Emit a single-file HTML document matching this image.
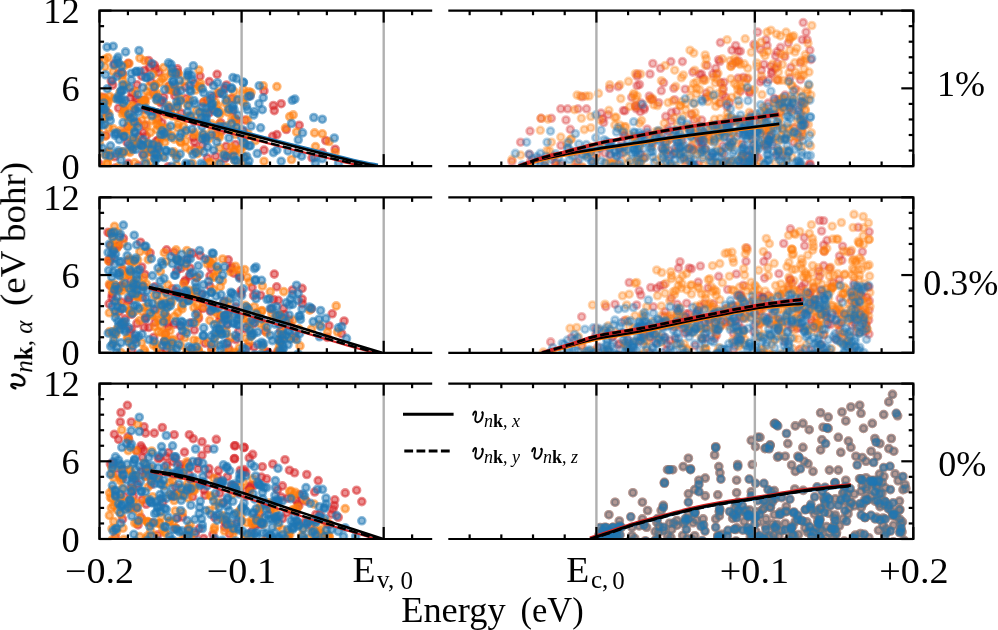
<!DOCTYPE html>
<html><head><meta charset="utf-8"><style>html,body{margin:0;padding:0;background:#fff;overflow:hidden}svg{display:block}</style></head>
<body><svg width="998" height="630" viewBox="0 0 998 630"><rect x="0" y="0" width="998" height="630" fill="#ffffff"/><defs><clipPath id="cl0"><rect x="99.5" y="10.6" width="331.6" height="155.5"/></clipPath><clipPath id="cr0"><rect x="449.4" y="10.6" width="463.9" height="155.5"/></clipPath><clipPath id="cl1"><rect x="99.5" y="197.3" width="331.6" height="155.5"/></clipPath><clipPath id="cr1"><rect x="449.4" y="197.3" width="463.9" height="155.5"/></clipPath><clipPath id="cl2"><rect x="99.5" y="383.6" width="331.6" height="155.39999999999998"/></clipPath><clipPath id="cr2"><rect x="449.4" y="383.6" width="463.9" height="155.39999999999998"/></clipPath></defs><g clip-path="url(#cl0)"><g fill="#d62728" fill-opacity="0.52" stroke="#d62728" stroke-opacity="0.52" stroke-width="2.6"><circle cx="114.2" cy="63.8" r="3.5"/><circle cx="149.4" cy="67.6" r="3.5"/><circle cx="156.1" cy="68.6" r="3.5"/><circle cx="176.1" cy="73.3" r="3.5"/><circle cx="141.8" cy="76.2" r="3.5"/><circle cx="159.0" cy="72.4" r="3.5"/><circle cx="111.3" cy="81.0" r="3.5"/><circle cx="137.0" cy="84.8" r="3.5"/><circle cx="130.4" cy="98.1" r="3.5"/><circle cx="163.7" cy="97.1" r="3.5"/><circle cx="151.3" cy="81.9" r="3.5"/><circle cx="177.6" cy="72.9" r="3.5"/><circle cx="200.0" cy="76.2" r="3.5"/><circle cx="217.1" cy="74.3" r="3.5"/><circle cx="224.3" cy="89.0" r="3.5"/><circle cx="212.9" cy="96.7" r="3.5"/><circle cx="207.1" cy="100.5" r="3.5"/><circle cx="174.8" cy="95.7" r="3.5"/><circle cx="264.0" cy="90.9" r="3.5"/><circle cx="273.4" cy="105.5" r="3.5"/><circle cx="281.2" cy="103.7" r="3.5"/><circle cx="274.3" cy="110.6" r="3.5"/><circle cx="286.3" cy="129.5" r="3.5"/><circle cx="299.2" cy="125.2" r="3.5"/><circle cx="276.9" cy="134.6" r="3.5"/><circle cx="325.8" cy="140.6" r="3.5"/><circle cx="272.6" cy="136.3" r="3.5"/><circle cx="322.3" cy="152.6" r="3.5"/><circle cx="335.2" cy="149.2" r="3.5"/><circle cx="264.0" cy="150.1" r="3.5"/><circle cx="312.0" cy="157.8" r="3.5"/><circle cx="128.3" cy="163.3" r="3.5"/><circle cx="137.5" cy="101.5" r="3.5"/><circle cx="232.3" cy="110.8" r="3.5"/><circle cx="243.7" cy="131.3" r="3.5"/><circle cx="134.4" cy="109.2" r="3.5"/><circle cx="160.9" cy="102.8" r="3.5"/><circle cx="106.6" cy="112.1" r="3.5"/><circle cx="98.8" cy="163.3" r="3.5"/><circle cx="235.5" cy="144.5" r="3.5"/><circle cx="224.9" cy="158.7" r="3.5"/><circle cx="194.8" cy="148.8" r="3.5"/><circle cx="207.4" cy="158.0" r="3.5"/><circle cx="106.1" cy="135.4" r="3.5"/><circle cx="144.9" cy="109.4" r="3.5"/><circle cx="235.0" cy="118.7" r="3.5"/><circle cx="124.4" cy="110.3" r="3.5"/><circle cx="121.4" cy="133.4" r="3.5"/><circle cx="158.3" cy="140.0" r="3.5"/><circle cx="215.8" cy="156.1" r="3.5"/><circle cx="194.4" cy="141.8" r="3.5"/><circle cx="234.2" cy="151.1" r="3.5"/><circle cx="215.8" cy="134.8" r="3.5"/><circle cx="209.1" cy="112.9" r="3.5"/><circle cx="212.0" cy="109.2" r="3.5"/><circle cx="220.7" cy="122.7" r="3.5"/><circle cx="146.1" cy="136.1" r="3.5"/><circle cx="161.9" cy="122.7" r="3.5"/><circle cx="205.2" cy="137.7" r="3.5"/><circle cx="144.9" cy="125.0" r="3.5"/><circle cx="227.4" cy="155.4" r="3.5"/><circle cx="127.5" cy="126.9" r="3.5"/><circle cx="221.8" cy="131.0" r="3.5"/><circle cx="236.8" cy="120.7" r="3.5"/><circle cx="170.3" cy="111.6" r="3.5"/><circle cx="168.2" cy="166.7" r="3.5"/><circle cx="142.8" cy="154.2" r="3.5"/><circle cx="115.1" cy="168.0" r="3.5"/><circle cx="114.9" cy="156.8" r="3.5"/><circle cx="156.9" cy="112.7" r="3.5"/><circle cx="186.2" cy="98.4" r="3.5"/><circle cx="143.4" cy="132.4" r="3.5"/><circle cx="168.8" cy="110.5" r="3.5"/><circle cx="168.8" cy="107.9" r="3.5"/><circle cx="127.1" cy="142.4" r="3.5"/><circle cx="138.6" cy="143.0" r="3.5"/><circle cx="139.0" cy="136.1" r="3.5"/><circle cx="226.2" cy="146.3" r="3.5"/><circle cx="161.4" cy="100.7" r="3.5"/><circle cx="181.0" cy="113.1" r="3.5"/><circle cx="137.4" cy="122.1" r="3.5"/><circle cx="151.4" cy="152.4" r="3.5"/><circle cx="193.1" cy="137.4" r="3.5"/><circle cx="202.1" cy="145.0" r="3.5"/><circle cx="245.2" cy="120.0" r="3.5"/><circle cx="156.3" cy="141.3" r="3.5"/><circle cx="118.6" cy="108.1" r="3.5"/><circle cx="136.0" cy="98.8" r="3.5"/><circle cx="138.7" cy="165.4" r="3.5"/><circle cx="157.9" cy="147.9" r="3.5"/><circle cx="194.3" cy="121.6" r="3.5"/><circle cx="158.1" cy="119.1" r="3.5"/><circle cx="118.4" cy="73.6" r="3.5"/><circle cx="128.2" cy="63.3" r="3.5"/><circle cx="169.5" cy="85.8" r="3.5"/><circle cx="209.3" cy="81.6" r="3.5"/><circle cx="148.6" cy="60.5" r="3.5"/><circle cx="103.1" cy="97.2" r="3.5"/><circle cx="175.6" cy="91.5" r="3.5"/><circle cx="97.9" cy="59.9" r="3.5"/><circle cx="154.3" cy="65.1" r="3.5"/><circle cx="122.4" cy="73.5" r="3.5"/><circle cx="194.1" cy="83.3" r="3.5"/><circle cx="177.4" cy="68.9" r="3.5"/><circle cx="112.7" cy="85.1" r="3.5"/><circle cx="219.1" cy="93.5" r="3.5"/><circle cx="249.8" cy="95.7" r="3.5"/><circle cx="175.2" cy="88.8" r="3.5"/><circle cx="131.9" cy="92.5" r="3.5"/><circle cx="203.2" cy="102.6" r="3.5"/><circle cx="144.6" cy="70.5" r="3.5"/><circle cx="185.3" cy="87.1" r="3.5"/><circle cx="169.4" cy="89.8" r="3.5"/><circle cx="226.6" cy="85.0" r="3.5"/><circle cx="144.4" cy="100.0" r="3.5"/><circle cx="231.9" cy="98.5" r="3.5"/><circle cx="153.5" cy="93.3" r="3.5"/></g><g fill="#ff7f0e" fill-opacity="0.52" stroke="#ff7f0e" stroke-opacity="0.52" stroke-width="2.6"><circle cx="139.9" cy="58.1" r="3.5"/><circle cx="108.0" cy="57.6" r="3.5"/><circle cx="124.7" cy="65.7" r="3.5"/><circle cx="105.1" cy="66.7" r="3.5"/><circle cx="163.7" cy="67.6" r="3.5"/><circle cx="113.2" cy="71.4" r="3.5"/><circle cx="122.8" cy="75.2" r="3.5"/><circle cx="153.2" cy="74.3" r="3.5"/><circle cx="164.7" cy="77.1" r="3.5"/><circle cx="170.4" cy="89.5" r="3.5"/><circle cx="119.9" cy="92.4" r="3.5"/><circle cx="109.4" cy="96.2" r="3.5"/><circle cx="149.4" cy="95.2" r="3.5"/><circle cx="157.0" cy="93.3" r="3.5"/><circle cx="199.0" cy="70.0" r="3.5"/><circle cx="195.7" cy="90.0" r="3.5"/><circle cx="218.1" cy="91.9" r="3.5"/><circle cx="215.2" cy="101.9" r="3.5"/><circle cx="235.7" cy="99.5" r="3.5"/><circle cx="242.4" cy="101.4" r="3.5"/><circle cx="179.5" cy="97.6" r="3.5"/><circle cx="187.1" cy="104.3" r="3.5"/><circle cx="249.0" cy="91.9" r="3.5"/><circle cx="263.2" cy="85.7" r="3.5"/><circle cx="276.9" cy="86.6" r="3.5"/><circle cx="251.1" cy="92.6" r="3.5"/><circle cx="247.7" cy="120.0" r="3.5"/><circle cx="293.2" cy="114.9" r="3.5"/><circle cx="289.7" cy="116.6" r="3.5"/><circle cx="285.5" cy="127.8" r="3.5"/><circle cx="296.6" cy="132.0" r="3.5"/><circle cx="314.6" cy="132.9" r="3.5"/><circle cx="322.3" cy="133.8" r="3.5"/><circle cx="329.2" cy="141.5" r="3.5"/><circle cx="315.5" cy="146.6" r="3.5"/><circle cx="335.2" cy="152.6" r="3.5"/><circle cx="291.5" cy="159.5" r="3.5"/><circle cx="264.0" cy="161.2" r="3.5"/><circle cx="241.7" cy="162.9" r="3.5"/><circle cx="255.4" cy="140.6" r="3.5"/><circle cx="165.7" cy="137.0" r="3.5"/><circle cx="174.2" cy="139.1" r="3.5"/><circle cx="247.3" cy="167.4" r="3.5"/><circle cx="167.4" cy="128.0" r="3.5"/><circle cx="194.6" cy="132.5" r="3.5"/><circle cx="138.8" cy="169.8" r="3.5"/><circle cx="106.8" cy="152.5" r="3.5"/><circle cx="157.2" cy="100.5" r="3.5"/><circle cx="105.2" cy="154.8" r="3.5"/><circle cx="141.6" cy="100.5" r="3.5"/><circle cx="133.4" cy="140.1" r="3.5"/><circle cx="124.2" cy="106.6" r="3.5"/><circle cx="126.3" cy="166.3" r="3.5"/><circle cx="132.7" cy="147.8" r="3.5"/><circle cx="187.9" cy="117.0" r="3.5"/><circle cx="151.8" cy="161.8" r="3.5"/><circle cx="99.3" cy="142.7" r="3.5"/><circle cx="145.1" cy="170.0" r="3.5"/><circle cx="209.5" cy="162.5" r="3.5"/><circle cx="218.2" cy="163.6" r="3.5"/><circle cx="234.7" cy="160.3" r="3.5"/><circle cx="185.7" cy="140.7" r="3.5"/><circle cx="209.2" cy="138.6" r="3.5"/><circle cx="108.9" cy="151.3" r="3.5"/><circle cx="170.1" cy="112.3" r="3.5"/><circle cx="146.4" cy="144.9" r="3.5"/><circle cx="185.8" cy="118.7" r="3.5"/><circle cx="129.0" cy="126.0" r="3.5"/><circle cx="144.6" cy="157.9" r="3.5"/><circle cx="132.6" cy="105.6" r="3.5"/><circle cx="164.8" cy="142.2" r="3.5"/><circle cx="243.6" cy="146.3" r="3.5"/><circle cx="203.4" cy="134.0" r="3.5"/><circle cx="239.6" cy="149.2" r="3.5"/><circle cx="192.3" cy="163.2" r="3.5"/><circle cx="231.4" cy="154.8" r="3.5"/><circle cx="196.3" cy="110.4" r="3.5"/><circle cx="247.0" cy="168.3" r="3.5"/><circle cx="108.7" cy="128.1" r="3.5"/><circle cx="217.3" cy="105.5" r="3.5"/><circle cx="177.1" cy="116.8" r="3.5"/><circle cx="227.0" cy="167.6" r="3.5"/><circle cx="126.9" cy="135.2" r="3.5"/><circle cx="100.3" cy="167.7" r="3.5"/><circle cx="219.4" cy="137.2" r="3.5"/><circle cx="162.8" cy="156.2" r="3.5"/><circle cx="177.7" cy="127.8" r="3.5"/><circle cx="177.5" cy="107.0" r="3.5"/><circle cx="194.3" cy="134.7" r="3.5"/><circle cx="227.9" cy="112.4" r="3.5"/><circle cx="173.9" cy="151.9" r="3.5"/><circle cx="167.9" cy="133.6" r="3.5"/><circle cx="219.5" cy="147.9" r="3.5"/><circle cx="219.9" cy="114.4" r="3.5"/><circle cx="231.5" cy="147.1" r="3.5"/><circle cx="198.6" cy="120.3" r="3.5"/><circle cx="178.1" cy="124.2" r="3.5"/><circle cx="190.8" cy="150.4" r="3.5"/><circle cx="134.6" cy="162.9" r="3.5"/><circle cx="244.9" cy="137.6" r="3.5"/><circle cx="120.6" cy="130.4" r="3.5"/><circle cx="176.6" cy="165.3" r="3.5"/><circle cx="177.3" cy="104.3" r="3.5"/><circle cx="166.2" cy="114.7" r="3.5"/><circle cx="201.5" cy="137.4" r="3.5"/><circle cx="179.4" cy="100.4" r="3.5"/><circle cx="180.8" cy="142.3" r="3.5"/><circle cx="128.4" cy="120.8" r="3.5"/><circle cx="107.4" cy="104.0" r="3.5"/><circle cx="108.1" cy="101.2" r="3.5"/><circle cx="156.9" cy="124.1" r="3.5"/><circle cx="218.8" cy="135.5" r="3.5"/><circle cx="99.4" cy="133.7" r="3.5"/><circle cx="209.5" cy="162.4" r="3.5"/><circle cx="129.9" cy="152.4" r="3.5"/><circle cx="156.7" cy="120.3" r="3.5"/><circle cx="172.0" cy="135.3" r="3.5"/><circle cx="236.9" cy="125.8" r="3.5"/><circle cx="243.5" cy="143.0" r="3.5"/><circle cx="105.1" cy="118.1" r="3.5"/><circle cx="215.5" cy="108.5" r="3.5"/><circle cx="124.4" cy="111.3" r="3.5"/><circle cx="122.6" cy="151.8" r="3.5"/><circle cx="219.4" cy="123.9" r="3.5"/><circle cx="97.7" cy="130.4" r="3.5"/><circle cx="145.6" cy="114.5" r="3.5"/><circle cx="194.1" cy="169.5" r="3.5"/><circle cx="119.2" cy="152.8" r="3.5"/><circle cx="110.0" cy="157.0" r="3.5"/><circle cx="143.9" cy="100.7" r="3.5"/><circle cx="156.7" cy="129.6" r="3.5"/><circle cx="205.3" cy="112.8" r="3.5"/><circle cx="190.9" cy="116.8" r="3.5"/><circle cx="141.9" cy="120.3" r="3.5"/><circle cx="130.9" cy="106.8" r="3.5"/><circle cx="107.2" cy="164.0" r="3.5"/><circle cx="147.0" cy="125.9" r="3.5"/><circle cx="203.8" cy="168.6" r="3.5"/><circle cx="174.4" cy="154.1" r="3.5"/><circle cx="120.4" cy="152.5" r="3.5"/><circle cx="150.3" cy="132.5" r="3.5"/><circle cx="248.0" cy="133.7" r="3.5"/><circle cx="108.8" cy="113.3" r="3.5"/><circle cx="146.7" cy="164.7" r="3.5"/><circle cx="236.0" cy="169.4" r="3.5"/><circle cx="199.4" cy="150.3" r="3.5"/><circle cx="168.1" cy="105.7" r="3.5"/><circle cx="122.7" cy="134.0" r="3.5"/><circle cx="147.1" cy="143.1" r="3.5"/><circle cx="118.3" cy="166.9" r="3.5"/><circle cx="159.4" cy="141.8" r="3.5"/><circle cx="211.8" cy="131.4" r="3.5"/><circle cx="227.7" cy="125.7" r="3.5"/><circle cx="235.4" cy="134.4" r="3.5"/><circle cx="235.3" cy="119.1" r="3.5"/><circle cx="234.6" cy="149.9" r="3.5"/><circle cx="244.8" cy="144.9" r="3.5"/><circle cx="220.0" cy="111.6" r="3.5"/><circle cx="123.9" cy="112.7" r="3.5"/><circle cx="153.4" cy="144.7" r="3.5"/><circle cx="131.3" cy="117.6" r="3.5"/><circle cx="188.4" cy="116.3" r="3.5"/><circle cx="211.6" cy="123.9" r="3.5"/><circle cx="197.4" cy="153.7" r="3.5"/><circle cx="122.8" cy="153.5" r="3.5"/><circle cx="132.2" cy="128.0" r="3.5"/><circle cx="185.3" cy="132.4" r="3.5"/><circle cx="162.9" cy="128.1" r="3.5"/><circle cx="107.2" cy="163.0" r="3.5"/><circle cx="102.5" cy="118.6" r="3.5"/><circle cx="136.8" cy="139.2" r="3.5"/><circle cx="122.4" cy="114.1" r="3.5"/><circle cx="224.0" cy="154.0" r="3.5"/><circle cx="152.1" cy="120.3" r="3.5"/><circle cx="148.9" cy="147.1" r="3.5"/><circle cx="232.5" cy="129.7" r="3.5"/><circle cx="129.0" cy="130.1" r="3.5"/><circle cx="136.4" cy="124.5" r="3.5"/><circle cx="231.9" cy="119.4" r="3.5"/><circle cx="161.3" cy="135.8" r="3.5"/><circle cx="127.5" cy="116.0" r="3.5"/><circle cx="132.1" cy="142.4" r="3.5"/><circle cx="172.6" cy="116.0" r="3.5"/><circle cx="185.7" cy="147.6" r="3.5"/><circle cx="99.6" cy="121.0" r="3.5"/><circle cx="136.3" cy="145.1" r="3.5"/><circle cx="190.7" cy="166.6" r="3.5"/><circle cx="241.1" cy="152.9" r="3.5"/><circle cx="159.3" cy="126.2" r="3.5"/><circle cx="200.7" cy="112.6" r="3.5"/><circle cx="156.7" cy="113.0" r="3.5"/><circle cx="180.4" cy="141.8" r="3.5"/><circle cx="144.3" cy="148.7" r="3.5"/><circle cx="244.4" cy="156.8" r="3.5"/><circle cx="105.7" cy="100.2" r="3.5"/><circle cx="113.4" cy="128.9" r="3.5"/><circle cx="147.4" cy="151.9" r="3.5"/><circle cx="183.4" cy="126.5" r="3.5"/><circle cx="239.7" cy="169.2" r="3.5"/><circle cx="114.2" cy="98.2" r="3.5"/><circle cx="156.0" cy="147.1" r="3.5"/><circle cx="99.0" cy="137.4" r="3.5"/><circle cx="143.6" cy="100.9" r="3.5"/><circle cx="104.9" cy="136.3" r="3.5"/><circle cx="151.3" cy="151.5" r="3.5"/><circle cx="177.2" cy="155.8" r="3.5"/><circle cx="157.5" cy="155.2" r="3.5"/><circle cx="145.5" cy="102.1" r="3.5"/><circle cx="128.5" cy="150.7" r="3.5"/><circle cx="105.1" cy="98.2" r="3.5"/><circle cx="162.2" cy="78.7" r="3.5"/><circle cx="155.8" cy="95.2" r="3.5"/><circle cx="149.0" cy="86.4" r="3.5"/><circle cx="129.0" cy="63.5" r="3.5"/><circle cx="179.4" cy="85.4" r="3.5"/><circle cx="171.1" cy="73.8" r="3.5"/><circle cx="173.2" cy="90.4" r="3.5"/><circle cx="189.4" cy="99.8" r="3.5"/><circle cx="227.6" cy="99.1" r="3.5"/><circle cx="178.6" cy="74.1" r="3.5"/><circle cx="168.0" cy="86.2" r="3.5"/><circle cx="243.3" cy="89.4" r="3.5"/><circle cx="144.7" cy="60.7" r="3.5"/><circle cx="155.3" cy="84.8" r="3.5"/><circle cx="242.7" cy="93.4" r="3.5"/><circle cx="122.6" cy="80.6" r="3.5"/><circle cx="225.7" cy="103.3" r="3.5"/><circle cx="99.8" cy="96.7" r="3.5"/><circle cx="228.5" cy="108.6" r="3.5"/><circle cx="171.5" cy="72.0" r="3.5"/><circle cx="200.4" cy="83.4" r="3.5"/><circle cx="117.7" cy="64.4" r="3.5"/><circle cx="185.1" cy="80.6" r="3.5"/><circle cx="146.8" cy="91.8" r="3.5"/><circle cx="124.1" cy="85.3" r="3.5"/><circle cx="135.5" cy="91.5" r="3.5"/><circle cx="204.6" cy="101.3" r="3.5"/><circle cx="155.2" cy="85.5" r="3.5"/><circle cx="199.1" cy="86.5" r="3.5"/><circle cx="104.7" cy="59.4" r="3.5"/><circle cx="96.1" cy="60.6" r="3.5"/><circle cx="244.0" cy="102.9" r="3.5"/><circle cx="200.1" cy="87.0" r="3.5"/><circle cx="234.0" cy="91.5" r="3.5"/><circle cx="126.4" cy="85.4" r="3.5"/><circle cx="159.8" cy="82.4" r="3.5"/></g><g fill="#1f77b4" fill-opacity="0.52" stroke="#1f77b4" stroke-opacity="0.52" stroke-width="2.6"><circle cx="107.0" cy="47.1" r="3.5"/><circle cx="113.2" cy="46.2" r="3.5"/><circle cx="125.6" cy="51.9" r="3.5"/><circle cx="139.0" cy="50.5" r="3.5"/><circle cx="118.0" cy="57.1" r="3.5"/><circle cx="168.5" cy="62.9" r="3.5"/><circle cx="105.6" cy="74.8" r="3.5"/><circle cx="117.0" cy="76.2" r="3.5"/><circle cx="131.3" cy="73.3" r="3.5"/><circle cx="139.9" cy="71.4" r="3.5"/><circle cx="173.2" cy="81.0" r="3.5"/><circle cx="112.3" cy="80.0" r="3.5"/><circle cx="122.8" cy="84.8" r="3.5"/><circle cx="129.4" cy="87.6" r="3.5"/><circle cx="131.3" cy="80.0" r="3.5"/><circle cx="142.8" cy="87.6" r="3.5"/><circle cx="154.2" cy="86.7" r="3.5"/><circle cx="164.7" cy="89.5" r="3.5"/><circle cx="121.8" cy="99.0" r="3.5"/><circle cx="138.0" cy="94.3" r="3.5"/><circle cx="174.2" cy="84.8" r="3.5"/><circle cx="171.0" cy="64.3" r="3.5"/><circle cx="193.3" cy="65.7" r="3.5"/><circle cx="188.1" cy="74.3" r="3.5"/><circle cx="191.4" cy="75.2" r="3.5"/><circle cx="232.9" cy="77.6" r="3.5"/><circle cx="236.7" cy="78.6" r="3.5"/><circle cx="243.3" cy="82.4" r="3.5"/><circle cx="179.5" cy="80.5" r="3.5"/><circle cx="172.9" cy="81.4" r="3.5"/><circle cx="190.0" cy="85.2" r="3.5"/><circle cx="181.0" cy="90.5" r="3.5"/><circle cx="203.8" cy="92.9" r="3.5"/><circle cx="226.2" cy="100.5" r="3.5"/><circle cx="193.8" cy="100.5" r="3.5"/><circle cx="176.7" cy="101.9" r="3.5"/><circle cx="202.4" cy="107.1" r="3.5"/><circle cx="232.4" cy="107.6" r="3.5"/><circle cx="248.1" cy="96.7" r="3.5"/><circle cx="243.4" cy="82.3" r="3.5"/><circle cx="259.2" cy="85.7" r="3.5"/><circle cx="250.3" cy="96.0" r="3.5"/><circle cx="263.2" cy="97.7" r="3.5"/><circle cx="292.3" cy="100.3" r="3.5"/><circle cx="294.9" cy="99.1" r="3.5"/><circle cx="258.9" cy="103.7" r="3.5"/><circle cx="262.3" cy="109.7" r="3.5"/><circle cx="254.6" cy="111.5" r="3.5"/><circle cx="253.7" cy="114.9" r="3.5"/><circle cx="291.5" cy="123.5" r="3.5"/><circle cx="313.8" cy="117.5" r="3.5"/><circle cx="322.3" cy="119.2" r="3.5"/><circle cx="260.6" cy="127.8" r="3.5"/><circle cx="251.1" cy="126.0" r="3.5"/><circle cx="302.6" cy="132.9" r="3.5"/><circle cx="334.3" cy="138.0" r="3.5"/><circle cx="298.3" cy="139.8" r="3.5"/><circle cx="250.3" cy="145.8" r="3.5"/><circle cx="257.2" cy="153.5" r="3.5"/><circle cx="273.4" cy="152.6" r="3.5"/><circle cx="276.9" cy="150.1" r="3.5"/><circle cx="288.0" cy="150.9" r="3.5"/><circle cx="296.6" cy="153.5" r="3.5"/><circle cx="301.7" cy="156.1" r="3.5"/><circle cx="281.2" cy="161.2" r="3.5"/><circle cx="314.6" cy="157.8" r="3.5"/><circle cx="322.3" cy="158.6" r="3.5"/><circle cx="338.6" cy="162.9" r="3.5"/><circle cx="244.3" cy="157.8" r="3.5"/><circle cx="315.5" cy="162.9" r="3.5"/><circle cx="243.4" cy="142.3" r="3.5"/><circle cx="193.0" cy="154.5" r="3.5"/><circle cx="110.0" cy="155.7" r="3.5"/><circle cx="105.2" cy="109.3" r="3.5"/><circle cx="205.0" cy="118.6" r="3.5"/><circle cx="155.5" cy="166.9" r="3.5"/><circle cx="212.7" cy="103.8" r="3.5"/><circle cx="164.9" cy="109.3" r="3.5"/><circle cx="195.1" cy="103.7" r="3.5"/><circle cx="137.5" cy="167.8" r="3.5"/><circle cx="128.8" cy="114.4" r="3.5"/><circle cx="190.6" cy="116.0" r="3.5"/><circle cx="98.6" cy="115.2" r="3.5"/><circle cx="123.1" cy="122.7" r="3.5"/><circle cx="202.4" cy="138.8" r="3.5"/><circle cx="229.0" cy="138.0" r="3.5"/><circle cx="249.0" cy="161.0" r="3.5"/><circle cx="190.6" cy="164.0" r="3.5"/><circle cx="142.4" cy="145.9" r="3.5"/><circle cx="220.1" cy="163.6" r="3.5"/><circle cx="138.6" cy="107.7" r="3.5"/><circle cx="102.4" cy="148.1" r="3.5"/><circle cx="206.0" cy="108.4" r="3.5"/><circle cx="156.6" cy="154.4" r="3.5"/><circle cx="145.3" cy="163.2" r="3.5"/><circle cx="105.9" cy="155.0" r="3.5"/><circle cx="171.9" cy="166.2" r="3.5"/><circle cx="176.5" cy="158.3" r="3.5"/><circle cx="154.7" cy="158.4" r="3.5"/><circle cx="238.2" cy="115.2" r="3.5"/><circle cx="115.9" cy="153.4" r="3.5"/><circle cx="131.0" cy="146.5" r="3.5"/><circle cx="114.9" cy="133.3" r="3.5"/><circle cx="129.6" cy="169.9" r="3.5"/><circle cx="132.9" cy="149.5" r="3.5"/><circle cx="224.2" cy="126.6" r="3.5"/><circle cx="158.0" cy="146.4" r="3.5"/><circle cx="201.1" cy="163.4" r="3.5"/><circle cx="125.1" cy="100.3" r="3.5"/><circle cx="181.0" cy="133.6" r="3.5"/><circle cx="242.5" cy="129.7" r="3.5"/><circle cx="98.0" cy="147.6" r="3.5"/><circle cx="165.9" cy="150.5" r="3.5"/><circle cx="158.5" cy="149.2" r="3.5"/><circle cx="204.0" cy="152.1" r="3.5"/><circle cx="103.8" cy="109.7" r="3.5"/><circle cx="160.8" cy="134.5" r="3.5"/><circle cx="140.0" cy="144.1" r="3.5"/><circle cx="206.4" cy="117.2" r="3.5"/><circle cx="102.6" cy="106.7" r="3.5"/><circle cx="162.1" cy="130.8" r="3.5"/><circle cx="246.7" cy="156.3" r="3.5"/><circle cx="192.1" cy="129.2" r="3.5"/><circle cx="216.8" cy="141.9" r="3.5"/><circle cx="237.0" cy="160.9" r="3.5"/><circle cx="137.7" cy="126.9" r="3.5"/><circle cx="214.4" cy="111.0" r="3.5"/><circle cx="201.5" cy="117.4" r="3.5"/><circle cx="128.8" cy="144.7" r="3.5"/><circle cx="207.6" cy="147.0" r="3.5"/><circle cx="151.1" cy="149.4" r="3.5"/><circle cx="236.7" cy="127.8" r="3.5"/><circle cx="134.2" cy="122.1" r="3.5"/><circle cx="123.2" cy="151.9" r="3.5"/><circle cx="244.8" cy="143.8" r="3.5"/><circle cx="180.2" cy="154.1" r="3.5"/><circle cx="118.2" cy="150.9" r="3.5"/><circle cx="219.5" cy="126.6" r="3.5"/><circle cx="210.1" cy="169.3" r="3.5"/><circle cx="185.9" cy="163.2" r="3.5"/><circle cx="187.6" cy="111.8" r="3.5"/><circle cx="138.3" cy="169.3" r="3.5"/><circle cx="205.8" cy="140.5" r="3.5"/><circle cx="226.3" cy="156.7" r="3.5"/><circle cx="177.0" cy="106.8" r="3.5"/><circle cx="206.1" cy="122.0" r="3.5"/><circle cx="97.6" cy="169.4" r="3.5"/><circle cx="135.5" cy="110.0" r="3.5"/><circle cx="241.5" cy="137.2" r="3.5"/><circle cx="110.5" cy="145.8" r="3.5"/><circle cx="158.0" cy="157.8" r="3.5"/><circle cx="195.7" cy="152.5" r="3.5"/><circle cx="148.7" cy="143.8" r="3.5"/><circle cx="126.4" cy="165.9" r="3.5"/><circle cx="179.7" cy="137.1" r="3.5"/><circle cx="133.1" cy="138.0" r="3.5"/><circle cx="180.4" cy="100.7" r="3.5"/><circle cx="248.0" cy="165.5" r="3.5"/><circle cx="142.9" cy="139.5" r="3.5"/><circle cx="164.8" cy="132.7" r="3.5"/><circle cx="203.0" cy="134.5" r="3.5"/><circle cx="115.1" cy="135.3" r="3.5"/><circle cx="133.6" cy="117.4" r="3.5"/><circle cx="233.8" cy="156.2" r="3.5"/><circle cx="234.1" cy="109.7" r="3.5"/><circle cx="103.7" cy="103.0" r="3.5"/><circle cx="234.6" cy="160.2" r="3.5"/><circle cx="203.2" cy="165.3" r="3.5"/><circle cx="130.4" cy="118.0" r="3.5"/><circle cx="163.8" cy="134.6" r="3.5"/><circle cx="109.4" cy="116.4" r="3.5"/><circle cx="123.7" cy="136.7" r="3.5"/><circle cx="217.8" cy="112.7" r="3.5"/><circle cx="206.1" cy="137.9" r="3.5"/><circle cx="217.9" cy="112.8" r="3.5"/><circle cx="152.1" cy="111.2" r="3.5"/><circle cx="171.4" cy="152.1" r="3.5"/><circle cx="166.1" cy="150.9" r="3.5"/><circle cx="233.1" cy="105.6" r="3.5"/><circle cx="213.5" cy="150.1" r="3.5"/><circle cx="102.1" cy="125.2" r="3.5"/><circle cx="154.7" cy="153.6" r="3.5"/><circle cx="124.3" cy="136.2" r="3.5"/><circle cx="249.0" cy="145.9" r="3.5"/><circle cx="151.9" cy="115.6" r="3.5"/><circle cx="99.1" cy="119.2" r="3.5"/><circle cx="104.5" cy="124.5" r="3.5"/><circle cx="119.2" cy="139.7" r="3.5"/><circle cx="136.1" cy="149.4" r="3.5"/><circle cx="155.5" cy="159.9" r="3.5"/><circle cx="149.1" cy="111.2" r="3.5"/><circle cx="141.9" cy="145.3" r="3.5"/><circle cx="156.4" cy="99.5" r="3.5"/><circle cx="169.2" cy="107.5" r="3.5"/><circle cx="110.3" cy="120.6" r="3.5"/><circle cx="99.5" cy="124.4" r="3.5"/><circle cx="186.2" cy="130.2" r="3.5"/><circle cx="231.5" cy="123.6" r="3.5"/><circle cx="116.9" cy="133.0" r="3.5"/><circle cx="246.5" cy="106.2" r="3.5"/><circle cx="171.6" cy="137.3" r="3.5"/><circle cx="211.3" cy="135.0" r="3.5"/><circle cx="146.0" cy="108.3" r="3.5"/><circle cx="121.0" cy="160.0" r="3.5"/><circle cx="135.1" cy="133.1" r="3.5"/><circle cx="206.3" cy="113.9" r="3.5"/><circle cx="224.0" cy="155.1" r="3.5"/><circle cx="199.1" cy="112.3" r="3.5"/><circle cx="186.2" cy="165.6" r="3.5"/><circle cx="201.9" cy="126.4" r="3.5"/><circle cx="100.1" cy="135.7" r="3.5"/><circle cx="143.6" cy="155.0" r="3.5"/><circle cx="134.7" cy="131.6" r="3.5"/><circle cx="138.2" cy="112.1" r="3.5"/><circle cx="170.6" cy="126.1" r="3.5"/><circle cx="164.3" cy="157.5" r="3.5"/><circle cx="100.1" cy="107.7" r="3.5"/><circle cx="97.6" cy="110.8" r="3.5"/><circle cx="99.6" cy="138.3" r="3.5"/><circle cx="152.9" cy="144.3" r="3.5"/><circle cx="123.3" cy="102.9" r="3.5"/><circle cx="121.2" cy="90.3" r="3.5"/><circle cx="187.8" cy="76.0" r="3.5"/><circle cx="202.3" cy="88.8" r="3.5"/><circle cx="123.4" cy="90.2" r="3.5"/><circle cx="211.3" cy="104.3" r="3.5"/><circle cx="247.5" cy="109.9" r="3.5"/><circle cx="217.5" cy="82.7" r="3.5"/><circle cx="97.2" cy="68.4" r="3.5"/><circle cx="145.6" cy="77.5" r="3.5"/><circle cx="116.9" cy="59.7" r="3.5"/><circle cx="136.5" cy="71.4" r="3.5"/><circle cx="157.5" cy="97.5" r="3.5"/><circle cx="99.8" cy="65.0" r="3.5"/><circle cx="121.1" cy="91.5" r="3.5"/><circle cx="211.0" cy="106.7" r="3.5"/><circle cx="223.2" cy="94.2" r="3.5"/><circle cx="228.8" cy="109.3" r="3.5"/><circle cx="192.2" cy="79.8" r="3.5"/><circle cx="146.9" cy="77.7" r="3.5"/><circle cx="107.3" cy="88.7" r="3.5"/><circle cx="190.9" cy="91.4" r="3.5"/><circle cx="119.3" cy="99.4" r="3.5"/><circle cx="135.9" cy="71.9" r="3.5"/><circle cx="114.0" cy="65.0" r="3.5"/><circle cx="188.6" cy="105.6" r="3.5"/><circle cx="225.2" cy="86.9" r="3.5"/><circle cx="172.1" cy="68.3" r="3.5"/><circle cx="151.9" cy="63.6" r="3.5"/><circle cx="231.7" cy="87.9" r="3.5"/><circle cx="175.6" cy="73.2" r="3.5"/><circle cx="121.7" cy="66.1" r="3.5"/><circle cx="189.8" cy="90.1" r="3.5"/><circle cx="118.5" cy="62.9" r="3.5"/><circle cx="231.3" cy="88.5" r="3.5"/><circle cx="163.0" cy="101.1" r="3.5"/><circle cx="237.9" cy="99.6" r="3.5"/><circle cx="210.7" cy="98.7" r="3.5"/><circle cx="96.9" cy="75.0" r="3.5"/><circle cx="221.3" cy="93.0" r="3.5"/><circle cx="118.1" cy="96.5" r="3.5"/><circle cx="150.2" cy="76.1" r="3.5"/><circle cx="172.6" cy="72.8" r="3.5"/><circle cx="121.5" cy="72.4" r="3.5"/><circle cx="177.0" cy="92.3" r="3.5"/><circle cx="188.0" cy="71.7" r="3.5"/><circle cx="213.6" cy="85.7" r="3.5"/><circle cx="116.9" cy="99.1" r="3.5"/><circle cx="210.9" cy="95.0" r="3.5"/></g></g><g clip-path="url(#cr0)"><g fill="#d62728" fill-opacity="0.32" stroke="#d62728" stroke-opacity="0.32" stroke-width="2.6"><circle cx="582.2" cy="96.8" r="3.5"/><circle cx="609.7" cy="88.3" r="3.5"/><circle cx="618.2" cy="86.6" r="3.5"/><circle cx="637.1" cy="76.3" r="3.5"/><circle cx="637.1" cy="85.7" r="3.5"/><circle cx="635.4" cy="105.4" r="3.5"/><circle cx="623.4" cy="110.5" r="3.5"/><circle cx="560.8" cy="108.8" r="3.5"/><circle cx="567.7" cy="108.8" r="3.5"/><circle cx="578.0" cy="108.8" r="3.5"/><circle cx="586.5" cy="108.8" r="3.5"/><circle cx="601.1" cy="113.1" r="3.5"/><circle cx="603.7" cy="122.5" r="3.5"/><circle cx="541.1" cy="118.3" r="3.5"/><circle cx="551.4" cy="118.3" r="3.5"/><circle cx="566.0" cy="120.0" r="3.5"/><circle cx="530.0" cy="131.1" r="3.5"/><circle cx="570.3" cy="129.4" r="3.5"/><circle cx="520.6" cy="142.2" r="3.5"/><circle cx="803.2" cy="22.6" r="3.5"/><circle cx="806.1" cy="32.1" r="3.5"/><circle cx="802.3" cy="39.7" r="3.5"/><circle cx="807.1" cy="39.7" r="3.5"/><circle cx="809.9" cy="50.2" r="3.5"/><circle cx="757.6" cy="32.1" r="3.5"/><circle cx="766.1" cy="39.7" r="3.5"/><circle cx="767.1" cy="45.5" r="3.5"/><circle cx="780.4" cy="47.4" r="3.5"/><circle cx="775.6" cy="55.9" r="3.5"/><circle cx="777.5" cy="63.5" r="3.5"/><circle cx="790.9" cy="67.4" r="3.5"/><circle cx="810.9" cy="59.7" r="3.5"/><circle cx="800.4" cy="62.6" r="3.5"/><circle cx="720.4" cy="42.6" r="3.5"/><circle cx="735.7" cy="45.5" r="3.5"/><circle cx="731.9" cy="50.2" r="3.5"/><circle cx="740.4" cy="51.2" r="3.5"/><circle cx="718.5" cy="59.7" r="3.5"/><circle cx="738.5" cy="60.7" r="3.5"/><circle cx="652.8" cy="63.5" r="3.5"/><circle cx="637.6" cy="74.0" r="3.5"/><circle cx="650.0" cy="74.0" r="3.5"/><circle cx="660.5" cy="68.3" r="3.5"/><circle cx="670.9" cy="61.6" r="3.5"/><circle cx="682.4" cy="61.6" r="3.5"/><circle cx="692.8" cy="72.1" r="3.5"/><circle cx="701.4" cy="74.0" r="3.5"/><circle cx="707.1" cy="65.5" r="3.5"/><circle cx="715.7" cy="68.3" r="3.5"/><circle cx="716.6" cy="74.0" r="3.5"/><circle cx="720.4" cy="82.6" r="3.5"/><circle cx="639.5" cy="84.5" r="3.5"/><circle cx="650.9" cy="98.8" r="3.5"/><circle cx="673.8" cy="88.3" r="3.5"/><circle cx="685.2" cy="89.2" r="3.5"/><circle cx="706.2" cy="93.1" r="3.5"/><circle cx="740.4" cy="91.2" r="3.5"/><circle cx="749.9" cy="93.1" r="3.5"/><circle cx="747.1" cy="78.8" r="3.5"/><circle cx="761.4" cy="70.2" r="3.5"/><circle cx="762.3" cy="79.7" r="3.5"/><circle cx="769.0" cy="79.7" r="3.5"/><circle cx="777.5" cy="79.7" r="3.5"/><circle cx="789.9" cy="77.8" r="3.5"/><circle cx="800.4" cy="79.7" r="3.5"/><circle cx="795.6" cy="89.2" r="3.5"/><circle cx="635.7" cy="106.4" r="3.5"/><circle cx="674.7" cy="99.7" r="3.5"/><circle cx="577.1" cy="152.4" r="3.5"/><circle cx="808.7" cy="166.9" r="3.5"/><circle cx="702.0" cy="144.5" r="3.5"/><circle cx="743.7" cy="162.2" r="3.5"/><circle cx="802.8" cy="121.2" r="3.5"/><circle cx="675.3" cy="152.0" r="3.5"/><circle cx="751.4" cy="148.9" r="3.5"/><circle cx="709.0" cy="136.5" r="3.5"/><circle cx="697.9" cy="137.9" r="3.5"/><circle cx="717.3" cy="128.4" r="3.5"/><circle cx="742.0" cy="144.1" r="3.5"/><circle cx="693.0" cy="149.5" r="3.5"/><circle cx="773.5" cy="169.7" r="3.5"/><circle cx="700.1" cy="140.4" r="3.5"/><circle cx="669.0" cy="150.2" r="3.5"/><circle cx="809.7" cy="164.5" r="3.5"/><circle cx="728.3" cy="122.2" r="3.5"/><circle cx="801.7" cy="131.1" r="3.5"/><circle cx="688.5" cy="148.8" r="3.5"/><circle cx="667.8" cy="128.4" r="3.5"/><circle cx="702.6" cy="142.6" r="3.5"/><circle cx="805.5" cy="124.1" r="3.5"/><circle cx="776.6" cy="154.6" r="3.5"/><circle cx="674.1" cy="169.6" r="3.5"/><circle cx="638.3" cy="168.4" r="3.5"/><circle cx="694.5" cy="133.1" r="3.5"/><circle cx="749.1" cy="169.1" r="3.5"/><circle cx="695.2" cy="165.6" r="3.5"/><circle cx="782.4" cy="155.3" r="3.5"/><circle cx="619.1" cy="148.2" r="3.5"/><circle cx="753.0" cy="122.4" r="3.5"/><circle cx="800.0" cy="137.2" r="3.5"/><circle cx="610.4" cy="155.1" r="3.5"/><circle cx="597.0" cy="153.5" r="3.5"/><circle cx="511.9" cy="161.5" r="3.5"/><circle cx="800.4" cy="113.4" r="3.5"/><circle cx="728.0" cy="127.4" r="3.5"/><circle cx="677.3" cy="145.9" r="3.5"/><circle cx="766.3" cy="136.2" r="3.5"/><circle cx="750.4" cy="133.0" r="3.5"/><circle cx="623.8" cy="135.1" r="3.5"/><circle cx="698.4" cy="164.4" r="3.5"/><circle cx="741.7" cy="160.5" r="3.5"/><circle cx="529.5" cy="154.4" r="3.5"/><circle cx="640.7" cy="153.9" r="3.5"/><circle cx="670.5" cy="138.9" r="3.5"/><circle cx="727.0" cy="161.7" r="3.5"/><circle cx="722.9" cy="153.4" r="3.5"/><circle cx="722.8" cy="145.8" r="3.5"/><circle cx="711.5" cy="156.6" r="3.5"/><circle cx="664.0" cy="141.6" r="3.5"/><circle cx="699.7" cy="137.9" r="3.5"/><circle cx="770.0" cy="135.9" r="3.5"/><circle cx="810.0" cy="163.7" r="3.5"/><circle cx="648.5" cy="134.8" r="3.5"/><circle cx="691.5" cy="146.8" r="3.5"/><circle cx="753.2" cy="162.4" r="3.5"/><circle cx="769.8" cy="130.8" r="3.5"/><circle cx="682.1" cy="140.6" r="3.5"/><circle cx="751.7" cy="125.9" r="3.5"/><circle cx="780.3" cy="112.3" r="3.5"/><circle cx="560.9" cy="145.4" r="3.5"/><circle cx="685.7" cy="160.6" r="3.5"/><circle cx="792.9" cy="109.5" r="3.5"/><circle cx="555.4" cy="164.6" r="3.5"/><circle cx="768.8" cy="140.3" r="3.5"/><circle cx="643.6" cy="157.7" r="3.5"/><circle cx="544.9" cy="165.8" r="3.5"/><circle cx="577.2" cy="161.6" r="3.5"/><circle cx="746.2" cy="156.0" r="3.5"/><circle cx="789.5" cy="107.7" r="3.5"/><circle cx="794.0" cy="142.3" r="3.5"/><circle cx="574.5" cy="167.7" r="3.5"/><circle cx="560.6" cy="165.0" r="3.5"/><circle cx="697.8" cy="136.8" r="3.5"/><circle cx="622.6" cy="147.2" r="3.5"/><circle cx="652.4" cy="143.6" r="3.5"/><circle cx="582.6" cy="167.8" r="3.5"/><circle cx="772.7" cy="145.0" r="3.5"/><circle cx="662.3" cy="148.6" r="3.5"/><circle cx="553.2" cy="156.5" r="3.5"/><circle cx="765.0" cy="144.5" r="3.5"/><circle cx="617.7" cy="163.8" r="3.5"/><circle cx="758.1" cy="157.5" r="3.5"/><circle cx="699.5" cy="148.0" r="3.5"/><circle cx="747.1" cy="155.8" r="3.5"/><circle cx="739.4" cy="133.6" r="3.5"/><circle cx="742.8" cy="155.1" r="3.5"/><circle cx="620.0" cy="154.5" r="3.5"/><circle cx="670.6" cy="155.2" r="3.5"/><circle cx="802.0" cy="101.8" r="3.5"/><circle cx="605.1" cy="153.3" r="3.5"/><circle cx="705.2" cy="148.9" r="3.5"/><circle cx="555.5" cy="161.9" r="3.5"/><circle cx="753.2" cy="139.9" r="3.5"/><circle cx="621.7" cy="141.5" r="3.5"/><circle cx="779.5" cy="102.0" r="3.5"/><circle cx="592.6" cy="160.7" r="3.5"/><circle cx="701.7" cy="120.1" r="3.5"/><circle cx="754.6" cy="155.5" r="3.5"/><circle cx="538.6" cy="158.9" r="3.5"/><circle cx="705.0" cy="132.7" r="3.5"/><circle cx="530.7" cy="161.2" r="3.5"/><circle cx="765.5" cy="146.6" r="3.5"/><circle cx="732.2" cy="122.0" r="3.5"/><circle cx="762.9" cy="130.2" r="3.5"/><circle cx="729.7" cy="138.8" r="3.5"/><circle cx="647.1" cy="129.0" r="3.5"/><circle cx="774.2" cy="98.3" r="3.5"/><circle cx="625.1" cy="135.7" r="3.5"/><circle cx="800.6" cy="105.1" r="3.5"/><circle cx="785.1" cy="95.1" r="3.5"/><circle cx="777.9" cy="99.8" r="3.5"/><circle cx="720.2" cy="102.9" r="3.5"/><circle cx="671.2" cy="120.9" r="3.5"/><circle cx="751.7" cy="114.4" r="3.5"/><circle cx="665.7" cy="116.4" r="3.5"/><circle cx="749.0" cy="91.5" r="3.5"/><circle cx="729.7" cy="102.5" r="3.5"/><circle cx="771.6" cy="73.4" r="3.5"/><circle cx="694.0" cy="120.1" r="3.5"/><circle cx="661.8" cy="138.5" r="3.5"/><circle cx="794.5" cy="127.9" r="3.5"/><circle cx="676.5" cy="111.2" r="3.5"/><circle cx="755.7" cy="120.6" r="3.5"/><circle cx="625.0" cy="110.8" r="3.5"/><circle cx="671.6" cy="112.4" r="3.5"/><circle cx="701.7" cy="137.6" r="3.5"/><circle cx="691.2" cy="114.0" r="3.5"/><circle cx="727.0" cy="106.8" r="3.5"/><circle cx="768.1" cy="103.1" r="3.5"/><circle cx="668.2" cy="131.5" r="3.5"/><circle cx="725.4" cy="96.8" r="3.5"/><circle cx="738.1" cy="78.1" r="3.5"/><circle cx="777.0" cy="51.9" r="3.5"/><circle cx="770.8" cy="66.2" r="3.5"/><circle cx="760.3" cy="49.3" r="3.5"/><circle cx="649.3" cy="96.0" r="3.5"/><circle cx="658.7" cy="102.7" r="3.5"/><circle cx="661.3" cy="90.8" r="3.5"/><circle cx="788.2" cy="43.1" r="3.5"/><circle cx="723.3" cy="88.8" r="3.5"/><circle cx="641.2" cy="103.1" r="3.5"/><circle cx="705.6" cy="98.1" r="3.5"/><circle cx="772.0" cy="71.6" r="3.5"/><circle cx="636.3" cy="108.8" r="3.5"/><circle cx="644.2" cy="109.6" r="3.5"/><circle cx="732.5" cy="64.1" r="3.5"/><circle cx="722.5" cy="94.8" r="3.5"/><circle cx="743.5" cy="77.2" r="3.5"/><circle cx="703.6" cy="78.6" r="3.5"/><circle cx="699.7" cy="74.4" r="3.5"/><circle cx="644.3" cy="107.8" r="3.5"/><circle cx="753.9" cy="44.4" r="3.5"/><circle cx="760.2" cy="81.9" r="3.5"/><circle cx="712.8" cy="73.9" r="3.5"/><circle cx="608.2" cy="114.8" r="3.5"/><circle cx="775.4" cy="68.3" r="3.5"/><circle cx="719.8" cy="61.5" r="3.5"/><circle cx="764.0" cy="64.2" r="3.5"/><circle cx="631.7" cy="97.2" r="3.5"/><circle cx="735.9" cy="61.9" r="3.5"/><circle cx="652.7" cy="99.8" r="3.5"/><circle cx="640.3" cy="111.7" r="3.5"/><circle cx="602.7" cy="119.1" r="3.5"/><circle cx="784.8" cy="56.7" r="3.5"/><circle cx="738.1" cy="51.1" r="3.5"/><circle cx="724.1" cy="82.2" r="3.5"/><circle cx="663.6" cy="82.8" r="3.5"/></g><g fill="#ff7f0e" fill-opacity="0.32" stroke="#ff7f0e" stroke-opacity="0.32" stroke-width="2.6"><circle cx="577.1" cy="95.1" r="3.5"/><circle cx="580.5" cy="96.0" r="3.5"/><circle cx="585.7" cy="96.0" r="3.5"/><circle cx="589.1" cy="96.0" r="3.5"/><circle cx="598.5" cy="93.4" r="3.5"/><circle cx="609.7" cy="84.8" r="3.5"/><circle cx="619.9" cy="84.8" r="3.5"/><circle cx="628.5" cy="81.4" r="3.5"/><circle cx="635.4" cy="73.7" r="3.5"/><circle cx="633.7" cy="93.4" r="3.5"/><circle cx="637.1" cy="96.0" r="3.5"/><circle cx="620.8" cy="98.6" r="3.5"/><circle cx="574.5" cy="109.7" r="3.5"/><circle cx="581.4" cy="118.3" r="3.5"/><circle cx="590.8" cy="116.5" r="3.5"/><circle cx="614.8" cy="117.4" r="3.5"/><circle cx="541.1" cy="118.3" r="3.5"/><circle cx="548.0" cy="119.1" r="3.5"/><circle cx="540.3" cy="130.3" r="3.5"/><circle cx="590.8" cy="127.7" r="3.5"/><circle cx="560.8" cy="137.1" r="3.5"/><circle cx="570.3" cy="139.7" r="3.5"/><circle cx="551.4" cy="142.2" r="3.5"/><circle cx="566.8" cy="144.0" r="3.5"/><circle cx="520.6" cy="155.1" r="3.5"/><circle cx="549.7" cy="150.8" r="3.5"/><circle cx="512.0" cy="159.4" r="3.5"/><circle cx="614.8" cy="125.1" r="3.5"/><circle cx="619.9" cy="125.1" r="3.5"/><circle cx="596.0" cy="157.7" r="3.5"/><circle cx="609.7" cy="162.8" r="3.5"/><circle cx="606.2" cy="162.8" r="3.5"/><circle cx="811.8" cy="25.5" r="3.5"/><circle cx="767.1" cy="32.1" r="3.5"/><circle cx="770.9" cy="30.2" r="3.5"/><circle cx="776.6" cy="34.0" r="3.5"/><circle cx="780.4" cy="35.9" r="3.5"/><circle cx="786.1" cy="32.1" r="3.5"/><circle cx="789.9" cy="37.8" r="3.5"/><circle cx="793.7" cy="35.9" r="3.5"/><circle cx="768.0" cy="51.2" r="3.5"/><circle cx="784.2" cy="55.0" r="3.5"/><circle cx="789.9" cy="50.2" r="3.5"/><circle cx="782.3" cy="64.5" r="3.5"/><circle cx="801.3" cy="60.7" r="3.5"/><circle cx="806.1" cy="58.8" r="3.5"/><circle cx="727.1" cy="39.7" r="3.5"/><circle cx="745.2" cy="38.8" r="3.5"/><circle cx="690.0" cy="50.2" r="3.5"/><circle cx="693.8" cy="53.1" r="3.5"/><circle cx="705.2" cy="55.0" r="3.5"/><circle cx="706.2" cy="58.8" r="3.5"/><circle cx="722.3" cy="58.8" r="3.5"/><circle cx="730.0" cy="60.7" r="3.5"/><circle cx="730.9" cy="66.4" r="3.5"/><circle cx="740.4" cy="64.5" r="3.5"/><circle cx="640.5" cy="74.0" r="3.5"/><circle cx="665.2" cy="65.5" r="3.5"/><circle cx="674.7" cy="70.2" r="3.5"/><circle cx="683.3" cy="75.0" r="3.5"/><circle cx="681.4" cy="77.8" r="3.5"/><circle cx="694.7" cy="70.2" r="3.5"/><circle cx="730.9" cy="78.8" r="3.5"/><circle cx="703.3" cy="80.7" r="3.5"/><circle cx="693.8" cy="83.5" r="3.5"/><circle cx="661.4" cy="80.7" r="3.5"/><circle cx="633.8" cy="95.0" r="3.5"/><circle cx="635.7" cy="98.8" r="3.5"/><circle cx="675.7" cy="86.4" r="3.5"/><circle cx="696.6" cy="88.3" r="3.5"/><circle cx="696.6" cy="94.0" r="3.5"/><circle cx="741.4" cy="88.3" r="3.5"/><circle cx="748.0" cy="77.8" r="3.5"/><circle cx="761.4" cy="75.9" r="3.5"/><circle cx="778.5" cy="72.1" r="3.5"/><circle cx="788.0" cy="81.6" r="3.5"/><circle cx="801.3" cy="75.9" r="3.5"/><circle cx="809.0" cy="72.1" r="3.5"/><circle cx="809.0" cy="85.4" r="3.5"/><circle cx="807.1" cy="93.1" r="3.5"/><circle cx="810.9" cy="95.0" r="3.5"/><circle cx="795.6" cy="72.1" r="3.5"/><circle cx="727.1" cy="100.7" r="3.5"/><circle cx="715.7" cy="106.4" r="3.5"/><circle cx="668.1" cy="102.6" r="3.5"/><circle cx="797.3" cy="119.5" r="3.5"/><circle cx="779.4" cy="150.4" r="3.5"/><circle cx="611.9" cy="164.2" r="3.5"/><circle cx="754.8" cy="152.2" r="3.5"/><circle cx="774.0" cy="103.0" r="3.5"/><circle cx="582.4" cy="166.7" r="3.5"/><circle cx="589.7" cy="151.5" r="3.5"/><circle cx="723.0" cy="134.0" r="3.5"/><circle cx="600.2" cy="146.0" r="3.5"/><circle cx="755.0" cy="150.8" r="3.5"/><circle cx="725.2" cy="161.2" r="3.5"/><circle cx="737.9" cy="143.4" r="3.5"/><circle cx="793.8" cy="127.4" r="3.5"/><circle cx="779.6" cy="119.6" r="3.5"/><circle cx="628.7" cy="134.2" r="3.5"/><circle cx="790.8" cy="133.1" r="3.5"/><circle cx="728.4" cy="132.0" r="3.5"/><circle cx="668.5" cy="140.3" r="3.5"/><circle cx="693.4" cy="138.6" r="3.5"/><circle cx="634.8" cy="136.4" r="3.5"/><circle cx="735.6" cy="120.0" r="3.5"/><circle cx="748.4" cy="164.3" r="3.5"/><circle cx="800.4" cy="119.9" r="3.5"/><circle cx="608.4" cy="143.4" r="3.5"/><circle cx="804.8" cy="103.4" r="3.5"/><circle cx="720.4" cy="131.1" r="3.5"/><circle cx="723.6" cy="123.1" r="3.5"/><circle cx="761.3" cy="168.4" r="3.5"/><circle cx="681.0" cy="134.3" r="3.5"/><circle cx="786.9" cy="126.9" r="3.5"/><circle cx="775.3" cy="162.9" r="3.5"/><circle cx="707.0" cy="127.9" r="3.5"/><circle cx="667.1" cy="162.4" r="3.5"/><circle cx="802.2" cy="106.3" r="3.5"/><circle cx="765.3" cy="128.5" r="3.5"/><circle cx="588.4" cy="153.6" r="3.5"/><circle cx="800.2" cy="97.2" r="3.5"/><circle cx="783.6" cy="165.7" r="3.5"/><circle cx="599.1" cy="147.6" r="3.5"/><circle cx="765.5" cy="121.1" r="3.5"/><circle cx="805.4" cy="110.7" r="3.5"/><circle cx="748.7" cy="117.7" r="3.5"/><circle cx="711.6" cy="126.3" r="3.5"/><circle cx="728.4" cy="117.6" r="3.5"/><circle cx="639.0" cy="145.6" r="3.5"/><circle cx="662.2" cy="168.0" r="3.5"/><circle cx="718.4" cy="164.0" r="3.5"/><circle cx="781.6" cy="105.8" r="3.5"/><circle cx="700.6" cy="126.7" r="3.5"/><circle cx="637.8" cy="159.3" r="3.5"/><circle cx="740.4" cy="124.4" r="3.5"/><circle cx="805.4" cy="100.5" r="3.5"/><circle cx="658.7" cy="166.7" r="3.5"/><circle cx="780.1" cy="112.1" r="3.5"/><circle cx="575.4" cy="163.6" r="3.5"/><circle cx="649.6" cy="138.5" r="3.5"/><circle cx="720.3" cy="118.5" r="3.5"/><circle cx="614.8" cy="163.0" r="3.5"/><circle cx="675.5" cy="165.5" r="3.5"/><circle cx="746.7" cy="120.0" r="3.5"/><circle cx="639.4" cy="146.2" r="3.5"/><circle cx="729.8" cy="145.0" r="3.5"/><circle cx="786.3" cy="150.4" r="3.5"/><circle cx="783.2" cy="152.2" r="3.5"/><circle cx="645.4" cy="157.0" r="3.5"/><circle cx="810.6" cy="146.1" r="3.5"/><circle cx="652.0" cy="146.5" r="3.5"/><circle cx="758.2" cy="125.6" r="3.5"/><circle cx="717.4" cy="149.4" r="3.5"/><circle cx="781.9" cy="98.0" r="3.5"/><circle cx="625.1" cy="149.9" r="3.5"/><circle cx="591.6" cy="150.1" r="3.5"/><circle cx="798.2" cy="143.5" r="3.5"/><circle cx="776.5" cy="169.7" r="3.5"/><circle cx="585.1" cy="155.4" r="3.5"/><circle cx="633.3" cy="162.4" r="3.5"/><circle cx="735.9" cy="120.0" r="3.5"/><circle cx="709.5" cy="139.9" r="3.5"/><circle cx="788.2" cy="169.5" r="3.5"/><circle cx="547.0" cy="150.5" r="3.5"/><circle cx="736.7" cy="168.8" r="3.5"/><circle cx="791.6" cy="111.4" r="3.5"/><circle cx="697.1" cy="129.0" r="3.5"/><circle cx="666.0" cy="143.0" r="3.5"/><circle cx="787.0" cy="159.2" r="3.5"/><circle cx="715.9" cy="162.8" r="3.5"/><circle cx="750.9" cy="161.1" r="3.5"/><circle cx="792.5" cy="99.5" r="3.5"/><circle cx="710.7" cy="141.1" r="3.5"/><circle cx="792.0" cy="157.2" r="3.5"/><circle cx="594.1" cy="163.9" r="3.5"/><circle cx="691.4" cy="150.6" r="3.5"/><circle cx="759.6" cy="132.6" r="3.5"/><circle cx="802.3" cy="135.8" r="3.5"/><circle cx="766.4" cy="131.4" r="3.5"/><circle cx="717.6" cy="132.2" r="3.5"/><circle cx="568.4" cy="168.3" r="3.5"/><circle cx="726.2" cy="167.4" r="3.5"/><circle cx="779.3" cy="125.6" r="3.5"/><circle cx="772.6" cy="137.4" r="3.5"/><circle cx="685.6" cy="149.7" r="3.5"/><circle cx="811.3" cy="132.7" r="3.5"/><circle cx="767.3" cy="112.2" r="3.5"/><circle cx="731.0" cy="161.5" r="3.5"/><circle cx="763.8" cy="144.8" r="3.5"/><circle cx="746.2" cy="159.4" r="3.5"/><circle cx="805.2" cy="109.4" r="3.5"/><circle cx="767.7" cy="140.1" r="3.5"/><circle cx="802.9" cy="128.0" r="3.5"/><circle cx="783.2" cy="107.4" r="3.5"/><circle cx="782.7" cy="167.0" r="3.5"/><circle cx="647.8" cy="168.4" r="3.5"/><circle cx="777.5" cy="150.9" r="3.5"/><circle cx="638.7" cy="166.5" r="3.5"/><circle cx="773.5" cy="112.6" r="3.5"/><circle cx="547.9" cy="169.4" r="3.5"/><circle cx="682.7" cy="157.8" r="3.5"/><circle cx="723.9" cy="169.5" r="3.5"/><circle cx="660.2" cy="131.5" r="3.5"/><circle cx="766.2" cy="111.1" r="3.5"/><circle cx="677.3" cy="125.7" r="3.5"/><circle cx="761.7" cy="139.4" r="3.5"/><circle cx="745.3" cy="122.9" r="3.5"/><circle cx="703.3" cy="165.2" r="3.5"/><circle cx="703.1" cy="156.1" r="3.5"/><circle cx="670.9" cy="166.7" r="3.5"/><circle cx="772.2" cy="128.3" r="3.5"/><circle cx="727.0" cy="125.5" r="3.5"/><circle cx="760.0" cy="160.9" r="3.5"/><circle cx="557.8" cy="164.9" r="3.5"/><circle cx="715.2" cy="141.2" r="3.5"/><circle cx="665.6" cy="150.5" r="3.5"/><circle cx="635.7" cy="141.1" r="3.5"/><circle cx="741.5" cy="157.0" r="3.5"/><circle cx="785.8" cy="111.1" r="3.5"/><circle cx="769.9" cy="128.7" r="3.5"/><circle cx="717.4" cy="137.9" r="3.5"/><circle cx="620.0" cy="165.9" r="3.5"/><circle cx="680.0" cy="154.4" r="3.5"/><circle cx="641.3" cy="160.3" r="3.5"/><circle cx="729.6" cy="146.6" r="3.5"/><circle cx="696.6" cy="154.7" r="3.5"/><circle cx="699.3" cy="133.5" r="3.5"/><circle cx="756.2" cy="165.7" r="3.5"/><circle cx="801.5" cy="165.8" r="3.5"/><circle cx="545.1" cy="160.2" r="3.5"/><circle cx="661.6" cy="156.9" r="3.5"/><circle cx="739.1" cy="120.0" r="3.5"/><circle cx="633.4" cy="136.9" r="3.5"/><circle cx="599.3" cy="147.1" r="3.5"/><circle cx="775.9" cy="105.0" r="3.5"/><circle cx="756.5" cy="116.1" r="3.5"/><circle cx="777.8" cy="112.1" r="3.5"/><circle cx="725.0" cy="124.2" r="3.5"/><circle cx="636.6" cy="161.2" r="3.5"/><circle cx="663.7" cy="149.9" r="3.5"/><circle cx="716.9" cy="164.2" r="3.5"/><circle cx="802.4" cy="133.0" r="3.5"/><circle cx="702.2" cy="136.3" r="3.5"/><circle cx="731.3" cy="147.3" r="3.5"/><circle cx="734.5" cy="160.6" r="3.5"/><circle cx="733.0" cy="141.2" r="3.5"/><circle cx="571.5" cy="153.1" r="3.5"/><circle cx="721.1" cy="124.7" r="3.5"/><circle cx="801.0" cy="116.8" r="3.5"/><circle cx="680.3" cy="142.3" r="3.5"/><circle cx="612.6" cy="163.0" r="3.5"/><circle cx="692.3" cy="144.5" r="3.5"/><circle cx="627.1" cy="164.1" r="3.5"/><circle cx="764.8" cy="110.4" r="3.5"/><circle cx="787.1" cy="102.3" r="3.5"/><circle cx="676.9" cy="151.8" r="3.5"/><circle cx="779.1" cy="140.8" r="3.5"/><circle cx="708.7" cy="138.3" r="3.5"/><circle cx="727.9" cy="164.7" r="3.5"/><circle cx="797.3" cy="137.6" r="3.5"/><circle cx="685.2" cy="165.1" r="3.5"/><circle cx="688.5" cy="158.6" r="3.5"/><circle cx="591.2" cy="147.0" r="3.5"/><circle cx="705.4" cy="150.2" r="3.5"/><circle cx="717.2" cy="128.3" r="3.5"/><circle cx="751.7" cy="139.3" r="3.5"/><circle cx="741.8" cy="155.3" r="3.5"/><circle cx="657.8" cy="132.7" r="3.5"/><circle cx="801.7" cy="146.8" r="3.5"/><circle cx="744.5" cy="119.0" r="3.5"/><circle cx="626.7" cy="157.6" r="3.5"/><circle cx="801.8" cy="123.0" r="3.5"/><circle cx="781.9" cy="128.5" r="3.5"/><circle cx="721.4" cy="152.0" r="3.5"/><circle cx="756.0" cy="147.9" r="3.5"/><circle cx="656.2" cy="160.0" r="3.5"/><circle cx="698.4" cy="150.5" r="3.5"/><circle cx="640.9" cy="162.2" r="3.5"/><circle cx="709.6" cy="160.8" r="3.5"/><circle cx="732.7" cy="132.4" r="3.5"/><circle cx="782.1" cy="99.0" r="3.5"/><circle cx="726.6" cy="131.6" r="3.5"/><circle cx="794.2" cy="135.2" r="3.5"/><circle cx="584.3" cy="129.6" r="3.5"/><circle cx="792.1" cy="86.1" r="3.5"/><circle cx="713.3" cy="134.3" r="3.5"/><circle cx="734.4" cy="83.4" r="3.5"/><circle cx="803.7" cy="75.2" r="3.5"/><circle cx="624.2" cy="126.6" r="3.5"/><circle cx="741.0" cy="86.4" r="3.5"/><circle cx="808.4" cy="124.6" r="3.5"/><circle cx="735.6" cy="121.7" r="3.5"/><circle cx="657.5" cy="105.6" r="3.5"/><circle cx="763.3" cy="122.5" r="3.5"/><circle cx="781.2" cy="135.9" r="3.5"/><circle cx="799.5" cy="91.4" r="3.5"/><circle cx="655.9" cy="131.5" r="3.5"/><circle cx="763.6" cy="107.1" r="3.5"/><circle cx="674.2" cy="117.8" r="3.5"/><circle cx="733.6" cy="133.3" r="3.5"/><circle cx="791.2" cy="95.6" r="3.5"/><circle cx="778.9" cy="118.3" r="3.5"/><circle cx="731.8" cy="97.3" r="3.5"/><circle cx="653.9" cy="137.9" r="3.5"/><circle cx="653.9" cy="104.9" r="3.5"/><circle cx="792.8" cy="102.6" r="3.5"/><circle cx="791.7" cy="85.2" r="3.5"/><circle cx="716.0" cy="125.5" r="3.5"/><circle cx="714.5" cy="119.3" r="3.5"/><circle cx="639.5" cy="123.2" r="3.5"/><circle cx="750.9" cy="119.4" r="3.5"/><circle cx="727.3" cy="113.3" r="3.5"/><circle cx="692.4" cy="128.4" r="3.5"/><circle cx="621.0" cy="129.0" r="3.5"/><circle cx="658.9" cy="131.0" r="3.5"/><circle cx="794.8" cy="62.8" r="3.5"/><circle cx="732.6" cy="118.6" r="3.5"/><circle cx="685.6" cy="127.2" r="3.5"/><circle cx="710.8" cy="124.9" r="3.5"/><circle cx="762.0" cy="94.6" r="3.5"/><circle cx="808.5" cy="99.7" r="3.5"/><circle cx="749.3" cy="112.3" r="3.5"/><circle cx="778.9" cy="80.5" r="3.5"/><circle cx="778.0" cy="138.5" r="3.5"/><circle cx="692.1" cy="114.6" r="3.5"/><circle cx="679.9" cy="105.5" r="3.5"/><circle cx="710.4" cy="96.0" r="3.5"/><circle cx="685.7" cy="109.7" r="3.5"/><circle cx="720.7" cy="137.2" r="3.5"/><circle cx="790.0" cy="137.6" r="3.5"/><circle cx="571.5" cy="138.6" r="3.5"/><circle cx="715.3" cy="82.9" r="3.5"/><circle cx="664.2" cy="123.3" r="3.5"/><circle cx="771.5" cy="125.8" r="3.5"/><circle cx="689.8" cy="129.4" r="3.5"/><circle cx="722.6" cy="90.7" r="3.5"/><circle cx="625.9" cy="126.9" r="3.5"/><circle cx="687.4" cy="126.9" r="3.5"/><circle cx="785.1" cy="138.6" r="3.5"/><circle cx="740.6" cy="78.8" r="3.5"/><circle cx="789.5" cy="129.4" r="3.5"/><circle cx="772.4" cy="114.7" r="3.5"/><circle cx="760.2" cy="117.5" r="3.5"/><circle cx="783.0" cy="130.4" r="3.5"/><circle cx="641.6" cy="120.6" r="3.5"/><circle cx="683.0" cy="116.4" r="3.5"/><circle cx="599.9" cy="120.0" r="3.5"/><circle cx="807.1" cy="89.9" r="3.5"/><circle cx="673.3" cy="132.3" r="3.5"/><circle cx="718.2" cy="93.4" r="3.5"/><circle cx="696.8" cy="118.6" r="3.5"/><circle cx="727.9" cy="117.9" r="3.5"/><circle cx="781.4" cy="104.3" r="3.5"/><circle cx="764.2" cy="117.5" r="3.5"/><circle cx="766.6" cy="131.0" r="3.5"/><circle cx="739.0" cy="105.1" r="3.5"/><circle cx="685.8" cy="103.6" r="3.5"/><circle cx="783.1" cy="99.1" r="3.5"/><circle cx="746.3" cy="126.4" r="3.5"/><circle cx="695.1" cy="112.4" r="3.5"/><circle cx="719.4" cy="103.3" r="3.5"/><circle cx="755.5" cy="45.4" r="3.5"/><circle cx="756.9" cy="63.0" r="3.5"/><circle cx="804.1" cy="69.0" r="3.5"/><circle cx="796.8" cy="48.1" r="3.5"/><circle cx="690.1" cy="96.9" r="3.5"/><circle cx="737.8" cy="89.6" r="3.5"/><circle cx="691.2" cy="89.1" r="3.5"/><circle cx="805.2" cy="54.9" r="3.5"/><circle cx="776.7" cy="79.7" r="3.5"/><circle cx="744.2" cy="63.9" r="3.5"/><circle cx="765.0" cy="55.7" r="3.5"/><circle cx="808.0" cy="43.3" r="3.5"/><circle cx="616.2" cy="117.3" r="3.5"/><circle cx="713.4" cy="76.9" r="3.5"/><circle cx="707.4" cy="96.1" r="3.5"/><circle cx="738.6" cy="63.0" r="3.5"/><circle cx="745.4" cy="82.8" r="3.5"/><circle cx="736.4" cy="61.5" r="3.5"/><circle cx="696.5" cy="81.9" r="3.5"/><circle cx="803.8" cy="61.6" r="3.5"/><circle cx="750.6" cy="90.0" r="3.5"/><circle cx="736.8" cy="85.7" r="3.5"/><circle cx="777.5" cy="66.9" r="3.5"/><circle cx="721.8" cy="84.6" r="3.5"/><circle cx="681.8" cy="101.6" r="3.5"/><circle cx="608.9" cy="110.3" r="3.5"/><circle cx="737.3" cy="95.2" r="3.5"/><circle cx="789.1" cy="72.7" r="3.5"/><circle cx="792.1" cy="36.7" r="3.5"/><circle cx="763.3" cy="52.7" r="3.5"/><circle cx="650.0" cy="99.3" r="3.5"/><circle cx="797.9" cy="75.4" r="3.5"/><circle cx="754.3" cy="89.5" r="3.5"/><circle cx="795.0" cy="52.0" r="3.5"/><circle cx="716.8" cy="78.8" r="3.5"/><circle cx="747.8" cy="68.3" r="3.5"/><circle cx="761.2" cy="42.0" r="3.5"/><circle cx="718.0" cy="73.3" r="3.5"/><circle cx="780.9" cy="54.0" r="3.5"/><circle cx="636.0" cy="106.5" r="3.5"/><circle cx="715.2" cy="100.6" r="3.5"/><circle cx="757.1" cy="66.2" r="3.5"/><circle cx="705.3" cy="65.0" r="3.5"/><circle cx="782.8" cy="80.2" r="3.5"/><circle cx="652.4" cy="98.4" r="3.5"/><circle cx="789.7" cy="39.4" r="3.5"/><circle cx="734.6" cy="58.8" r="3.5"/><circle cx="705.3" cy="80.2" r="3.5"/><circle cx="694.4" cy="103.4" r="3.5"/><circle cx="672.9" cy="100.9" r="3.5"/><circle cx="680.3" cy="105.6" r="3.5"/><circle cx="699.5" cy="89.5" r="3.5"/><circle cx="629.8" cy="106.4" r="3.5"/><circle cx="772.7" cy="64.1" r="3.5"/><circle cx="730.9" cy="66.4" r="3.5"/><circle cx="708.0" cy="101.5" r="3.5"/><circle cx="751.3" cy="52.3" r="3.5"/><circle cx="710.1" cy="90.2" r="3.5"/></g><g fill="#1f77b4" fill-opacity="0.32" stroke="#1f77b4" stroke-opacity="0.32" stroke-width="2.6"><circle cx="596.0" cy="114.8" r="3.5"/><circle cx="550.5" cy="131.1" r="3.5"/><circle cx="575.4" cy="133.7" r="3.5"/><circle cx="601.1" cy="130.3" r="3.5"/><circle cx="526.6" cy="142.2" r="3.5"/><circle cx="547.1" cy="142.2" r="3.5"/><circle cx="578.8" cy="144.0" r="3.5"/><circle cx="515.4" cy="153.4" r="3.5"/><circle cx="529.1" cy="154.2" r="3.5"/><circle cx="540.3" cy="153.4" r="3.5"/><circle cx="633.7" cy="121.7" r="3.5"/><circle cx="616.5" cy="132.0" r="3.5"/><circle cx="623.4" cy="132.0" r="3.5"/><circle cx="633.7" cy="132.0" r="3.5"/><circle cx="539.4" cy="161.1" r="3.5"/><circle cx="551.4" cy="159.4" r="3.5"/><circle cx="558.3" cy="157.7" r="3.5"/><circle cx="572.0" cy="156.0" r="3.5"/><circle cx="582.2" cy="154.2" r="3.5"/><circle cx="587.4" cy="157.7" r="3.5"/><circle cx="601.1" cy="161.1" r="3.5"/><circle cx="609.7" cy="154.2" r="3.5"/><circle cx="616.5" cy="156.0" r="3.5"/><circle cx="623.4" cy="152.5" r="3.5"/><circle cx="633.7" cy="149.1" r="3.5"/><circle cx="637.1" cy="156.0" r="3.5"/><circle cx="619.9" cy="162.8" r="3.5"/><circle cx="630.2" cy="161.1" r="3.5"/><circle cx="713.8" cy="95.0" r="3.5"/><circle cx="702.3" cy="101.6" r="3.5"/><circle cx="770.9" cy="91.2" r="3.5"/><circle cx="774.7" cy="99.7" r="3.5"/><circle cx="788.0" cy="102.6" r="3.5"/><circle cx="801.3" cy="101.6" r="3.5"/><circle cx="768.0" cy="106.4" r="3.5"/><circle cx="738.5" cy="100.7" r="3.5"/><circle cx="748.0" cy="100.7" r="3.5"/><circle cx="685.2" cy="98.8" r="3.5"/><circle cx="642.4" cy="104.5" r="3.5"/><circle cx="753.0" cy="131.0" r="3.5"/><circle cx="731.8" cy="160.0" r="3.5"/><circle cx="777.5" cy="122.8" r="3.5"/><circle cx="623.4" cy="169.6" r="3.5"/><circle cx="675.8" cy="139.8" r="3.5"/><circle cx="712.5" cy="161.9" r="3.5"/><circle cx="742.6" cy="128.7" r="3.5"/><circle cx="781.0" cy="168.7" r="3.5"/><circle cx="749.1" cy="160.5" r="3.5"/><circle cx="683.4" cy="157.9" r="3.5"/><circle cx="702.7" cy="158.1" r="3.5"/><circle cx="771.3" cy="142.4" r="3.5"/><circle cx="773.3" cy="151.9" r="3.5"/><circle cx="727.2" cy="126.5" r="3.5"/><circle cx="800.9" cy="169.1" r="3.5"/><circle cx="794.7" cy="149.4" r="3.5"/><circle cx="798.5" cy="146.3" r="3.5"/><circle cx="757.5" cy="132.4" r="3.5"/><circle cx="764.0" cy="164.0" r="3.5"/><circle cx="734.3" cy="150.7" r="3.5"/><circle cx="755.3" cy="138.5" r="3.5"/><circle cx="750.6" cy="117.0" r="3.5"/><circle cx="714.0" cy="142.3" r="3.5"/><circle cx="752.7" cy="162.5" r="3.5"/><circle cx="665.6" cy="161.6" r="3.5"/><circle cx="741.7" cy="150.1" r="3.5"/><circle cx="754.4" cy="128.6" r="3.5"/><circle cx="758.7" cy="130.0" r="3.5"/><circle cx="586.3" cy="144.6" r="3.5"/><circle cx="700.2" cy="126.6" r="3.5"/><circle cx="555.7" cy="153.9" r="3.5"/><circle cx="756.2" cy="131.6" r="3.5"/><circle cx="614.8" cy="152.8" r="3.5"/><circle cx="778.7" cy="151.7" r="3.5"/><circle cx="743.3" cy="147.6" r="3.5"/><circle cx="609.6" cy="143.1" r="3.5"/><circle cx="635.5" cy="145.3" r="3.5"/><circle cx="562.3" cy="163.1" r="3.5"/><circle cx="643.2" cy="148.9" r="3.5"/><circle cx="580.5" cy="169.7" r="3.5"/><circle cx="779.3" cy="155.9" r="3.5"/><circle cx="637.2" cy="143.1" r="3.5"/><circle cx="590.6" cy="152.7" r="3.5"/><circle cx="534.9" cy="164.3" r="3.5"/><circle cx="767.5" cy="149.7" r="3.5"/><circle cx="654.4" cy="162.7" r="3.5"/><circle cx="801.3" cy="125.3" r="3.5"/><circle cx="784.8" cy="102.8" r="3.5"/><circle cx="586.5" cy="150.0" r="3.5"/><circle cx="702.5" cy="140.3" r="3.5"/><circle cx="633.8" cy="144.7" r="3.5"/><circle cx="717.6" cy="124.5" r="3.5"/><circle cx="655.9" cy="136.9" r="3.5"/><circle cx="798.7" cy="108.7" r="3.5"/><circle cx="610.3" cy="143.8" r="3.5"/><circle cx="673.6" cy="153.7" r="3.5"/><circle cx="738.8" cy="160.7" r="3.5"/><circle cx="788.6" cy="152.2" r="3.5"/><circle cx="795.4" cy="162.4" r="3.5"/><circle cx="747.0" cy="150.5" r="3.5"/><circle cx="803.5" cy="116.4" r="3.5"/><circle cx="790.4" cy="106.1" r="3.5"/><circle cx="716.1" cy="156.7" r="3.5"/><circle cx="651.7" cy="142.3" r="3.5"/><circle cx="723.0" cy="162.8" r="3.5"/><circle cx="703.9" cy="141.2" r="3.5"/><circle cx="767.0" cy="115.1" r="3.5"/><circle cx="691.0" cy="135.9" r="3.5"/><circle cx="649.5" cy="143.9" r="3.5"/><circle cx="655.5" cy="138.8" r="3.5"/><circle cx="756.2" cy="131.7" r="3.5"/><circle cx="712.9" cy="153.7" r="3.5"/><circle cx="627.0" cy="139.8" r="3.5"/><circle cx="809.6" cy="135.3" r="3.5"/><circle cx="697.4" cy="169.1" r="3.5"/><circle cx="751.6" cy="118.0" r="3.5"/><circle cx="532.7" cy="158.7" r="3.5"/><circle cx="738.8" cy="160.1" r="3.5"/><circle cx="753.9" cy="117.8" r="3.5"/><circle cx="787.8" cy="166.3" r="3.5"/><circle cx="810.5" cy="117.0" r="3.5"/><circle cx="693.0" cy="164.2" r="3.5"/><circle cx="746.6" cy="138.6" r="3.5"/><circle cx="803.9" cy="125.4" r="3.5"/><circle cx="766.4" cy="122.9" r="3.5"/><circle cx="671.4" cy="168.4" r="3.5"/><circle cx="787.0" cy="145.6" r="3.5"/><circle cx="679.1" cy="132.6" r="3.5"/><circle cx="644.3" cy="140.0" r="3.5"/><circle cx="801.8" cy="125.8" r="3.5"/><circle cx="591.6" cy="161.9" r="3.5"/><circle cx="778.8" cy="150.4" r="3.5"/><circle cx="788.0" cy="151.7" r="3.5"/><circle cx="775.8" cy="156.2" r="3.5"/><circle cx="537.0" cy="156.6" r="3.5"/><circle cx="781.4" cy="103.2" r="3.5"/><circle cx="703.2" cy="150.9" r="3.5"/><circle cx="522.4" cy="165.0" r="3.5"/><circle cx="748.7" cy="135.2" r="3.5"/><circle cx="810.4" cy="155.5" r="3.5"/><circle cx="635.6" cy="151.2" r="3.5"/><circle cx="801.7" cy="155.8" r="3.5"/><circle cx="799.9" cy="165.3" r="3.5"/><circle cx="798.3" cy="167.2" r="3.5"/><circle cx="663.1" cy="158.2" r="3.5"/><circle cx="725.4" cy="147.4" r="3.5"/><circle cx="632.1" cy="153.1" r="3.5"/><circle cx="712.2" cy="153.6" r="3.5"/><circle cx="613.8" cy="166.3" r="3.5"/><circle cx="744.1" cy="162.9" r="3.5"/><circle cx="808.9" cy="143.6" r="3.5"/><circle cx="798.2" cy="111.1" r="3.5"/><circle cx="794.6" cy="131.6" r="3.5"/><circle cx="770.1" cy="136.0" r="3.5"/><circle cx="724.9" cy="154.3" r="3.5"/><circle cx="810.5" cy="166.9" r="3.5"/><circle cx="675.6" cy="169.2" r="3.5"/><circle cx="736.2" cy="166.6" r="3.5"/><circle cx="572.5" cy="151.2" r="3.5"/><circle cx="619.8" cy="149.1" r="3.5"/><circle cx="681.0" cy="159.4" r="3.5"/><circle cx="752.2" cy="157.1" r="3.5"/><circle cx="666.2" cy="141.9" r="3.5"/><circle cx="724.0" cy="137.4" r="3.5"/><circle cx="703.5" cy="132.9" r="3.5"/><circle cx="718.5" cy="156.5" r="3.5"/><circle cx="716.1" cy="124.9" r="3.5"/><circle cx="748.7" cy="125.5" r="3.5"/><circle cx="741.6" cy="156.8" r="3.5"/><circle cx="783.6" cy="107.5" r="3.5"/><circle cx="801.9" cy="152.3" r="3.5"/><circle cx="691.7" cy="167.7" r="3.5"/><circle cx="737.0" cy="136.2" r="3.5"/><circle cx="767.0" cy="144.4" r="3.5"/><circle cx="810.0" cy="100.1" r="3.5"/><circle cx="687.1" cy="124.1" r="3.5"/><circle cx="792.8" cy="102.1" r="3.5"/><circle cx="729.7" cy="125.2" r="3.5"/><circle cx="627.6" cy="150.1" r="3.5"/><circle cx="751.6" cy="165.2" r="3.5"/><circle cx="810.2" cy="117.0" r="3.5"/><circle cx="793.0" cy="98.4" r="3.5"/><circle cx="726.1" cy="126.7" r="3.5"/><circle cx="638.1" cy="163.0" r="3.5"/><circle cx="680.1" cy="154.4" r="3.5"/><circle cx="658.2" cy="130.5" r="3.5"/><circle cx="752.6" cy="152.1" r="3.5"/><circle cx="751.6" cy="135.6" r="3.5"/><circle cx="740.2" cy="163.0" r="3.5"/><circle cx="744.8" cy="144.9" r="3.5"/><circle cx="650.5" cy="152.0" r="3.5"/><circle cx="738.4" cy="119.3" r="3.5"/><circle cx="731.5" cy="143.9" r="3.5"/><circle cx="787.4" cy="123.2" r="3.5"/><circle cx="790.2" cy="118.3" r="3.5"/><circle cx="689.6" cy="148.3" r="3.5"/><circle cx="803.5" cy="103.4" r="3.5"/><circle cx="639.3" cy="132.5" r="3.5"/><circle cx="789.5" cy="150.6" r="3.5"/><circle cx="638.9" cy="154.0" r="3.5"/><circle cx="567.8" cy="148.7" r="3.5"/><circle cx="611.4" cy="167.1" r="3.5"/><circle cx="617.2" cy="155.6" r="3.5"/><circle cx="744.4" cy="127.0" r="3.5"/><circle cx="782.8" cy="128.5" r="3.5"/><circle cx="652.5" cy="151.5" r="3.5"/><circle cx="768.3" cy="154.4" r="3.5"/><circle cx="714.4" cy="139.4" r="3.5"/><circle cx="544.6" cy="164.8" r="3.5"/><circle cx="797.9" cy="160.5" r="3.5"/><circle cx="724.1" cy="169.4" r="3.5"/><circle cx="604.2" cy="139.8" r="3.5"/><circle cx="712.3" cy="152.0" r="3.5"/><circle cx="675.2" cy="148.1" r="3.5"/><circle cx="699.2" cy="141.0" r="3.5"/><circle cx="595.8" cy="137.7" r="3.5"/><circle cx="652.9" cy="156.8" r="3.5"/><circle cx="786.9" cy="156.5" r="3.5"/><circle cx="674.9" cy="154.0" r="3.5"/><circle cx="681.9" cy="137.2" r="3.5"/><circle cx="592.2" cy="161.8" r="3.5"/><circle cx="690.6" cy="130.3" r="3.5"/><circle cx="754.7" cy="157.6" r="3.5"/><circle cx="747.4" cy="164.0" r="3.5"/><circle cx="675.5" cy="130.0" r="3.5"/><circle cx="668.9" cy="159.9" r="3.5"/><circle cx="749.7" cy="121.2" r="3.5"/><circle cx="606.6" cy="141.3" r="3.5"/><circle cx="787.2" cy="134.7" r="3.5"/><circle cx="609.5" cy="147.4" r="3.5"/><circle cx="793.6" cy="132.5" r="3.5"/><circle cx="731.3" cy="116.5" r="3.5"/><circle cx="639.9" cy="163.4" r="3.5"/><circle cx="753.1" cy="145.0" r="3.5"/><circle cx="650.8" cy="148.4" r="3.5"/><circle cx="733.0" cy="141.4" r="3.5"/><circle cx="756.6" cy="150.5" r="3.5"/><circle cx="770.0" cy="140.6" r="3.5"/><circle cx="799.7" cy="162.3" r="3.5"/><circle cx="708.7" cy="129.0" r="3.5"/><circle cx="680.1" cy="147.6" r="3.5"/><circle cx="764.8" cy="164.3" r="3.5"/><circle cx="750.8" cy="131.1" r="3.5"/><circle cx="807.8" cy="169.4" r="3.5"/><circle cx="569.5" cy="159.5" r="3.5"/><circle cx="747.8" cy="163.1" r="3.5"/><circle cx="599.2" cy="148.4" r="3.5"/><circle cx="802.8" cy="140.4" r="3.5"/><circle cx="734.7" cy="120.5" r="3.5"/><circle cx="730.7" cy="161.6" r="3.5"/><circle cx="713.7" cy="125.5" r="3.5"/><circle cx="670.9" cy="163.3" r="3.5"/><circle cx="740.1" cy="127.0" r="3.5"/><circle cx="781.0" cy="139.2" r="3.5"/><circle cx="729.9" cy="131.4" r="3.5"/><circle cx="753.8" cy="144.8" r="3.5"/><circle cx="790.3" cy="109.1" r="3.5"/><circle cx="624.6" cy="146.9" r="3.5"/><circle cx="701.0" cy="129.9" r="3.5"/><circle cx="787.0" cy="160.6" r="3.5"/><circle cx="667.0" cy="153.3" r="3.5"/><circle cx="767.8" cy="139.8" r="3.5"/><circle cx="767.6" cy="120.8" r="3.5"/><circle cx="807.5" cy="155.6" r="3.5"/><circle cx="682.5" cy="151.5" r="3.5"/><circle cx="744.9" cy="168.1" r="3.5"/><circle cx="701.8" cy="149.4" r="3.5"/><circle cx="786.1" cy="139.5" r="3.5"/><circle cx="604.9" cy="162.8" r="3.5"/><circle cx="633.7" cy="148.4" r="3.5"/><circle cx="785.6" cy="137.7" r="3.5"/><circle cx="710.7" cy="161.2" r="3.5"/><circle cx="647.3" cy="132.2" r="3.5"/><circle cx="760.0" cy="142.8" r="3.5"/><circle cx="721.6" cy="132.0" r="3.5"/><circle cx="779.2" cy="104.4" r="3.5"/><circle cx="635.4" cy="153.0" r="3.5"/><circle cx="797.1" cy="116.0" r="3.5"/><circle cx="784.6" cy="96.7" r="3.5"/><circle cx="740.6" cy="115.0" r="3.5"/><circle cx="760.6" cy="112.4" r="3.5"/><circle cx="568.3" cy="142.1" r="3.5"/><circle cx="619.7" cy="146.8" r="3.5"/><circle cx="679.8" cy="147.2" r="3.5"/><circle cx="757.0" cy="113.8" r="3.5"/><circle cx="665.8" cy="147.6" r="3.5"/><circle cx="777.1" cy="129.0" r="3.5"/><circle cx="757.8" cy="145.8" r="3.5"/><circle cx="684.2" cy="152.9" r="3.5"/><circle cx="663.0" cy="154.3" r="3.5"/><circle cx="689.9" cy="132.7" r="3.5"/><circle cx="771.8" cy="134.4" r="3.5"/><circle cx="683.7" cy="145.0" r="3.5"/><circle cx="727.9" cy="125.9" r="3.5"/><circle cx="745.0" cy="124.6" r="3.5"/><circle cx="773.9" cy="128.0" r="3.5"/><circle cx="786.9" cy="115.8" r="3.5"/><circle cx="643.8" cy="142.2" r="3.5"/><circle cx="719.0" cy="135.6" r="3.5"/><circle cx="692.0" cy="164.9" r="3.5"/><circle cx="638.1" cy="149.5" r="3.5"/><circle cx="689.6" cy="161.2" r="3.5"/><circle cx="733.0" cy="153.0" r="3.5"/><circle cx="777.0" cy="121.2" r="3.5"/><circle cx="750.4" cy="127.2" r="3.5"/><circle cx="744.5" cy="168.7" r="3.5"/><circle cx="743.0" cy="152.9" r="3.5"/><circle cx="725.8" cy="123.0" r="3.5"/><circle cx="681.9" cy="146.2" r="3.5"/><circle cx="692.5" cy="150.4" r="3.5"/><circle cx="750.0" cy="163.3" r="3.5"/><circle cx="641.8" cy="135.3" r="3.5"/><circle cx="768.7" cy="142.0" r="3.5"/><circle cx="767.0" cy="154.4" r="3.5"/><circle cx="725.4" cy="136.5" r="3.5"/><circle cx="743.0" cy="148.4" r="3.5"/><circle cx="659.9" cy="141.2" r="3.5"/><circle cx="724.0" cy="162.0" r="3.5"/><circle cx="677.3" cy="168.6" r="3.5"/><circle cx="615.5" cy="151.2" r="3.5"/><circle cx="675.5" cy="131.3" r="3.5"/><circle cx="768.5" cy="140.1" r="3.5"/><circle cx="754.5" cy="169.8" r="3.5"/><circle cx="694.4" cy="158.7" r="3.5"/><circle cx="690.3" cy="158.3" r="3.5"/><circle cx="781.9" cy="162.7" r="3.5"/><circle cx="610.0" cy="146.2" r="3.5"/><circle cx="693.8" cy="166.1" r="3.5"/><circle cx="803.5" cy="123.8" r="3.5"/><circle cx="644.5" cy="158.2" r="3.5"/><circle cx="677.9" cy="140.5" r="3.5"/><circle cx="768.2" cy="159.4" r="3.5"/><circle cx="758.9" cy="140.3" r="3.5"/><circle cx="641.1" cy="138.2" r="3.5"/><circle cx="663.9" cy="150.1" r="3.5"/><circle cx="748.6" cy="132.5" r="3.5"/><circle cx="709.7" cy="156.8" r="3.5"/><circle cx="677.1" cy="136.3" r="3.5"/><circle cx="759.0" cy="148.6" r="3.5"/><circle cx="720.7" cy="151.2" r="3.5"/><circle cx="764.9" cy="122.2" r="3.5"/><circle cx="774.1" cy="109.0" r="3.5"/><circle cx="669.5" cy="131.0" r="3.5"/><circle cx="744.9" cy="135.1" r="3.5"/><circle cx="756.3" cy="121.9" r="3.5"/><circle cx="741.8" cy="128.3" r="3.5"/><circle cx="730.3" cy="142.5" r="3.5"/><circle cx="579.1" cy="159.7" r="3.5"/><circle cx="657.6" cy="139.8" r="3.5"/><circle cx="767.4" cy="146.4" r="3.5"/><circle cx="705.7" cy="148.9" r="3.5"/><circle cx="586.2" cy="155.1" r="3.5"/><circle cx="777.2" cy="147.6" r="3.5"/><circle cx="797.6" cy="134.0" r="3.5"/><circle cx="689.7" cy="130.4" r="3.5"/><circle cx="545.8" cy="156.2" r="3.5"/><circle cx="715.6" cy="151.5" r="3.5"/><circle cx="743.6" cy="132.8" r="3.5"/><circle cx="545.0" cy="167.2" r="3.5"/><circle cx="801.0" cy="163.6" r="3.5"/><circle cx="776.7" cy="136.8" r="3.5"/><circle cx="779.4" cy="159.7" r="3.5"/><circle cx="621.6" cy="167.0" r="3.5"/><circle cx="641.6" cy="135.2" r="3.5"/><circle cx="674.7" cy="160.2" r="3.5"/><circle cx="661.8" cy="147.9" r="3.5"/><circle cx="748.7" cy="156.4" r="3.5"/><circle cx="766.8" cy="161.4" r="3.5"/><circle cx="750.9" cy="126.2" r="3.5"/><circle cx="797.8" cy="162.1" r="3.5"/><circle cx="774.2" cy="114.7" r="3.5"/><circle cx="728.4" cy="146.1" r="3.5"/><circle cx="611.3" cy="142.8" r="3.5"/><circle cx="792.9" cy="103.5" r="3.5"/><circle cx="750.9" cy="159.5" r="3.5"/><circle cx="755.8" cy="148.0" r="3.5"/><circle cx="767.8" cy="114.1" r="3.5"/><circle cx="768.8" cy="160.4" r="3.5"/><circle cx="746.9" cy="135.8" r="3.5"/><circle cx="634.9" cy="132.8" r="3.5"/><circle cx="677.7" cy="142.8" r="3.5"/><circle cx="800.4" cy="119.6" r="3.5"/><circle cx="717.2" cy="162.3" r="3.5"/><circle cx="750.1" cy="150.8" r="3.5"/><circle cx="568.0" cy="147.6" r="3.5"/><circle cx="701.0" cy="152.6" r="3.5"/><circle cx="662.1" cy="133.9" r="3.5"/><circle cx="747.2" cy="169.1" r="3.5"/><circle cx="811.7" cy="58.4" r="3.5"/><circle cx="802.2" cy="96.6" r="3.5"/><circle cx="760.6" cy="104.7" r="3.5"/><circle cx="747.4" cy="87.3" r="3.5"/><circle cx="690.5" cy="137.0" r="3.5"/><circle cx="789.1" cy="81.2" r="3.5"/><circle cx="743.2" cy="130.1" r="3.5"/><circle cx="793.4" cy="91.1" r="3.5"/><circle cx="730.5" cy="109.0" r="3.5"/><circle cx="803.5" cy="119.4" r="3.5"/><circle cx="743.4" cy="135.5" r="3.5"/><circle cx="727.0" cy="104.5" r="3.5"/><circle cx="681.8" cy="119.8" r="3.5"/><circle cx="788.5" cy="116.2" r="3.5"/><circle cx="693.7" cy="103.2" r="3.5"/><circle cx="808.7" cy="84.3" r="3.5"/><circle cx="760.8" cy="134.0" r="3.5"/><circle cx="701.7" cy="99.9" r="3.5"/><circle cx="769.5" cy="112.0" r="3.5"/><circle cx="767.3" cy="83.0" r="3.5"/><circle cx="617.9" cy="127.9" r="3.5"/><circle cx="681.1" cy="121.8" r="3.5"/><circle cx="784.6" cy="139.3" r="3.5"/></g></g><g clip-path="url(#cl1)"><g fill="#d62728" fill-opacity="0.52" stroke="#d62728" stroke-opacity="0.52" stroke-width="2.6"><circle cx="123.4" cy="238.4" r="3.5"/><circle cx="110.7" cy="245.4" r="3.5"/><circle cx="140.5" cy="242.2" r="3.5"/><circle cx="150.1" cy="253.0" r="3.5"/><circle cx="112.0" cy="257.5" r="3.5"/><circle cx="141.8" cy="267.0" r="3.5"/><circle cx="145.0" cy="274.6" r="3.5"/><circle cx="166.6" cy="249.8" r="3.5"/><circle cx="186.9" cy="259.4" r="3.5"/><circle cx="200.2" cy="255.6" r="3.5"/><circle cx="176.7" cy="270.8" r="3.5"/><circle cx="181.2" cy="268.3" r="3.5"/><circle cx="189.4" cy="275.9" r="3.5"/><circle cx="184.3" cy="282.2" r="3.5"/><circle cx="209.7" cy="286.0" r="3.5"/><circle cx="112.0" cy="297.5" r="3.5"/><circle cx="142.4" cy="297.5" r="3.5"/><circle cx="228.3" cy="259.8" r="3.5"/><circle cx="230.6" cy="268.6" r="3.5"/><circle cx="274.3" cy="274.1" r="3.5"/><circle cx="252.1" cy="287.6" r="3.5"/><circle cx="276.7" cy="286.8" r="3.5"/><circle cx="292.5" cy="290.0" r="3.5"/><circle cx="302.1" cy="288.4" r="3.5"/><circle cx="273.5" cy="299.5" r="3.5"/><circle cx="278.3" cy="300.3" r="3.5"/><circle cx="332.2" cy="313.8" r="3.5"/><circle cx="344.1" cy="321.0" r="3.5"/><circle cx="341.7" cy="333.7" r="3.5"/><circle cx="329.0" cy="325.7" r="3.5"/><circle cx="284.6" cy="314.6" r="3.5"/><circle cx="244.9" cy="328.9" r="3.5"/><circle cx="210.4" cy="311.3" r="3.5"/><circle cx="219.9" cy="319.3" r="3.5"/><circle cx="175.6" cy="291.5" r="3.5"/><circle cx="268.4" cy="352.9" r="3.5"/><circle cx="227.6" cy="313.8" r="3.5"/><circle cx="180.3" cy="336.4" r="3.5"/><circle cx="172.4" cy="288.7" r="3.5"/><circle cx="180.5" cy="293.5" r="3.5"/><circle cx="130.2" cy="332.3" r="3.5"/><circle cx="121.4" cy="324.7" r="3.5"/><circle cx="198.6" cy="318.3" r="3.5"/><circle cx="249.4" cy="322.9" r="3.5"/><circle cx="121.3" cy="286.6" r="3.5"/><circle cx="112.3" cy="294.4" r="3.5"/><circle cx="121.3" cy="285.9" r="3.5"/><circle cx="190.7" cy="355.3" r="3.5"/><circle cx="134.4" cy="339.5" r="3.5"/><circle cx="191.0" cy="322.8" r="3.5"/><circle cx="166.3" cy="349.6" r="3.5"/><circle cx="265.2" cy="331.1" r="3.5"/><circle cx="267.5" cy="352.1" r="3.5"/><circle cx="253.5" cy="323.7" r="3.5"/><circle cx="109.1" cy="303.9" r="3.5"/><circle cx="226.9" cy="324.8" r="3.5"/><circle cx="179.5" cy="296.8" r="3.5"/><circle cx="280.2" cy="351.2" r="3.5"/><circle cx="161.2" cy="353.1" r="3.5"/><circle cx="211.5" cy="347.9" r="3.5"/><circle cx="125.0" cy="318.7" r="3.5"/><circle cx="198.1" cy="351.8" r="3.5"/><circle cx="280.4" cy="315.9" r="3.5"/><circle cx="241.6" cy="315.2" r="3.5"/><circle cx="191.4" cy="349.0" r="3.5"/><circle cx="135.0" cy="286.6" r="3.5"/><circle cx="238.8" cy="331.3" r="3.5"/><circle cx="145.1" cy="319.1" r="3.5"/><circle cx="168.0" cy="326.8" r="3.5"/><circle cx="180.2" cy="325.6" r="3.5"/><circle cx="144.1" cy="327.4" r="3.5"/><circle cx="121.4" cy="302.0" r="3.5"/><circle cx="155.0" cy="322.4" r="3.5"/><circle cx="245.8" cy="354.8" r="3.5"/><circle cx="155.7" cy="309.9" r="3.5"/><circle cx="136.9" cy="323.4" r="3.5"/><circle cx="248.1" cy="346.2" r="3.5"/><circle cx="164.2" cy="341.6" r="3.5"/><circle cx="228.8" cy="348.7" r="3.5"/><circle cx="109.9" cy="285.3" r="3.5"/><circle cx="277.8" cy="351.8" r="3.5"/><circle cx="174.5" cy="324.1" r="3.5"/><circle cx="280.7" cy="331.0" r="3.5"/><circle cx="165.3" cy="334.1" r="3.5"/><circle cx="137.8" cy="295.7" r="3.5"/><circle cx="280.5" cy="340.4" r="3.5"/><circle cx="143.8" cy="286.4" r="3.5"/><circle cx="128.9" cy="301.1" r="3.5"/><circle cx="145.6" cy="317.2" r="3.5"/><circle cx="235.7" cy="307.0" r="3.5"/><circle cx="148.9" cy="327.4" r="3.5"/><circle cx="131.8" cy="350.4" r="3.5"/><circle cx="153.8" cy="337.2" r="3.5"/><circle cx="166.7" cy="317.0" r="3.5"/><circle cx="114.8" cy="289.4" r="3.5"/><circle cx="187.6" cy="299.6" r="3.5"/><circle cx="131.5" cy="329.4" r="3.5"/><circle cx="167.7" cy="323.3" r="3.5"/><circle cx="220.3" cy="316.0" r="3.5"/><circle cx="277.1" cy="354.6" r="3.5"/><circle cx="290.9" cy="326.1" r="3.5"/><circle cx="256.2" cy="318.1" r="3.5"/><circle cx="235.9" cy="339.6" r="3.5"/><circle cx="129.6" cy="310.7" r="3.5"/><circle cx="124.2" cy="325.3" r="3.5"/><circle cx="129.0" cy="299.1" r="3.5"/><circle cx="205.0" cy="343.2" r="3.5"/><circle cx="194.3" cy="330.0" r="3.5"/><circle cx="154.8" cy="286.8" r="3.5"/><circle cx="294.9" cy="336.8" r="3.5"/><circle cx="197.5" cy="312.0" r="3.5"/><circle cx="224.3" cy="301.3" r="3.5"/><circle cx="131.6" cy="314.3" r="3.5"/><circle cx="227.8" cy="342.3" r="3.5"/><circle cx="119.2" cy="311.8" r="3.5"/><circle cx="254.1" cy="346.9" r="3.5"/><circle cx="203.1" cy="308.4" r="3.5"/><circle cx="109.8" cy="261.5" r="3.5"/><circle cx="121.6" cy="286.8" r="3.5"/><circle cx="130.6" cy="280.5" r="3.5"/><circle cx="108.9" cy="259.7" r="3.5"/><circle cx="108.0" cy="232.4" r="3.5"/><circle cx="115.8" cy="288.1" r="3.5"/><circle cx="233.8" cy="273.2" r="3.5"/><circle cx="211.0" cy="267.9" r="3.5"/><circle cx="122.5" cy="270.1" r="3.5"/><circle cx="208.1" cy="260.0" r="3.5"/><circle cx="311.3" cy="308.8" r="3.5"/><circle cx="118.8" cy="245.1" r="3.5"/><circle cx="327.2" cy="337.4" r="3.5"/><circle cx="128.0" cy="260.7" r="3.5"/><circle cx="283.4" cy="308.2" r="3.5"/><circle cx="209.9" cy="275.8" r="3.5"/><circle cx="271.1" cy="309.1" r="3.5"/><circle cx="241.0" cy="290.8" r="3.5"/><circle cx="241.1" cy="293.8" r="3.5"/><circle cx="302.2" cy="299.1" r="3.5"/><circle cx="113.6" cy="249.9" r="3.5"/><circle cx="239.3" cy="275.9" r="3.5"/><circle cx="253.5" cy="295.6" r="3.5"/><circle cx="196.6" cy="277.7" r="3.5"/><circle cx="302.3" cy="303.7" r="3.5"/><circle cx="110.1" cy="233.1" r="3.5"/><circle cx="260.6" cy="295.2" r="3.5"/><circle cx="240.3" cy="277.3" r="3.5"/><circle cx="289.1" cy="320.0" r="3.5"/><circle cx="116.9" cy="247.1" r="3.5"/><circle cx="190.1" cy="268.1" r="3.5"/><circle cx="185.5" cy="280.2" r="3.5"/><circle cx="192.8" cy="253.4" r="3.5"/><circle cx="174.2" cy="252.2" r="3.5"/><circle cx="201.7" cy="294.2" r="3.5"/><circle cx="231.6" cy="267.0" r="3.5"/></g><g fill="#ff7f0e" fill-opacity="0.52" stroke="#ff7f0e" stroke-opacity="0.52" stroke-width="2.6"><circle cx="114.5" cy="226.3" r="3.5"/><circle cx="113.2" cy="239.0" r="3.5"/><circle cx="117.0" cy="247.9" r="3.5"/><circle cx="139.9" cy="251.7" r="3.5"/><circle cx="147.5" cy="251.1" r="3.5"/><circle cx="134.2" cy="261.3" r="3.5"/><circle cx="122.1" cy="268.3" r="3.5"/><circle cx="129.7" cy="273.3" r="3.5"/><circle cx="176.1" cy="249.8" r="3.5"/><circle cx="186.9" cy="250.5" r="3.5"/><circle cx="207.2" cy="263.8" r="3.5"/><circle cx="209.7" cy="261.9" r="3.5"/><circle cx="167.8" cy="284.8" r="3.5"/><circle cx="213.6" cy="277.1" r="3.5"/><circle cx="217.4" cy="270.8" r="3.5"/><circle cx="112.0" cy="286.0" r="3.5"/><circle cx="138.6" cy="279.7" r="3.5"/><circle cx="161.5" cy="296.2" r="3.5"/><circle cx="169.1" cy="297.5" r="3.5"/><circle cx="222.7" cy="259.0" r="3.5"/><circle cx="211.6" cy="263.8" r="3.5"/><circle cx="217.9" cy="269.4" r="3.5"/><circle cx="235.4" cy="266.2" r="3.5"/><circle cx="237.8" cy="270.2" r="3.5"/><circle cx="230.6" cy="271.7" r="3.5"/><circle cx="247.3" cy="277.3" r="3.5"/><circle cx="262.4" cy="286.0" r="3.5"/><circle cx="283.8" cy="291.6" r="3.5"/><circle cx="336.2" cy="305.9" r="3.5"/><circle cx="319.5" cy="324.9" r="3.5"/><circle cx="311.6" cy="328.9" r="3.5"/><circle cx="327.5" cy="332.1" r="3.5"/><circle cx="254.4" cy="306.7" r="3.5"/><circle cx="249.7" cy="328.9" r="3.5"/><circle cx="260.8" cy="324.1" r="3.5"/><circle cx="298.9" cy="328.9" r="3.5"/><circle cx="109.4" cy="284.1" r="3.5"/><circle cx="133.8" cy="284.1" r="3.5"/><circle cx="112.9" cy="334.5" r="3.5"/><circle cx="171.8" cy="302.1" r="3.5"/><circle cx="144.2" cy="349.6" r="3.5"/><circle cx="125.5" cy="307.3" r="3.5"/><circle cx="261.5" cy="311.0" r="3.5"/><circle cx="130.0" cy="290.7" r="3.5"/><circle cx="271.8" cy="313.5" r="3.5"/><circle cx="160.7" cy="305.2" r="3.5"/><circle cx="114.3" cy="284.1" r="3.5"/><circle cx="131.1" cy="345.1" r="3.5"/><circle cx="142.5" cy="311.8" r="3.5"/><circle cx="245.4" cy="312.4" r="3.5"/><circle cx="132.8" cy="285.0" r="3.5"/><circle cx="244.2" cy="318.9" r="3.5"/><circle cx="248.9" cy="342.0" r="3.5"/><circle cx="160.5" cy="289.7" r="3.5"/><circle cx="211.7" cy="351.2" r="3.5"/><circle cx="262.0" cy="310.6" r="3.5"/><circle cx="239.3" cy="348.0" r="3.5"/><circle cx="182.1" cy="308.9" r="3.5"/><circle cx="194.0" cy="307.5" r="3.5"/><circle cx="157.2" cy="348.4" r="3.5"/><circle cx="127.9" cy="338.7" r="3.5"/><circle cx="240.4" cy="314.1" r="3.5"/><circle cx="167.5" cy="343.6" r="3.5"/><circle cx="277.6" cy="319.7" r="3.5"/><circle cx="157.9" cy="319.1" r="3.5"/><circle cx="134.5" cy="311.7" r="3.5"/><circle cx="280.2" cy="341.7" r="3.5"/><circle cx="285.3" cy="321.0" r="3.5"/><circle cx="197.3" cy="304.6" r="3.5"/><circle cx="234.7" cy="352.3" r="3.5"/><circle cx="245.2" cy="305.4" r="3.5"/><circle cx="171.9" cy="340.2" r="3.5"/><circle cx="122.4" cy="323.1" r="3.5"/><circle cx="256.9" cy="312.5" r="3.5"/><circle cx="160.8" cy="311.7" r="3.5"/><circle cx="214.4" cy="311.1" r="3.5"/><circle cx="191.8" cy="295.5" r="3.5"/><circle cx="180.6" cy="345.4" r="3.5"/><circle cx="207.8" cy="341.8" r="3.5"/><circle cx="217.3" cy="323.8" r="3.5"/><circle cx="173.3" cy="339.4" r="3.5"/><circle cx="243.1" cy="313.3" r="3.5"/><circle cx="230.7" cy="337.7" r="3.5"/><circle cx="214.9" cy="344.0" r="3.5"/><circle cx="257.0" cy="313.7" r="3.5"/><circle cx="294.8" cy="338.8" r="3.5"/><circle cx="198.3" cy="350.1" r="3.5"/><circle cx="279.5" cy="315.0" r="3.5"/><circle cx="202.9" cy="355.7" r="3.5"/><circle cx="156.2" cy="344.5" r="3.5"/><circle cx="195.4" cy="296.2" r="3.5"/><circle cx="133.8" cy="287.5" r="3.5"/><circle cx="174.5" cy="316.3" r="3.5"/><circle cx="185.7" cy="330.6" r="3.5"/><circle cx="117.0" cy="329.0" r="3.5"/><circle cx="165.9" cy="316.9" r="3.5"/><circle cx="181.5" cy="306.1" r="3.5"/><circle cx="130.2" cy="310.8" r="3.5"/><circle cx="112.4" cy="291.0" r="3.5"/><circle cx="224.1" cy="353.2" r="3.5"/><circle cx="300.0" cy="345.9" r="3.5"/><circle cx="163.9" cy="355.8" r="3.5"/><circle cx="190.1" cy="355.8" r="3.5"/><circle cx="147.7" cy="306.5" r="3.5"/><circle cx="194.5" cy="355.2" r="3.5"/><circle cx="136.1" cy="295.8" r="3.5"/><circle cx="166.4" cy="319.7" r="3.5"/><circle cx="127.4" cy="337.7" r="3.5"/><circle cx="190.3" cy="300.2" r="3.5"/><circle cx="115.8" cy="331.4" r="3.5"/><circle cx="143.7" cy="286.4" r="3.5"/><circle cx="109.3" cy="312.8" r="3.5"/><circle cx="166.4" cy="338.0" r="3.5"/><circle cx="165.4" cy="310.8" r="3.5"/><circle cx="276.7" cy="315.9" r="3.5"/><circle cx="141.6" cy="342.8" r="3.5"/><circle cx="144.8" cy="352.0" r="3.5"/><circle cx="282.3" cy="329.7" r="3.5"/><circle cx="215.6" cy="336.2" r="3.5"/><circle cx="226.2" cy="331.5" r="3.5"/><circle cx="170.0" cy="330.7" r="3.5"/><circle cx="198.1" cy="349.7" r="3.5"/><circle cx="138.0" cy="297.6" r="3.5"/><circle cx="209.9" cy="320.4" r="3.5"/><circle cx="281.3" cy="352.0" r="3.5"/><circle cx="185.0" cy="299.6" r="3.5"/><circle cx="122.9" cy="284.4" r="3.5"/><circle cx="287.9" cy="337.2" r="3.5"/><circle cx="135.6" cy="286.7" r="3.5"/><circle cx="177.7" cy="312.6" r="3.5"/><circle cx="136.9" cy="296.5" r="3.5"/><circle cx="189.4" cy="290.2" r="3.5"/><circle cx="249.1" cy="322.5" r="3.5"/><circle cx="120.9" cy="352.5" r="3.5"/><circle cx="245.2" cy="312.2" r="3.5"/><circle cx="116.0" cy="334.7" r="3.5"/><circle cx="165.2" cy="340.3" r="3.5"/><circle cx="170.7" cy="344.8" r="3.5"/><circle cx="193.9" cy="340.1" r="3.5"/><circle cx="195.7" cy="322.6" r="3.5"/><circle cx="278.1" cy="350.3" r="3.5"/><circle cx="251.6" cy="335.7" r="3.5"/><circle cx="216.9" cy="313.5" r="3.5"/><circle cx="279.4" cy="345.4" r="3.5"/><circle cx="154.2" cy="295.6" r="3.5"/><circle cx="224.2" cy="303.1" r="3.5"/><circle cx="262.8" cy="347.1" r="3.5"/><circle cx="159.2" cy="320.1" r="3.5"/><circle cx="119.3" cy="290.5" r="3.5"/><circle cx="241.7" cy="318.4" r="3.5"/><circle cx="197.8" cy="341.0" r="3.5"/><circle cx="154.7" cy="326.5" r="3.5"/><circle cx="109.8" cy="331.5" r="3.5"/><circle cx="165.5" cy="333.1" r="3.5"/><circle cx="237.4" cy="352.4" r="3.5"/><circle cx="118.1" cy="302.2" r="3.5"/><circle cx="222.6" cy="315.7" r="3.5"/><circle cx="130.7" cy="312.9" r="3.5"/><circle cx="183.8" cy="301.1" r="3.5"/><circle cx="293.0" cy="320.0" r="3.5"/><circle cx="188.7" cy="352.1" r="3.5"/><circle cx="186.9" cy="351.0" r="3.5"/><circle cx="152.7" cy="314.6" r="3.5"/><circle cx="127.5" cy="355.2" r="3.5"/><circle cx="202.9" cy="307.0" r="3.5"/><circle cx="266.7" cy="332.6" r="3.5"/><circle cx="219.9" cy="331.4" r="3.5"/><circle cx="153.4" cy="345.1" r="3.5"/><circle cx="281.1" cy="334.9" r="3.5"/><circle cx="160.6" cy="325.4" r="3.5"/><circle cx="245.8" cy="337.9" r="3.5"/><circle cx="229.0" cy="316.4" r="3.5"/><circle cx="202.9" cy="355.4" r="3.5"/><circle cx="158.2" cy="331.8" r="3.5"/><circle cx="245.1" cy="311.0" r="3.5"/><circle cx="171.1" cy="348.1" r="3.5"/><circle cx="122.1" cy="290.8" r="3.5"/><circle cx="198.4" cy="316.1" r="3.5"/><circle cx="184.8" cy="337.8" r="3.5"/><circle cx="158.3" cy="300.9" r="3.5"/><circle cx="144.0" cy="307.7" r="3.5"/><circle cx="264.9" cy="325.3" r="3.5"/><circle cx="229.7" cy="351.1" r="3.5"/><circle cx="219.7" cy="332.9" r="3.5"/><circle cx="165.2" cy="303.7" r="3.5"/><circle cx="161.6" cy="332.7" r="3.5"/><circle cx="139.7" cy="320.5" r="3.5"/><circle cx="169.5" cy="304.3" r="3.5"/><circle cx="115.8" cy="313.3" r="3.5"/><circle cx="113.5" cy="343.2" r="3.5"/><circle cx="151.4" cy="315.4" r="3.5"/><circle cx="132.2" cy="260.8" r="3.5"/><circle cx="117.4" cy="232.0" r="3.5"/><circle cx="110.5" cy="232.5" r="3.5"/><circle cx="129.8" cy="274.8" r="3.5"/><circle cx="123.1" cy="276.7" r="3.5"/><circle cx="126.3" cy="287.2" r="3.5"/><circle cx="133.7" cy="282.0" r="3.5"/><circle cx="130.8" cy="261.6" r="3.5"/><circle cx="164.3" cy="252.7" r="3.5"/><circle cx="214.2" cy="276.8" r="3.5"/><circle cx="247.6" cy="307.5" r="3.5"/><circle cx="309.6" cy="310.1" r="3.5"/><circle cx="137.7" cy="259.9" r="3.5"/><circle cx="197.0" cy="277.2" r="3.5"/><circle cx="222.5" cy="280.8" r="3.5"/><circle cx="146.3" cy="283.9" r="3.5"/><circle cx="148.2" cy="259.6" r="3.5"/><circle cx="337.6" cy="332.0" r="3.5"/><circle cx="124.5" cy="275.5" r="3.5"/><circle cx="129.5" cy="258.7" r="3.5"/><circle cx="227.6" cy="301.8" r="3.5"/><circle cx="108.5" cy="260.9" r="3.5"/><circle cx="178.5" cy="259.9" r="3.5"/><circle cx="213.4" cy="289.6" r="3.5"/><circle cx="160.4" cy="271.6" r="3.5"/><circle cx="116.1" cy="241.9" r="3.5"/><circle cx="111.5" cy="245.5" r="3.5"/><circle cx="213.3" cy="259.6" r="3.5"/><circle cx="166.1" cy="261.2" r="3.5"/><circle cx="185.5" cy="265.6" r="3.5"/><circle cx="183.8" cy="283.9" r="3.5"/><circle cx="176.4" cy="259.7" r="3.5"/><circle cx="220.3" cy="286.7" r="3.5"/><circle cx="194.4" cy="290.6" r="3.5"/><circle cx="123.2" cy="243.1" r="3.5"/><circle cx="249.5" cy="282.0" r="3.5"/><circle cx="240.5" cy="270.7" r="3.5"/><circle cx="244.7" cy="269.6" r="3.5"/><circle cx="270.3" cy="291.7" r="3.5"/><circle cx="143.8" cy="277.5" r="3.5"/><circle cx="134.4" cy="268.5" r="3.5"/></g><g fill="#1f77b4" fill-opacity="0.52" stroke="#1f77b4" stroke-opacity="0.52" stroke-width="2.6"><circle cx="123.4" cy="225.1" r="3.5"/><circle cx="120.2" cy="234.0" r="3.5"/><circle cx="134.2" cy="235.2" r="3.5"/><circle cx="127.8" cy="246.7" r="3.5"/><circle cx="136.7" cy="244.8" r="3.5"/><circle cx="151.3" cy="258.7" r="3.5"/><circle cx="127.2" cy="255.6" r="3.5"/><circle cx="114.5" cy="258.1" r="3.5"/><circle cx="119.6" cy="261.9" r="3.5"/><circle cx="114.5" cy="264.4" r="3.5"/><circle cx="113.2" cy="272.1" r="3.5"/><circle cx="119.6" cy="275.9" r="3.5"/><circle cx="137.4" cy="270.8" r="3.5"/><circle cx="161.5" cy="261.9" r="3.5"/><circle cx="162.8" cy="264.4" r="3.5"/><circle cx="181.8" cy="254.3" r="3.5"/><circle cx="171.0" cy="256.8" r="3.5"/><circle cx="180.5" cy="261.9" r="3.5"/><circle cx="199.6" cy="250.5" r="3.5"/><circle cx="212.3" cy="253.0" r="3.5"/><circle cx="198.3" cy="265.7" r="3.5"/><circle cx="199.6" cy="274.6" r="3.5"/><circle cx="164.0" cy="278.4" r="3.5"/><circle cx="160.2" cy="281.0" r="3.5"/><circle cx="203.4" cy="284.8" r="3.5"/><circle cx="114.5" cy="289.8" r="3.5"/><circle cx="124.7" cy="283.5" r="3.5"/><circle cx="133.6" cy="283.5" r="3.5"/><circle cx="142.4" cy="286.0" r="3.5"/><circle cx="132.3" cy="293.7" r="3.5"/><circle cx="128.5" cy="297.5" r="3.5"/><circle cx="156.4" cy="294.9" r="3.5"/><circle cx="176.7" cy="288.6" r="3.5"/><circle cx="186.9" cy="291.1" r="3.5"/><circle cx="197.0" cy="291.1" r="3.5"/><circle cx="211.0" cy="292.4" r="3.5"/><circle cx="216.1" cy="296.2" r="3.5"/><circle cx="213.2" cy="253.5" r="3.5"/><circle cx="222.7" cy="274.9" r="3.5"/><circle cx="219.5" cy="279.7" r="3.5"/><circle cx="239.4" cy="278.1" r="3.5"/><circle cx="254.4" cy="268.6" r="3.5"/><circle cx="256.0" cy="267.0" r="3.5"/><circle cx="255.2" cy="280.5" r="3.5"/><circle cx="256.0" cy="294.0" r="3.5"/><circle cx="296.5" cy="285.2" r="3.5"/><circle cx="298.1" cy="293.2" r="3.5"/><circle cx="267.1" cy="299.5" r="3.5"/><circle cx="286.2" cy="302.7" r="3.5"/><circle cx="289.4" cy="305.1" r="3.5"/><circle cx="298.1" cy="300.3" r="3.5"/><circle cx="302.1" cy="309.0" r="3.5"/><circle cx="311.6" cy="308.3" r="3.5"/><circle cx="341.7" cy="326.5" r="3.5"/><circle cx="211.6" cy="292.4" r="3.5"/><circle cx="221.1" cy="294.8" r="3.5"/><circle cx="233.8" cy="294.8" r="3.5"/><circle cx="241.7" cy="295.6" r="3.5"/><circle cx="256.0" cy="298.7" r="3.5"/><circle cx="270.3" cy="308.3" r="3.5"/><circle cx="276.7" cy="306.7" r="3.5"/><circle cx="298.9" cy="316.2" r="3.5"/><circle cx="300.5" cy="319.4" r="3.5"/><circle cx="283.0" cy="317.8" r="3.5"/><circle cx="213.2" cy="306.7" r="3.5"/><circle cx="224.3" cy="316.2" r="3.5"/><circle cx="233.8" cy="322.5" r="3.5"/><circle cx="216.3" cy="328.9" r="3.5"/><circle cx="225.9" cy="333.7" r="3.5"/><circle cx="235.4" cy="335.2" r="3.5"/><circle cx="254.4" cy="322.5" r="3.5"/><circle cx="257.6" cy="332.1" r="3.5"/><circle cx="267.1" cy="327.3" r="3.5"/><circle cx="270.3" cy="335.2" r="3.5"/><circle cx="278.3" cy="333.7" r="3.5"/><circle cx="286.2" cy="335.2" r="3.5"/><circle cx="295.7" cy="332.1" r="3.5"/><circle cx="319.5" cy="336.8" r="3.5"/><circle cx="346.5" cy="338.4" r="3.5"/><circle cx="135.4" cy="335.0" r="3.5"/><circle cx="184.8" cy="291.1" r="3.5"/><circle cx="149.1" cy="339.5" r="3.5"/><circle cx="227.4" cy="319.2" r="3.5"/><circle cx="240.7" cy="353.8" r="3.5"/><circle cx="254.7" cy="354.8" r="3.5"/><circle cx="179.4" cy="297.9" r="3.5"/><circle cx="146.9" cy="290.7" r="3.5"/><circle cx="289.0" cy="330.9" r="3.5"/><circle cx="134.1" cy="305.8" r="3.5"/><circle cx="148.4" cy="303.0" r="3.5"/><circle cx="164.3" cy="313.4" r="3.5"/><circle cx="218.8" cy="307.7" r="3.5"/><circle cx="223.8" cy="343.6" r="3.5"/><circle cx="125.5" cy="321.5" r="3.5"/><circle cx="237.7" cy="319.9" r="3.5"/><circle cx="116.3" cy="352.3" r="3.5"/><circle cx="296.8" cy="339.5" r="3.5"/><circle cx="201.9" cy="355.9" r="3.5"/><circle cx="210.9" cy="310.7" r="3.5"/><circle cx="118.0" cy="321.1" r="3.5"/><circle cx="282.7" cy="334.8" r="3.5"/><circle cx="214.3" cy="338.6" r="3.5"/><circle cx="220.0" cy="345.6" r="3.5"/><circle cx="188.3" cy="300.4" r="3.5"/><circle cx="236.3" cy="302.7" r="3.5"/><circle cx="261.4" cy="318.9" r="3.5"/><circle cx="211.7" cy="344.3" r="3.5"/><circle cx="132.7" cy="346.0" r="3.5"/><circle cx="229.9" cy="298.4" r="3.5"/><circle cx="263.6" cy="343.7" r="3.5"/><circle cx="121.1" cy="308.5" r="3.5"/><circle cx="164.5" cy="341.5" r="3.5"/><circle cx="243.1" cy="347.9" r="3.5"/><circle cx="274.9" cy="324.1" r="3.5"/><circle cx="186.7" cy="333.1" r="3.5"/><circle cx="234.4" cy="314.7" r="3.5"/><circle cx="182.6" cy="330.5" r="3.5"/><circle cx="233.9" cy="323.7" r="3.5"/><circle cx="288.2" cy="331.3" r="3.5"/><circle cx="237.8" cy="337.6" r="3.5"/><circle cx="172.6" cy="351.9" r="3.5"/><circle cx="120.3" cy="329.3" r="3.5"/><circle cx="136.6" cy="284.5" r="3.5"/><circle cx="264.7" cy="355.7" r="3.5"/><circle cx="150.3" cy="313.1" r="3.5"/><circle cx="267.0" cy="355.7" r="3.5"/><circle cx="182.7" cy="322.4" r="3.5"/><circle cx="183.2" cy="303.5" r="3.5"/><circle cx="176.6" cy="348.7" r="3.5"/><circle cx="203.2" cy="335.3" r="3.5"/><circle cx="110.7" cy="346.4" r="3.5"/><circle cx="162.7" cy="345.3" r="3.5"/><circle cx="188.8" cy="300.7" r="3.5"/><circle cx="214.8" cy="333.1" r="3.5"/><circle cx="164.8" cy="303.8" r="3.5"/><circle cx="246.3" cy="306.8" r="3.5"/><circle cx="123.4" cy="322.2" r="3.5"/><circle cx="139.9" cy="353.8" r="3.5"/><circle cx="205.6" cy="295.5" r="3.5"/><circle cx="246.3" cy="327.0" r="3.5"/><circle cx="142.1" cy="334.3" r="3.5"/><circle cx="177.8" cy="293.7" r="3.5"/><circle cx="117.0" cy="297.1" r="3.5"/><circle cx="175.7" cy="321.5" r="3.5"/><circle cx="117.2" cy="306.4" r="3.5"/><circle cx="281.3" cy="353.0" r="3.5"/><circle cx="278.3" cy="339.6" r="3.5"/><circle cx="226.6" cy="343.8" r="3.5"/><circle cx="224.6" cy="315.1" r="3.5"/><circle cx="282.8" cy="344.6" r="3.5"/><circle cx="221.3" cy="334.2" r="3.5"/><circle cx="193.6" cy="322.9" r="3.5"/><circle cx="298.1" cy="354.0" r="3.5"/><circle cx="288.1" cy="344.5" r="3.5"/><circle cx="170.4" cy="301.3" r="3.5"/><circle cx="154.0" cy="341.0" r="3.5"/><circle cx="113.9" cy="339.8" r="3.5"/><circle cx="112.7" cy="331.8" r="3.5"/><circle cx="137.6" cy="290.1" r="3.5"/><circle cx="282.6" cy="350.0" r="3.5"/><circle cx="230.3" cy="309.8" r="3.5"/><circle cx="290.1" cy="339.2" r="3.5"/><circle cx="186.5" cy="293.9" r="3.5"/><circle cx="136.1" cy="343.1" r="3.5"/><circle cx="285.9" cy="322.1" r="3.5"/><circle cx="138.4" cy="336.4" r="3.5"/><circle cx="166.7" cy="292.9" r="3.5"/><circle cx="237.7" cy="314.2" r="3.5"/><circle cx="154.1" cy="309.1" r="3.5"/><circle cx="188.8" cy="346.7" r="3.5"/><circle cx="268.6" cy="355.3" r="3.5"/><circle cx="129.8" cy="288.8" r="3.5"/><circle cx="135.6" cy="338.3" r="3.5"/><circle cx="111.8" cy="276.9" r="3.5"/><circle cx="122.7" cy="308.7" r="3.5"/><circle cx="159.5" cy="289.0" r="3.5"/><circle cx="299.7" cy="333.6" r="3.5"/><circle cx="128.8" cy="327.9" r="3.5"/><circle cx="167.5" cy="307.2" r="3.5"/><circle cx="191.9" cy="348.0" r="3.5"/><circle cx="142.3" cy="290.3" r="3.5"/><circle cx="279.1" cy="314.7" r="3.5"/><circle cx="118.6" cy="325.6" r="3.5"/><circle cx="256.0" cy="314.1" r="3.5"/><circle cx="250.9" cy="336.4" r="3.5"/><circle cx="162.2" cy="305.6" r="3.5"/><circle cx="283.5" cy="348.1" r="3.5"/><circle cx="238.3" cy="324.9" r="3.5"/><circle cx="251.3" cy="334.0" r="3.5"/><circle cx="196.4" cy="347.1" r="3.5"/><circle cx="115.3" cy="333.1" r="3.5"/><circle cx="280.4" cy="342.1" r="3.5"/><circle cx="136.4" cy="305.4" r="3.5"/><circle cx="211.4" cy="335.9" r="3.5"/><circle cx="215.7" cy="308.6" r="3.5"/><circle cx="124.5" cy="329.3" r="3.5"/><circle cx="153.3" cy="287.7" r="3.5"/><circle cx="276.1" cy="315.4" r="3.5"/><circle cx="279.9" cy="350.4" r="3.5"/><circle cx="125.3" cy="331.6" r="3.5"/><circle cx="245.6" cy="349.6" r="3.5"/><circle cx="236.9" cy="324.2" r="3.5"/><circle cx="172.0" cy="343.0" r="3.5"/><circle cx="112.5" cy="344.4" r="3.5"/><circle cx="138.9" cy="308.3" r="3.5"/><circle cx="115.0" cy="301.4" r="3.5"/><circle cx="181.5" cy="326.0" r="3.5"/><circle cx="210.1" cy="303.3" r="3.5"/><circle cx="152.4" cy="303.3" r="3.5"/><circle cx="220.6" cy="349.7" r="3.5"/><circle cx="214.1" cy="324.8" r="3.5"/><circle cx="117.0" cy="347.2" r="3.5"/><circle cx="248.3" cy="309.3" r="3.5"/><circle cx="272.4" cy="340.6" r="3.5"/><circle cx="223.4" cy="302.1" r="3.5"/><circle cx="202.6" cy="293.4" r="3.5"/><circle cx="212.5" cy="308.5" r="3.5"/><circle cx="174.9" cy="294.8" r="3.5"/><circle cx="252.0" cy="320.2" r="3.5"/><circle cx="249.9" cy="330.4" r="3.5"/><circle cx="279.2" cy="324.4" r="3.5"/><circle cx="133.3" cy="286.4" r="3.5"/><circle cx="146.0" cy="298.1" r="3.5"/><circle cx="261.6" cy="342.2" r="3.5"/><circle cx="128.3" cy="341.9" r="3.5"/><circle cx="257.7" cy="344.3" r="3.5"/><circle cx="225.3" cy="320.1" r="3.5"/><circle cx="178.6" cy="344.6" r="3.5"/><circle cx="227.4" cy="324.3" r="3.5"/><circle cx="221.9" cy="323.3" r="3.5"/><circle cx="177.2" cy="295.3" r="3.5"/><circle cx="239.6" cy="316.3" r="3.5"/><circle cx="163.5" cy="321.8" r="3.5"/><circle cx="219.2" cy="329.0" r="3.5"/><circle cx="203.7" cy="327.9" r="3.5"/><circle cx="262.2" cy="345.2" r="3.5"/><circle cx="283.1" cy="339.1" r="3.5"/><circle cx="161.5" cy="304.2" r="3.5"/><circle cx="166.8" cy="345.9" r="3.5"/><circle cx="222.6" cy="334.3" r="3.5"/><circle cx="108.3" cy="333.2" r="3.5"/><circle cx="135.7" cy="293.8" r="3.5"/><circle cx="203.6" cy="335.7" r="3.5"/><circle cx="170.3" cy="305.9" r="3.5"/><circle cx="115.0" cy="310.7" r="3.5"/><circle cx="132.2" cy="313.4" r="3.5"/><circle cx="145.8" cy="318.5" r="3.5"/><circle cx="267.9" cy="354.9" r="3.5"/><circle cx="181.0" cy="321.2" r="3.5"/><circle cx="121.4" cy="323.6" r="3.5"/><circle cx="195.6" cy="314.6" r="3.5"/><circle cx="115.4" cy="317.5" r="3.5"/><circle cx="253.5" cy="333.9" r="3.5"/><circle cx="189.0" cy="323.2" r="3.5"/><circle cx="219.9" cy="330.1" r="3.5"/><circle cx="121.0" cy="342.8" r="3.5"/><circle cx="260.9" cy="354.4" r="3.5"/><circle cx="226.0" cy="315.5" r="3.5"/><circle cx="112.2" cy="306.1" r="3.5"/><circle cx="109.2" cy="244.4" r="3.5"/><circle cx="112.6" cy="236.7" r="3.5"/><circle cx="111.5" cy="233.2" r="3.5"/><circle cx="108.1" cy="252.5" r="3.5"/><circle cx="115.7" cy="285.9" r="3.5"/><circle cx="113.4" cy="251.1" r="3.5"/><circle cx="118.2" cy="289.3" r="3.5"/><circle cx="119.5" cy="272.7" r="3.5"/><circle cx="108.7" cy="270.4" r="3.5"/><circle cx="115.5" cy="254.3" r="3.5"/><circle cx="121.7" cy="261.5" r="3.5"/><circle cx="117.5" cy="273.9" r="3.5"/><circle cx="130.0" cy="269.5" r="3.5"/><circle cx="113.9" cy="232.1" r="3.5"/><circle cx="119.8" cy="236.8" r="3.5"/><circle cx="111.7" cy="253.2" r="3.5"/><circle cx="178.6" cy="267.3" r="3.5"/><circle cx="135.8" cy="258.0" r="3.5"/><circle cx="243.3" cy="288.8" r="3.5"/><circle cx="289.1" cy="315.0" r="3.5"/><circle cx="186.2" cy="263.3" r="3.5"/><circle cx="144.7" cy="246.2" r="3.5"/><circle cx="338.3" cy="327.9" r="3.5"/><circle cx="208.5" cy="281.3" r="3.5"/><circle cx="176.8" cy="259.0" r="3.5"/><circle cx="195.6" cy="282.5" r="3.5"/><circle cx="130.5" cy="271.4" r="3.5"/><circle cx="134.4" cy="260.2" r="3.5"/><circle cx="320.8" cy="326.7" r="3.5"/><circle cx="172.4" cy="263.7" r="3.5"/><circle cx="292.6" cy="304.4" r="3.5"/><circle cx="152.5" cy="275.6" r="3.5"/><circle cx="300.1" cy="315.8" r="3.5"/><circle cx="187.5" cy="259.1" r="3.5"/><circle cx="325.8" cy="318.4" r="3.5"/><circle cx="136.5" cy="278.8" r="3.5"/><circle cx="269.3" cy="298.8" r="3.5"/><circle cx="292.6" cy="294.6" r="3.5"/><circle cx="175.5" cy="275.2" r="3.5"/><circle cx="255.6" cy="279.6" r="3.5"/><circle cx="261.6" cy="280.3" r="3.5"/><circle cx="139.4" cy="269.6" r="3.5"/><circle cx="272.6" cy="308.1" r="3.5"/><circle cx="217.2" cy="266.6" r="3.5"/><circle cx="224.4" cy="266.9" r="3.5"/><circle cx="309.4" cy="307.0" r="3.5"/><circle cx="145.8" cy="246.4" r="3.5"/><circle cx="136.7" cy="275.1" r="3.5"/><circle cx="190.3" cy="252.9" r="3.5"/><circle cx="158.0" cy="268.1" r="3.5"/><circle cx="192.7" cy="272.4" r="3.5"/><circle cx="196.1" cy="287.6" r="3.5"/><circle cx="174.5" cy="275.2" r="3.5"/><circle cx="231.9" cy="293.2" r="3.5"/><circle cx="313.2" cy="321.6" r="3.5"/><circle cx="231.0" cy="292.2" r="3.5"/><circle cx="290.6" cy="298.9" r="3.5"/><circle cx="190.2" cy="258.9" r="3.5"/><circle cx="320.6" cy="310.5" r="3.5"/><circle cx="319.0" cy="319.2" r="3.5"/><circle cx="190.3" cy="273.6" r="3.5"/><circle cx="177.8" cy="260.5" r="3.5"/><circle cx="205.0" cy="259.1" r="3.5"/></g></g><g clip-path="url(#cr1)"><g fill="#d62728" fill-opacity="0.32" stroke="#d62728" stroke-opacity="0.32" stroke-width="2.6"><circle cx="680.0" cy="261.7" r="3.5"/><circle cx="660.0" cy="285.8" r="3.5"/><circle cx="650.8" cy="287.5" r="3.5"/><circle cx="656.7" cy="288.3" r="3.5"/><circle cx="629.2" cy="282.5" r="3.5"/><circle cx="639.2" cy="290.8" r="3.5"/><circle cx="640.8" cy="295.0" r="3.5"/><circle cx="653.3" cy="306.7" r="3.5"/><circle cx="665.0" cy="311.7" r="3.5"/><circle cx="605.8" cy="306.7" r="3.5"/><circle cx="615.0" cy="304.2" r="3.5"/><circle cx="636.7" cy="305.0" r="3.5"/><circle cx="581.7" cy="316.7" r="3.5"/><circle cx="595.8" cy="328.3" r="3.5"/><circle cx="618.3" cy="345.0" r="3.5"/><circle cx="740.5" cy="295.1" r="3.5"/><circle cx="790.2" cy="279.1" r="3.5"/><circle cx="718.2" cy="316.7" r="3.5"/><circle cx="739.8" cy="315.1" r="3.5"/><circle cx="708.0" cy="287.9" r="3.5"/><circle cx="839.3" cy="279.6" r="3.5"/><circle cx="718.7" cy="276.4" r="3.5"/><circle cx="857.4" cy="307.4" r="3.5"/><circle cx="810.5" cy="292.1" r="3.5"/><circle cx="696.2" cy="312.8" r="3.5"/><circle cx="800.6" cy="297.8" r="3.5"/><circle cx="725.7" cy="308.8" r="3.5"/><circle cx="864.5" cy="314.2" r="3.5"/><circle cx="852.0" cy="325.3" r="3.5"/><circle cx="823.7" cy="245.0" r="3.5"/><circle cx="709.1" cy="320.8" r="3.5"/><circle cx="862.2" cy="311.4" r="3.5"/><circle cx="830.7" cy="324.6" r="3.5"/><circle cx="789.9" cy="280.3" r="3.5"/><circle cx="804.3" cy="237.6" r="3.5"/><circle cx="678.5" cy="268.1" r="3.5"/><circle cx="677.2" cy="304.3" r="3.5"/><circle cx="828.2" cy="324.2" r="3.5"/><circle cx="840.5" cy="323.0" r="3.5"/><circle cx="730.0" cy="322.3" r="3.5"/><circle cx="862.4" cy="251.8" r="3.5"/><circle cx="821.6" cy="231.0" r="3.5"/><circle cx="809.5" cy="294.1" r="3.5"/><circle cx="788.5" cy="289.0" r="3.5"/><circle cx="714.5" cy="313.0" r="3.5"/><circle cx="852.4" cy="290.9" r="3.5"/><circle cx="804.9" cy="283.1" r="3.5"/><circle cx="818.8" cy="271.1" r="3.5"/><circle cx="868.9" cy="287.2" r="3.5"/><circle cx="824.6" cy="314.1" r="3.5"/><circle cx="742.1" cy="298.3" r="3.5"/><circle cx="705.2" cy="328.2" r="3.5"/><circle cx="763.0" cy="306.8" r="3.5"/><circle cx="813.7" cy="302.4" r="3.5"/><circle cx="686.2" cy="313.7" r="3.5"/><circle cx="850.3" cy="252.0" r="3.5"/><circle cx="764.5" cy="278.1" r="3.5"/><circle cx="685.4" cy="317.1" r="3.5"/><circle cx="783.7" cy="243.5" r="3.5"/><circle cx="858.2" cy="227.3" r="3.5"/><circle cx="698.7" cy="319.6" r="3.5"/><circle cx="859.9" cy="295.1" r="3.5"/><circle cx="851.4" cy="300.9" r="3.5"/><circle cx="682.6" cy="327.9" r="3.5"/><circle cx="867.4" cy="286.5" r="3.5"/><circle cx="749.5" cy="305.6" r="3.5"/><circle cx="778.6" cy="319.4" r="3.5"/><circle cx="689.2" cy="268.0" r="3.5"/><circle cx="800.5" cy="289.5" r="3.5"/><circle cx="842.6" cy="246.2" r="3.5"/><circle cx="758.2" cy="310.3" r="3.5"/><circle cx="763.9" cy="261.5" r="3.5"/><circle cx="738.7" cy="322.8" r="3.5"/><circle cx="813.1" cy="303.3" r="3.5"/><circle cx="664.1" cy="316.4" r="3.5"/><circle cx="799.8" cy="309.7" r="3.5"/><circle cx="807.9" cy="311.8" r="3.5"/><circle cx="698.2" cy="282.1" r="3.5"/><circle cx="677.4" cy="310.8" r="3.5"/><circle cx="792.1" cy="283.0" r="3.5"/><circle cx="758.6" cy="295.3" r="3.5"/><circle cx="839.5" cy="256.0" r="3.5"/><circle cx="841.9" cy="260.3" r="3.5"/><circle cx="770.3" cy="324.2" r="3.5"/><circle cx="801.8" cy="286.8" r="3.5"/><circle cx="715.1" cy="329.5" r="3.5"/><circle cx="833.1" cy="282.8" r="3.5"/><circle cx="791.7" cy="327.9" r="3.5"/><circle cx="700.4" cy="266.0" r="3.5"/><circle cx="816.4" cy="328.4" r="3.5"/><circle cx="740.0" cy="294.9" r="3.5"/><circle cx="824.1" cy="251.3" r="3.5"/><circle cx="725.3" cy="321.3" r="3.5"/><circle cx="778.9" cy="273.7" r="3.5"/><circle cx="827.0" cy="240.3" r="3.5"/><circle cx="746.0" cy="261.4" r="3.5"/><circle cx="790.4" cy="228.9" r="3.5"/><circle cx="869.2" cy="231.8" r="3.5"/><circle cx="826.1" cy="312.2" r="3.5"/><circle cx="844.8" cy="314.5" r="3.5"/><circle cx="840.1" cy="298.4" r="3.5"/><circle cx="819.7" cy="220.5" r="3.5"/><circle cx="767.4" cy="255.5" r="3.5"/><circle cx="746.8" cy="248.0" r="3.5"/><circle cx="662.1" cy="326.2" r="3.5"/><circle cx="715.2" cy="323.3" r="3.5"/><circle cx="737.5" cy="295.7" r="3.5"/><circle cx="823.6" cy="220.7" r="3.5"/><circle cx="736.4" cy="274.0" r="3.5"/><circle cx="862.3" cy="295.8" r="3.5"/><circle cx="811.2" cy="319.8" r="3.5"/><circle cx="766.6" cy="317.9" r="3.5"/><circle cx="854.9" cy="323.1" r="3.5"/><circle cx="820.9" cy="290.0" r="3.5"/><circle cx="831.3" cy="287.6" r="3.5"/><circle cx="700.2" cy="306.5" r="3.5"/><circle cx="660.1" cy="324.1" r="3.5"/><circle cx="829.7" cy="268.1" r="3.5"/><circle cx="691.4" cy="268.8" r="3.5"/><circle cx="823.7" cy="265.6" r="3.5"/><circle cx="671.2" cy="298.3" r="3.5"/><circle cx="663.8" cy="284.9" r="3.5"/><circle cx="811.4" cy="322.5" r="3.5"/><circle cx="819.3" cy="276.7" r="3.5"/><circle cx="854.0" cy="283.2" r="3.5"/><circle cx="813.9" cy="287.5" r="3.5"/><circle cx="743.2" cy="285.3" r="3.5"/><circle cx="755.4" cy="324.3" r="3.5"/><circle cx="727.7" cy="289.5" r="3.5"/><circle cx="856.2" cy="304.8" r="3.5"/><circle cx="768.2" cy="295.3" r="3.5"/><circle cx="686.6" cy="303.2" r="3.5"/><circle cx="759.3" cy="324.3" r="3.5"/><circle cx="820.6" cy="294.9" r="3.5"/><circle cx="865.7" cy="324.4" r="3.5"/><circle cx="804.6" cy="245.8" r="3.5"/><circle cx="770.4" cy="305.9" r="3.5"/><circle cx="836.3" cy="310.4" r="3.5"/><circle cx="868.7" cy="320.2" r="3.5"/><circle cx="780.9" cy="295.3" r="3.5"/><circle cx="760.8" cy="296.3" r="3.5"/><circle cx="762.8" cy="297.9" r="3.5"/><circle cx="678.3" cy="324.4" r="3.5"/><circle cx="809.6" cy="302.8" r="3.5"/><circle cx="674.1" cy="327.2" r="3.5"/><circle cx="825.3" cy="354.2" r="3.5"/><circle cx="628.0" cy="339.8" r="3.5"/><circle cx="866.0" cy="325.3" r="3.5"/><circle cx="838.6" cy="324.4" r="3.5"/><circle cx="741.4" cy="308.8" r="3.5"/><circle cx="581.7" cy="346.0" r="3.5"/><circle cx="688.7" cy="313.6" r="3.5"/><circle cx="772.0" cy="314.5" r="3.5"/><circle cx="800.0" cy="327.5" r="3.5"/><circle cx="680.3" cy="321.4" r="3.5"/><circle cx="815.9" cy="323.7" r="3.5"/><circle cx="684.6" cy="333.1" r="3.5"/><circle cx="666.6" cy="350.1" r="3.5"/><circle cx="644.5" cy="334.6" r="3.5"/><circle cx="750.8" cy="312.2" r="3.5"/><circle cx="718.0" cy="353.8" r="3.5"/><circle cx="823.8" cy="335.0" r="3.5"/><circle cx="742.5" cy="328.8" r="3.5"/><circle cx="778.8" cy="329.9" r="3.5"/><circle cx="802.0" cy="314.7" r="3.5"/><circle cx="861.3" cy="317.7" r="3.5"/><circle cx="869.4" cy="300.9" r="3.5"/><circle cx="688.5" cy="331.7" r="3.5"/><circle cx="797.5" cy="328.6" r="3.5"/><circle cx="774.1" cy="306.3" r="3.5"/><circle cx="643.2" cy="334.6" r="3.5"/><circle cx="704.6" cy="303.4" r="3.5"/><circle cx="755.9" cy="315.8" r="3.5"/><circle cx="706.4" cy="338.1" r="3.5"/><circle cx="670.0" cy="340.4" r="3.5"/><circle cx="648.2" cy="326.6" r="3.5"/><circle cx="675.4" cy="338.9" r="3.5"/><circle cx="713.4" cy="303.8" r="3.5"/><circle cx="716.6" cy="335.0" r="3.5"/><circle cx="597.8" cy="347.1" r="3.5"/><circle cx="869.1" cy="310.2" r="3.5"/><circle cx="678.7" cy="355.5" r="3.5"/><circle cx="664.2" cy="337.3" r="3.5"/><circle cx="779.0" cy="322.5" r="3.5"/><circle cx="649.9" cy="352.7" r="3.5"/><circle cx="709.2" cy="317.8" r="3.5"/><circle cx="595.9" cy="334.7" r="3.5"/><circle cx="866.8" cy="297.2" r="3.5"/><circle cx="619.4" cy="343.4" r="3.5"/><circle cx="649.5" cy="337.4" r="3.5"/><circle cx="852.6" cy="295.3" r="3.5"/><circle cx="698.1" cy="310.5" r="3.5"/><circle cx="639.1" cy="341.6" r="3.5"/><circle cx="753.8" cy="331.5" r="3.5"/><circle cx="655.0" cy="342.1" r="3.5"/><circle cx="865.2" cy="331.6" r="3.5"/><circle cx="799.3" cy="349.8" r="3.5"/><circle cx="631.8" cy="351.2" r="3.5"/><circle cx="788.3" cy="324.8" r="3.5"/><circle cx="740.5" cy="339.2" r="3.5"/><circle cx="786.8" cy="302.5" r="3.5"/><circle cx="736.0" cy="320.1" r="3.5"/><circle cx="702.8" cy="338.7" r="3.5"/><circle cx="869.0" cy="334.1" r="3.5"/><circle cx="837.8" cy="313.7" r="3.5"/><circle cx="835.6" cy="339.2" r="3.5"/><circle cx="714.7" cy="338.3" r="3.5"/><circle cx="809.4" cy="349.7" r="3.5"/><circle cx="735.5" cy="341.3" r="3.5"/><circle cx="726.0" cy="322.8" r="3.5"/><circle cx="733.6" cy="349.7" r="3.5"/><circle cx="824.0" cy="353.0" r="3.5"/><circle cx="853.1" cy="352.1" r="3.5"/><circle cx="618.5" cy="354.7" r="3.5"/><circle cx="815.3" cy="299.6" r="3.5"/><circle cx="662.9" cy="325.1" r="3.5"/><circle cx="733.7" cy="306.6" r="3.5"/><circle cx="839.2" cy="331.1" r="3.5"/><circle cx="695.3" cy="345.8" r="3.5"/><circle cx="736.8" cy="305.7" r="3.5"/><circle cx="624.4" cy="320.6" r="3.5"/><circle cx="571.3" cy="337.6" r="3.5"/><circle cx="808.9" cy="293.9" r="3.5"/><circle cx="816.7" cy="354.0" r="3.5"/><circle cx="667.0" cy="343.8" r="3.5"/><circle cx="704.6" cy="320.3" r="3.5"/><circle cx="816.8" cy="316.7" r="3.5"/><circle cx="831.3" cy="318.3" r="3.5"/><circle cx="842.3" cy="337.9" r="3.5"/><circle cx="761.9" cy="354.6" r="3.5"/><circle cx="760.2" cy="311.7" r="3.5"/><circle cx="550.7" cy="341.9" r="3.5"/><circle cx="720.4" cy="325.9" r="3.5"/><circle cx="612.1" cy="337.2" r="3.5"/><circle cx="856.4" cy="331.9" r="3.5"/><circle cx="733.3" cy="333.3" r="3.5"/><circle cx="821.2" cy="344.7" r="3.5"/><circle cx="613.1" cy="336.2" r="3.5"/><circle cx="732.0" cy="310.8" r="3.5"/><circle cx="670.9" cy="318.2" r="3.5"/><circle cx="653.6" cy="333.6" r="3.5"/><circle cx="763.4" cy="297.5" r="3.5"/><circle cx="628.8" cy="352.0" r="3.5"/><circle cx="744.8" cy="317.4" r="3.5"/><circle cx="826.7" cy="317.3" r="3.5"/><circle cx="651.3" cy="328.0" r="3.5"/><circle cx="752.7" cy="300.6" r="3.5"/><circle cx="785.2" cy="341.5" r="3.5"/></g><g fill="#ff7f0e" fill-opacity="0.32" stroke="#ff7f0e" stroke-opacity="0.32" stroke-width="2.6"><circle cx="656.7" cy="270.0" r="3.5"/><circle cx="661.7" cy="272.5" r="3.5"/><circle cx="670.8" cy="271.7" r="3.5"/><circle cx="671.7" cy="275.8" r="3.5"/><circle cx="665.8" cy="283.3" r="3.5"/><circle cx="665.0" cy="293.3" r="3.5"/><circle cx="673.3" cy="291.7" r="3.5"/><circle cx="657.5" cy="295.8" r="3.5"/><circle cx="635.0" cy="283.3" r="3.5"/><circle cx="636.7" cy="282.5" r="3.5"/><circle cx="629.2" cy="294.2" r="3.5"/><circle cx="622.5" cy="295.8" r="3.5"/><circle cx="646.7" cy="306.7" r="3.5"/><circle cx="592.5" cy="305.0" r="3.5"/><circle cx="605.0" cy="304.2" r="3.5"/><circle cx="626.7" cy="305.0" r="3.5"/><circle cx="570.0" cy="328.3" r="3.5"/><circle cx="576.7" cy="327.5" r="3.5"/><circle cx="608.3" cy="325.8" r="3.5"/><circle cx="635.0" cy="315.8" r="3.5"/><circle cx="643.3" cy="316.7" r="3.5"/><circle cx="578.3" cy="336.7" r="3.5"/><circle cx="626.7" cy="346.7" r="3.5"/><circle cx="646.7" cy="346.7" r="3.5"/><circle cx="851.9" cy="275.1" r="3.5"/><circle cx="798.9" cy="309.1" r="3.5"/><circle cx="691.5" cy="294.0" r="3.5"/><circle cx="705.3" cy="294.4" r="3.5"/><circle cx="804.7" cy="327.4" r="3.5"/><circle cx="837.8" cy="239.2" r="3.5"/><circle cx="745.5" cy="286.2" r="3.5"/><circle cx="773.4" cy="314.4" r="3.5"/><circle cx="841.1" cy="313.7" r="3.5"/><circle cx="797.6" cy="297.5" r="3.5"/><circle cx="838.2" cy="325.0" r="3.5"/><circle cx="814.0" cy="288.4" r="3.5"/><circle cx="863.2" cy="235.9" r="3.5"/><circle cx="697.9" cy="286.7" r="3.5"/><circle cx="785.7" cy="292.7" r="3.5"/><circle cx="863.8" cy="316.2" r="3.5"/><circle cx="783.8" cy="322.4" r="3.5"/><circle cx="853.6" cy="317.8" r="3.5"/><circle cx="701.0" cy="304.4" r="3.5"/><circle cx="812.7" cy="250.2" r="3.5"/><circle cx="783.1" cy="289.6" r="3.5"/><circle cx="811.4" cy="224.7" r="3.5"/><circle cx="818.4" cy="304.4" r="3.5"/><circle cx="841.4" cy="222.5" r="3.5"/><circle cx="818.3" cy="267.9" r="3.5"/><circle cx="868.9" cy="239.7" r="3.5"/><circle cx="754.5" cy="285.2" r="3.5"/><circle cx="813.0" cy="282.4" r="3.5"/><circle cx="847.6" cy="316.5" r="3.5"/><circle cx="663.4" cy="323.2" r="3.5"/><circle cx="849.7" cy="312.4" r="3.5"/><circle cx="853.1" cy="316.8" r="3.5"/><circle cx="856.0" cy="301.6" r="3.5"/><circle cx="733.5" cy="262.3" r="3.5"/><circle cx="770.7" cy="297.4" r="3.5"/><circle cx="854.1" cy="277.2" r="3.5"/><circle cx="687.4" cy="323.8" r="3.5"/><circle cx="698.9" cy="288.5" r="3.5"/><circle cx="728.7" cy="308.6" r="3.5"/><circle cx="758.7" cy="270.3" r="3.5"/><circle cx="857.0" cy="287.2" r="3.5"/><circle cx="800.7" cy="304.0" r="3.5"/><circle cx="830.2" cy="291.8" r="3.5"/><circle cx="763.3" cy="251.5" r="3.5"/><circle cx="858.0" cy="328.1" r="3.5"/><circle cx="686.2" cy="322.3" r="3.5"/><circle cx="769.4" cy="243.7" r="3.5"/><circle cx="854.5" cy="298.6" r="3.5"/><circle cx="795.2" cy="323.7" r="3.5"/><circle cx="817.9" cy="325.6" r="3.5"/><circle cx="817.5" cy="323.7" r="3.5"/><circle cx="788.5" cy="235.3" r="3.5"/><circle cx="714.3" cy="289.6" r="3.5"/><circle cx="786.3" cy="315.1" r="3.5"/><circle cx="768.6" cy="301.5" r="3.5"/><circle cx="793.4" cy="254.0" r="3.5"/><circle cx="805.0" cy="272.1" r="3.5"/><circle cx="682.0" cy="283.7" r="3.5"/><circle cx="676.7" cy="323.8" r="3.5"/><circle cx="711.6" cy="316.6" r="3.5"/><circle cx="807.3" cy="275.2" r="3.5"/><circle cx="854.6" cy="291.4" r="3.5"/><circle cx="862.1" cy="299.4" r="3.5"/><circle cx="668.1" cy="316.2" r="3.5"/><circle cx="758.4" cy="289.6" r="3.5"/><circle cx="807.9" cy="255.0" r="3.5"/><circle cx="733.7" cy="290.6" r="3.5"/><circle cx="844.5" cy="274.7" r="3.5"/><circle cx="859.6" cy="275.5" r="3.5"/><circle cx="859.4" cy="243.6" r="3.5"/><circle cx="863.2" cy="216.5" r="3.5"/><circle cx="715.7" cy="312.9" r="3.5"/><circle cx="725.2" cy="253.4" r="3.5"/><circle cx="719.8" cy="325.2" r="3.5"/><circle cx="832.2" cy="226.2" r="3.5"/><circle cx="792.8" cy="307.2" r="3.5"/><circle cx="828.6" cy="298.5" r="3.5"/><circle cx="853.8" cy="295.9" r="3.5"/><circle cx="788.3" cy="306.9" r="3.5"/><circle cx="859.1" cy="242.7" r="3.5"/><circle cx="738.8" cy="296.8" r="3.5"/><circle cx="678.3" cy="285.6" r="3.5"/><circle cx="708.0" cy="305.1" r="3.5"/><circle cx="861.8" cy="269.1" r="3.5"/><circle cx="826.8" cy="289.1" r="3.5"/><circle cx="867.5" cy="301.3" r="3.5"/><circle cx="759.7" cy="314.6" r="3.5"/><circle cx="858.6" cy="269.4" r="3.5"/><circle cx="777.2" cy="324.7" r="3.5"/><circle cx="708.2" cy="279.6" r="3.5"/><circle cx="690.8" cy="285.2" r="3.5"/><circle cx="747.2" cy="250.3" r="3.5"/><circle cx="829.0" cy="269.9" r="3.5"/><circle cx="856.0" cy="260.7" r="3.5"/><circle cx="792.3" cy="249.4" r="3.5"/><circle cx="679.3" cy="279.9" r="3.5"/><circle cx="767.9" cy="267.8" r="3.5"/><circle cx="865.6" cy="309.6" r="3.5"/><circle cx="669.8" cy="300.8" r="3.5"/><circle cx="867.5" cy="329.3" r="3.5"/><circle cx="795.2" cy="269.2" r="3.5"/><circle cx="758.7" cy="306.7" r="3.5"/><circle cx="751.1" cy="282.2" r="3.5"/><circle cx="758.1" cy="301.3" r="3.5"/><circle cx="709.9" cy="278.9" r="3.5"/><circle cx="817.8" cy="280.8" r="3.5"/><circle cx="791.8" cy="249.2" r="3.5"/><circle cx="831.7" cy="305.8" r="3.5"/><circle cx="712.5" cy="265.7" r="3.5"/><circle cx="787.7" cy="310.6" r="3.5"/><circle cx="823.8" cy="250.5" r="3.5"/><circle cx="843.3" cy="251.0" r="3.5"/><circle cx="674.4" cy="294.4" r="3.5"/><circle cx="836.7" cy="239.0" r="3.5"/><circle cx="862.6" cy="320.7" r="3.5"/><circle cx="766.3" cy="238.5" r="3.5"/><circle cx="837.9" cy="284.9" r="3.5"/><circle cx="732.8" cy="258.7" r="3.5"/><circle cx="859.8" cy="258.1" r="3.5"/><circle cx="815.4" cy="311.6" r="3.5"/><circle cx="843.6" cy="319.7" r="3.5"/><circle cx="822.3" cy="292.7" r="3.5"/><circle cx="789.2" cy="301.1" r="3.5"/><circle cx="691.7" cy="285.0" r="3.5"/><circle cx="786.0" cy="319.1" r="3.5"/><circle cx="797.4" cy="320.1" r="3.5"/><circle cx="745.3" cy="253.9" r="3.5"/><circle cx="809.4" cy="233.5" r="3.5"/><circle cx="831.9" cy="288.4" r="3.5"/><circle cx="830.7" cy="282.8" r="3.5"/><circle cx="731.8" cy="289.7" r="3.5"/><circle cx="869.6" cy="276.1" r="3.5"/><circle cx="720.9" cy="326.0" r="3.5"/><circle cx="832.8" cy="305.9" r="3.5"/><circle cx="869.1" cy="264.9" r="3.5"/><circle cx="826.8" cy="248.4" r="3.5"/><circle cx="788.8" cy="284.8" r="3.5"/><circle cx="795.4" cy="234.4" r="3.5"/><circle cx="796.8" cy="308.7" r="3.5"/><circle cx="869.3" cy="239.3" r="3.5"/><circle cx="804.9" cy="294.3" r="3.5"/><circle cx="774.2" cy="263.3" r="3.5"/><circle cx="765.2" cy="291.0" r="3.5"/><circle cx="856.6" cy="314.4" r="3.5"/><circle cx="713.3" cy="306.2" r="3.5"/><circle cx="732.0" cy="322.5" r="3.5"/><circle cx="806.5" cy="295.1" r="3.5"/><circle cx="708.7" cy="319.2" r="3.5"/><circle cx="847.0" cy="297.5" r="3.5"/><circle cx="733.2" cy="305.9" r="3.5"/><circle cx="787.0" cy="266.6" r="3.5"/><circle cx="704.9" cy="327.0" r="3.5"/><circle cx="745.6" cy="247.8" r="3.5"/><circle cx="775.6" cy="285.6" r="3.5"/><circle cx="864.1" cy="309.0" r="3.5"/><circle cx="821.2" cy="273.1" r="3.5"/><circle cx="854.0" cy="214.4" r="3.5"/><circle cx="716.2" cy="295.4" r="3.5"/><circle cx="839.4" cy="309.7" r="3.5"/><circle cx="755.8" cy="286.4" r="3.5"/><circle cx="732.0" cy="252.1" r="3.5"/><circle cx="834.0" cy="275.2" r="3.5"/><circle cx="782.9" cy="293.4" r="3.5"/><circle cx="823.9" cy="309.3" r="3.5"/><circle cx="852.4" cy="260.8" r="3.5"/><circle cx="719.8" cy="299.7" r="3.5"/><circle cx="863.6" cy="244.3" r="3.5"/><circle cx="710.1" cy="303.4" r="3.5"/><circle cx="865.1" cy="283.6" r="3.5"/><circle cx="677.4" cy="314.3" r="3.5"/><circle cx="858.2" cy="241.3" r="3.5"/><circle cx="729.4" cy="276.2" r="3.5"/><circle cx="694.9" cy="328.3" r="3.5"/><circle cx="830.7" cy="267.3" r="3.5"/><circle cx="854.4" cy="270.0" r="3.5"/><circle cx="832.7" cy="286.7" r="3.5"/><circle cx="715.0" cy="323.7" r="3.5"/><circle cx="812.7" cy="265.5" r="3.5"/><circle cx="798.9" cy="300.1" r="3.5"/><circle cx="811.4" cy="301.3" r="3.5"/><circle cx="679.6" cy="321.9" r="3.5"/><circle cx="725.5" cy="311.8" r="3.5"/><circle cx="686.8" cy="289.9" r="3.5"/><circle cx="853.7" cy="259.2" r="3.5"/><circle cx="752.4" cy="291.2" r="3.5"/><circle cx="801.9" cy="268.8" r="3.5"/><circle cx="800.6" cy="264.7" r="3.5"/><circle cx="806.2" cy="329.2" r="3.5"/><circle cx="807.8" cy="278.8" r="3.5"/><circle cx="768.3" cy="275.5" r="3.5"/><circle cx="711.3" cy="307.5" r="3.5"/><circle cx="843.7" cy="294.0" r="3.5"/><circle cx="846.2" cy="289.1" r="3.5"/><circle cx="829.2" cy="276.0" r="3.5"/><circle cx="842.0" cy="293.9" r="3.5"/><circle cx="788.9" cy="277.3" r="3.5"/><circle cx="711.3" cy="286.7" r="3.5"/><circle cx="682.4" cy="316.0" r="3.5"/><circle cx="661.6" cy="315.5" r="3.5"/><circle cx="856.7" cy="313.7" r="3.5"/><circle cx="685.4" cy="327.9" r="3.5"/><circle cx="859.4" cy="291.1" r="3.5"/><circle cx="718.0" cy="309.9" r="3.5"/><circle cx="868.4" cy="222.9" r="3.5"/><circle cx="818.7" cy="323.9" r="3.5"/><circle cx="778.5" cy="323.9" r="3.5"/><circle cx="665.8" cy="322.4" r="3.5"/><circle cx="832.7" cy="239.0" r="3.5"/><circle cx="868.7" cy="315.8" r="3.5"/><circle cx="815.2" cy="308.0" r="3.5"/><circle cx="780.9" cy="309.2" r="3.5"/><circle cx="722.4" cy="282.8" r="3.5"/><circle cx="661.4" cy="306.0" r="3.5"/><circle cx="824.8" cy="306.4" r="3.5"/><circle cx="799.2" cy="301.1" r="3.5"/><circle cx="739.5" cy="287.1" r="3.5"/><circle cx="744.6" cy="275.1" r="3.5"/><circle cx="696.4" cy="326.6" r="3.5"/><circle cx="675.4" cy="326.2" r="3.5"/><circle cx="821.8" cy="284.2" r="3.5"/><circle cx="838.8" cy="261.5" r="3.5"/><circle cx="813.5" cy="286.6" r="3.5"/><circle cx="674.0" cy="324.4" r="3.5"/><circle cx="741.2" cy="316.2" r="3.5"/><circle cx="844.0" cy="287.1" r="3.5"/><circle cx="696.0" cy="306.1" r="3.5"/><circle cx="794.1" cy="233.3" r="3.5"/><circle cx="791.5" cy="249.2" r="3.5"/><circle cx="860.0" cy="297.0" r="3.5"/><circle cx="855.7" cy="262.0" r="3.5"/><circle cx="796.6" cy="290.6" r="3.5"/><circle cx="813.5" cy="246.7" r="3.5"/><circle cx="694.4" cy="317.0" r="3.5"/><circle cx="858.8" cy="279.2" r="3.5"/><circle cx="802.5" cy="262.5" r="3.5"/><circle cx="675.8" cy="290.5" r="3.5"/><circle cx="767.3" cy="323.1" r="3.5"/><circle cx="793.6" cy="289.4" r="3.5"/><circle cx="812.9" cy="242.4" r="3.5"/><circle cx="847.0" cy="251.8" r="3.5"/><circle cx="793.9" cy="291.1" r="3.5"/><circle cx="826.1" cy="288.7" r="3.5"/><circle cx="788.9" cy="262.4" r="3.5"/><circle cx="803.3" cy="276.9" r="3.5"/><circle cx="700.2" cy="328.7" r="3.5"/><circle cx="759.1" cy="320.1" r="3.5"/><circle cx="719.8" cy="263.6" r="3.5"/><circle cx="845.1" cy="274.1" r="3.5"/><circle cx="824.4" cy="251.6" r="3.5"/><circle cx="869.9" cy="292.6" r="3.5"/><circle cx="682.5" cy="275.6" r="3.5"/><circle cx="792.2" cy="269.5" r="3.5"/><circle cx="823.3" cy="312.8" r="3.5"/><circle cx="852.6" cy="268.5" r="3.5"/><circle cx="671.0" cy="315.1" r="3.5"/><circle cx="811.7" cy="273.0" r="3.5"/><circle cx="671.5" cy="278.7" r="3.5"/><circle cx="705.6" cy="298.5" r="3.5"/><circle cx="743.8" cy="268.7" r="3.5"/><circle cx="808.6" cy="330.0" r="3.5"/><circle cx="788.1" cy="286.7" r="3.5"/><circle cx="745.7" cy="318.5" r="3.5"/><circle cx="812.5" cy="238.6" r="3.5"/><circle cx="676.9" cy="316.6" r="3.5"/><circle cx="795.7" cy="325.8" r="3.5"/><circle cx="837.5" cy="273.5" r="3.5"/><circle cx="851.5" cy="250.2" r="3.5"/><circle cx="688.6" cy="324.4" r="3.5"/><circle cx="780.9" cy="284.0" r="3.5"/><circle cx="716.3" cy="291.2" r="3.5"/><circle cx="754.4" cy="291.1" r="3.5"/><circle cx="805.5" cy="274.5" r="3.5"/><circle cx="681.3" cy="288.1" r="3.5"/><circle cx="707.9" cy="308.6" r="3.5"/><circle cx="727.9" cy="252.8" r="3.5"/><circle cx="686.5" cy="273.6" r="3.5"/><circle cx="712.6" cy="291.7" r="3.5"/><circle cx="701.4" cy="328.9" r="3.5"/><circle cx="792.2" cy="254.8" r="3.5"/><circle cx="857.0" cy="309.1" r="3.5"/><circle cx="861.4" cy="260.8" r="3.5"/><circle cx="847.7" cy="321.0" r="3.5"/><circle cx="719.2" cy="311.8" r="3.5"/><circle cx="799.7" cy="231.5" r="3.5"/><circle cx="801.4" cy="259.0" r="3.5"/><circle cx="728.9" cy="326.3" r="3.5"/><circle cx="688.6" cy="328.9" r="3.5"/><circle cx="832.8" cy="287.4" r="3.5"/><circle cx="844.1" cy="293.1" r="3.5"/><circle cx="826.1" cy="319.9" r="3.5"/><circle cx="863.4" cy="227.9" r="3.5"/><circle cx="853.1" cy="227.5" r="3.5"/><circle cx="775.9" cy="319.9" r="3.5"/><circle cx="701.6" cy="294.0" r="3.5"/><circle cx="669.1" cy="320.5" r="3.5"/><circle cx="867.1" cy="266.0" r="3.5"/><circle cx="796.8" cy="317.8" r="3.5"/><circle cx="794.1" cy="280.8" r="3.5"/><circle cx="746.8" cy="290.9" r="3.5"/><circle cx="819.7" cy="325.9" r="3.5"/><circle cx="866.5" cy="328.6" r="3.5"/><circle cx="851.2" cy="346.6" r="3.5"/><circle cx="728.4" cy="315.9" r="3.5"/><circle cx="679.8" cy="315.5" r="3.5"/><circle cx="855.9" cy="355.7" r="3.5"/><circle cx="761.7" cy="302.8" r="3.5"/><circle cx="831.4" cy="348.7" r="3.5"/><circle cx="847.2" cy="341.0" r="3.5"/><circle cx="710.1" cy="328.1" r="3.5"/><circle cx="820.0" cy="314.7" r="3.5"/><circle cx="742.2" cy="334.7" r="3.5"/><circle cx="870.0" cy="306.6" r="3.5"/><circle cx="760.9" cy="322.9" r="3.5"/><circle cx="763.5" cy="352.8" r="3.5"/><circle cx="782.2" cy="353.4" r="3.5"/><circle cx="717.6" cy="316.7" r="3.5"/><circle cx="543.3" cy="352.1" r="3.5"/><circle cx="701.2" cy="337.6" r="3.5"/><circle cx="630.5" cy="354.0" r="3.5"/><circle cx="811.3" cy="310.5" r="3.5"/><circle cx="640.3" cy="355.5" r="3.5"/><circle cx="640.8" cy="327.2" r="3.5"/><circle cx="852.7" cy="295.8" r="3.5"/><circle cx="761.9" cy="300.5" r="3.5"/><circle cx="659.4" cy="337.5" r="3.5"/><circle cx="841.3" cy="315.1" r="3.5"/><circle cx="807.8" cy="309.3" r="3.5"/><circle cx="859.8" cy="305.7" r="3.5"/><circle cx="867.6" cy="302.4" r="3.5"/><circle cx="703.9" cy="348.7" r="3.5"/><circle cx="740.3" cy="306.8" r="3.5"/><circle cx="763.7" cy="334.8" r="3.5"/><circle cx="717.1" cy="314.6" r="3.5"/><circle cx="819.9" cy="314.6" r="3.5"/><circle cx="771.6" cy="344.8" r="3.5"/><circle cx="759.6" cy="337.0" r="3.5"/><circle cx="806.4" cy="344.2" r="3.5"/><circle cx="813.7" cy="300.3" r="3.5"/><circle cx="743.9" cy="331.2" r="3.5"/><circle cx="700.3" cy="313.6" r="3.5"/><circle cx="647.2" cy="340.9" r="3.5"/><circle cx="655.3" cy="335.3" r="3.5"/><circle cx="795.0" cy="317.6" r="3.5"/><circle cx="688.1" cy="350.2" r="3.5"/><circle cx="642.4" cy="314.3" r="3.5"/><circle cx="801.3" cy="348.1" r="3.5"/><circle cx="849.5" cy="303.5" r="3.5"/><circle cx="808.4" cy="330.9" r="3.5"/><circle cx="819.1" cy="344.7" r="3.5"/><circle cx="847.2" cy="343.8" r="3.5"/><circle cx="624.5" cy="343.5" r="3.5"/><circle cx="742.9" cy="298.3" r="3.5"/><circle cx="781.9" cy="327.7" r="3.5"/><circle cx="693.3" cy="332.8" r="3.5"/><circle cx="866.4" cy="321.3" r="3.5"/><circle cx="754.4" cy="299.0" r="3.5"/><circle cx="718.9" cy="347.7" r="3.5"/><circle cx="777.2" cy="320.0" r="3.5"/><circle cx="739.7" cy="344.0" r="3.5"/><circle cx="855.7" cy="316.7" r="3.5"/><circle cx="682.2" cy="347.1" r="3.5"/><circle cx="784.0" cy="302.7" r="3.5"/><circle cx="715.7" cy="333.9" r="3.5"/><circle cx="732.6" cy="340.6" r="3.5"/><circle cx="798.4" cy="339.0" r="3.5"/><circle cx="744.5" cy="343.9" r="3.5"/><circle cx="763.3" cy="308.9" r="3.5"/><circle cx="605.8" cy="353.3" r="3.5"/><circle cx="778.7" cy="310.1" r="3.5"/><circle cx="793.8" cy="338.2" r="3.5"/><circle cx="839.2" cy="308.5" r="3.5"/><circle cx="762.3" cy="321.4" r="3.5"/><circle cx="849.3" cy="335.1" r="3.5"/><circle cx="737.3" cy="333.4" r="3.5"/><circle cx="703.6" cy="353.9" r="3.5"/><circle cx="779.1" cy="294.5" r="3.5"/><circle cx="739.0" cy="346.4" r="3.5"/><circle cx="607.5" cy="349.5" r="3.5"/><circle cx="815.0" cy="317.9" r="3.5"/><circle cx="751.8" cy="317.3" r="3.5"/><circle cx="819.4" cy="351.8" r="3.5"/><circle cx="676.1" cy="344.0" r="3.5"/><circle cx="643.8" cy="353.1" r="3.5"/><circle cx="684.2" cy="343.7" r="3.5"/><circle cx="850.6" cy="312.8" r="3.5"/><circle cx="853.1" cy="305.2" r="3.5"/><circle cx="802.6" cy="311.1" r="3.5"/><circle cx="793.8" cy="330.0" r="3.5"/><circle cx="626.6" cy="345.6" r="3.5"/><circle cx="819.0" cy="326.9" r="3.5"/><circle cx="858.1" cy="318.4" r="3.5"/><circle cx="661.1" cy="342.5" r="3.5"/><circle cx="720.3" cy="355.2" r="3.5"/><circle cx="581.9" cy="345.8" r="3.5"/><circle cx="781.8" cy="335.6" r="3.5"/><circle cx="726.8" cy="316.9" r="3.5"/><circle cx="606.8" cy="332.3" r="3.5"/><circle cx="592.5" cy="350.9" r="3.5"/><circle cx="770.8" cy="297.8" r="3.5"/><circle cx="614.6" cy="331.7" r="3.5"/><circle cx="727.6" cy="307.8" r="3.5"/><circle cx="740.9" cy="303.5" r="3.5"/><circle cx="594.1" cy="352.4" r="3.5"/><circle cx="777.9" cy="292.7" r="3.5"/><circle cx="705.7" cy="348.5" r="3.5"/><circle cx="829.5" cy="352.3" r="3.5"/><circle cx="644.0" cy="340.9" r="3.5"/><circle cx="805.3" cy="290.6" r="3.5"/><circle cx="713.5" cy="327.9" r="3.5"/><circle cx="859.7" cy="332.7" r="3.5"/><circle cx="705.7" cy="348.4" r="3.5"/><circle cx="866.1" cy="313.1" r="3.5"/><circle cx="584.3" cy="354.0" r="3.5"/><circle cx="784.5" cy="337.7" r="3.5"/><circle cx="843.0" cy="333.6" r="3.5"/><circle cx="805.7" cy="303.2" r="3.5"/><circle cx="792.6" cy="348.4" r="3.5"/><circle cx="738.0" cy="330.2" r="3.5"/><circle cx="776.2" cy="339.2" r="3.5"/><circle cx="666.6" cy="324.7" r="3.5"/><circle cx="758.5" cy="329.7" r="3.5"/><circle cx="748.0" cy="302.9" r="3.5"/><circle cx="629.1" cy="326.0" r="3.5"/><circle cx="626.8" cy="319.8" r="3.5"/><circle cx="761.6" cy="348.9" r="3.5"/><circle cx="635.9" cy="340.9" r="3.5"/><circle cx="744.5" cy="316.0" r="3.5"/><circle cx="847.0" cy="309.9" r="3.5"/><circle cx="845.8" cy="343.6" r="3.5"/><circle cx="771.0" cy="336.9" r="3.5"/><circle cx="824.0" cy="334.1" r="3.5"/><circle cx="817.0" cy="332.5" r="3.5"/><circle cx="744.8" cy="339.4" r="3.5"/><circle cx="840.8" cy="333.6" r="3.5"/><circle cx="811.8" cy="354.6" r="3.5"/><circle cx="687.1" cy="348.7" r="3.5"/><circle cx="840.7" cy="342.5" r="3.5"/><circle cx="771.9" cy="354.2" r="3.5"/><circle cx="716.5" cy="328.7" r="3.5"/><circle cx="792.5" cy="313.3" r="3.5"/><circle cx="763.5" cy="349.5" r="3.5"/><circle cx="717.3" cy="352.0" r="3.5"/><circle cx="838.2" cy="306.1" r="3.5"/><circle cx="815.5" cy="294.8" r="3.5"/><circle cx="795.8" cy="307.8" r="3.5"/><circle cx="646.9" cy="333.5" r="3.5"/><circle cx="755.7" cy="307.8" r="3.5"/><circle cx="814.0" cy="325.7" r="3.5"/><circle cx="600.0" cy="330.1" r="3.5"/><circle cx="665.8" cy="324.8" r="3.5"/><circle cx="679.8" cy="307.8" r="3.5"/><circle cx="757.6" cy="336.8" r="3.5"/><circle cx="651.7" cy="321.8" r="3.5"/><circle cx="774.8" cy="325.4" r="3.5"/><circle cx="751.3" cy="313.4" r="3.5"/><circle cx="769.1" cy="353.4" r="3.5"/><circle cx="718.5" cy="318.2" r="3.5"/><circle cx="588.1" cy="352.9" r="3.5"/><circle cx="820.3" cy="319.3" r="3.5"/><circle cx="657.2" cy="331.2" r="3.5"/><circle cx="833.6" cy="309.0" r="3.5"/><circle cx="780.2" cy="330.3" r="3.5"/><circle cx="633.8" cy="327.6" r="3.5"/><circle cx="725.0" cy="310.0" r="3.5"/></g><g fill="#1f77b4" fill-opacity="0.32" stroke="#1f77b4" stroke-opacity="0.32" stroke-width="2.6"><circle cx="648.3" cy="300.0" r="3.5"/><circle cx="670.0" cy="306.7" r="3.5"/><circle cx="676.7" cy="308.3" r="3.5"/><circle cx="618.3" cy="309.2" r="3.5"/><circle cx="625.0" cy="308.3" r="3.5"/><circle cx="633.3" cy="307.5" r="3.5"/><circle cx="585.0" cy="329.2" r="3.5"/><circle cx="605.0" cy="330.0" r="3.5"/><circle cx="615.0" cy="320.0" r="3.5"/><circle cx="628.3" cy="321.7" r="3.5"/><circle cx="567.5" cy="340.0" r="3.5"/><circle cx="620.0" cy="326.7" r="3.5"/><circle cx="623.3" cy="333.3" r="3.5"/><circle cx="636.7" cy="328.3" r="3.5"/><circle cx="646.7" cy="323.3" r="3.5"/><circle cx="653.3" cy="313.3" r="3.5"/><circle cx="658.3" cy="320.0" r="3.5"/><circle cx="666.7" cy="326.7" r="3.5"/><circle cx="673.3" cy="330.0" r="3.5"/><circle cx="613.3" cy="343.3" r="3.5"/><circle cx="623.3" cy="340.0" r="3.5"/><circle cx="633.3" cy="341.7" r="3.5"/><circle cx="640.0" cy="336.7" r="3.5"/><circle cx="650.0" cy="336.7" r="3.5"/><circle cx="656.7" cy="343.3" r="3.5"/><circle cx="665.0" cy="340.0" r="3.5"/><circle cx="675.0" cy="336.7" r="3.5"/><circle cx="670.0" cy="346.7" r="3.5"/><circle cx="603.3" cy="348.3" r="3.5"/><circle cx="590.0" cy="350.0" r="3.5"/><circle cx="575.0" cy="350.0" r="3.5"/><circle cx="636.7" cy="350.0" r="3.5"/><circle cx="646.7" cy="350.0" r="3.5"/><circle cx="680.0" cy="343.3" r="3.5"/><circle cx="717.0" cy="354.0" r="3.5"/><circle cx="813.7" cy="327.0" r="3.5"/><circle cx="628.1" cy="351.2" r="3.5"/><circle cx="596.5" cy="335.4" r="3.5"/><circle cx="818.1" cy="339.0" r="3.5"/><circle cx="670.6" cy="349.5" r="3.5"/><circle cx="621.4" cy="322.7" r="3.5"/><circle cx="854.8" cy="346.6" r="3.5"/><circle cx="638.5" cy="328.6" r="3.5"/><circle cx="791.6" cy="321.0" r="3.5"/><circle cx="846.6" cy="346.8" r="3.5"/><circle cx="791.0" cy="338.2" r="3.5"/><circle cx="754.5" cy="313.3" r="3.5"/><circle cx="864.8" cy="287.5" r="3.5"/><circle cx="824.4" cy="298.9" r="3.5"/><circle cx="844.7" cy="313.7" r="3.5"/><circle cx="859.8" cy="350.4" r="3.5"/><circle cx="627.5" cy="339.6" r="3.5"/><circle cx="731.1" cy="321.2" r="3.5"/><circle cx="732.8" cy="318.2" r="3.5"/><circle cx="857.1" cy="286.1" r="3.5"/><circle cx="607.4" cy="334.4" r="3.5"/><circle cx="868.7" cy="285.6" r="3.5"/><circle cx="848.0" cy="346.9" r="3.5"/><circle cx="741.9" cy="355.0" r="3.5"/><circle cx="722.1" cy="312.5" r="3.5"/><circle cx="824.0" cy="348.3" r="3.5"/><circle cx="823.3" cy="296.9" r="3.5"/><circle cx="640.7" cy="340.4" r="3.5"/><circle cx="859.1" cy="301.2" r="3.5"/><circle cx="863.8" cy="320.8" r="3.5"/><circle cx="860.2" cy="293.6" r="3.5"/><circle cx="643.5" cy="326.1" r="3.5"/><circle cx="777.4" cy="336.4" r="3.5"/><circle cx="643.6" cy="344.4" r="3.5"/><circle cx="850.3" cy="331.5" r="3.5"/><circle cx="639.3" cy="321.6" r="3.5"/><circle cx="681.9" cy="324.1" r="3.5"/><circle cx="837.4" cy="340.5" r="3.5"/><circle cx="787.9" cy="331.1" r="3.5"/><circle cx="856.1" cy="319.4" r="3.5"/><circle cx="720.8" cy="348.2" r="3.5"/><circle cx="792.7" cy="319.6" r="3.5"/><circle cx="645.5" cy="321.1" r="3.5"/><circle cx="769.0" cy="333.7" r="3.5"/><circle cx="719.1" cy="311.6" r="3.5"/><circle cx="792.6" cy="308.9" r="3.5"/><circle cx="788.6" cy="344.9" r="3.5"/><circle cx="786.7" cy="321.5" r="3.5"/><circle cx="650.9" cy="331.6" r="3.5"/><circle cx="665.1" cy="337.2" r="3.5"/><circle cx="755.1" cy="337.3" r="3.5"/><circle cx="858.4" cy="288.2" r="3.5"/><circle cx="798.3" cy="306.4" r="3.5"/><circle cx="749.7" cy="343.0" r="3.5"/><circle cx="568.6" cy="347.0" r="3.5"/><circle cx="652.3" cy="346.9" r="3.5"/><circle cx="702.0" cy="340.3" r="3.5"/><circle cx="768.3" cy="303.3" r="3.5"/><circle cx="715.2" cy="312.3" r="3.5"/><circle cx="771.9" cy="300.6" r="3.5"/><circle cx="791.5" cy="294.1" r="3.5"/><circle cx="779.1" cy="354.2" r="3.5"/><circle cx="729.4" cy="315.7" r="3.5"/><circle cx="740.1" cy="340.1" r="3.5"/><circle cx="641.5" cy="336.9" r="3.5"/><circle cx="851.1" cy="318.0" r="3.5"/><circle cx="695.3" cy="329.5" r="3.5"/><circle cx="733.2" cy="328.2" r="3.5"/><circle cx="823.1" cy="305.1" r="3.5"/><circle cx="851.9" cy="341.8" r="3.5"/><circle cx="757.0" cy="321.2" r="3.5"/><circle cx="740.9" cy="298.2" r="3.5"/><circle cx="704.5" cy="334.5" r="3.5"/><circle cx="815.5" cy="354.5" r="3.5"/><circle cx="825.1" cy="301.0" r="3.5"/><circle cx="848.3" cy="318.6" r="3.5"/><circle cx="653.9" cy="321.9" r="3.5"/><circle cx="863.7" cy="317.6" r="3.5"/><circle cx="734.8" cy="346.1" r="3.5"/><circle cx="713.6" cy="314.7" r="3.5"/><circle cx="821.1" cy="344.8" r="3.5"/><circle cx="843.9" cy="355.8" r="3.5"/><circle cx="686.4" cy="332.7" r="3.5"/><circle cx="802.7" cy="302.3" r="3.5"/><circle cx="715.3" cy="323.0" r="3.5"/><circle cx="619.5" cy="349.4" r="3.5"/><circle cx="805.5" cy="348.5" r="3.5"/><circle cx="747.3" cy="348.7" r="3.5"/><circle cx="685.5" cy="324.0" r="3.5"/><circle cx="637.4" cy="336.8" r="3.5"/><circle cx="814.1" cy="299.5" r="3.5"/><circle cx="806.1" cy="336.7" r="3.5"/><circle cx="805.5" cy="307.8" r="3.5"/><circle cx="732.9" cy="342.5" r="3.5"/><circle cx="725.3" cy="349.6" r="3.5"/><circle cx="811.9" cy="349.1" r="3.5"/><circle cx="586.1" cy="351.9" r="3.5"/><circle cx="572.1" cy="347.4" r="3.5"/><circle cx="761.3" cy="336.5" r="3.5"/><circle cx="686.3" cy="352.2" r="3.5"/><circle cx="766.3" cy="321.4" r="3.5"/><circle cx="611.3" cy="346.1" r="3.5"/><circle cx="597.6" cy="330.2" r="3.5"/><circle cx="800.7" cy="298.1" r="3.5"/><circle cx="786.1" cy="316.2" r="3.5"/><circle cx="712.1" cy="314.8" r="3.5"/><circle cx="698.1" cy="310.5" r="3.5"/><circle cx="840.2" cy="285.6" r="3.5"/><circle cx="715.1" cy="314.5" r="3.5"/><circle cx="777.9" cy="296.3" r="3.5"/><circle cx="562.2" cy="343.2" r="3.5"/><circle cx="783.8" cy="341.7" r="3.5"/><circle cx="725.3" cy="305.1" r="3.5"/><circle cx="859.6" cy="325.6" r="3.5"/><circle cx="610.2" cy="329.9" r="3.5"/><circle cx="819.0" cy="307.9" r="3.5"/><circle cx="827.1" cy="323.0" r="3.5"/><circle cx="662.1" cy="334.8" r="3.5"/><circle cx="763.9" cy="317.0" r="3.5"/><circle cx="670.4" cy="325.5" r="3.5"/><circle cx="705.1" cy="343.3" r="3.5"/><circle cx="844.0" cy="345.5" r="3.5"/><circle cx="774.1" cy="311.7" r="3.5"/><circle cx="738.8" cy="337.8" r="3.5"/><circle cx="746.1" cy="345.7" r="3.5"/><circle cx="743.0" cy="318.5" r="3.5"/><circle cx="755.1" cy="304.4" r="3.5"/><circle cx="653.3" cy="334.3" r="3.5"/><circle cx="737.3" cy="340.0" r="3.5"/><circle cx="650.0" cy="324.3" r="3.5"/><circle cx="859.3" cy="333.1" r="3.5"/><circle cx="766.2" cy="320.0" r="3.5"/><circle cx="610.7" cy="352.0" r="3.5"/><circle cx="807.0" cy="292.6" r="3.5"/><circle cx="763.2" cy="298.1" r="3.5"/><circle cx="787.0" cy="314.1" r="3.5"/><circle cx="806.8" cy="315.6" r="3.5"/><circle cx="852.6" cy="354.8" r="3.5"/><circle cx="809.6" cy="340.9" r="3.5"/><circle cx="751.6" cy="346.4" r="3.5"/><circle cx="630.0" cy="348.8" r="3.5"/><circle cx="852.3" cy="296.9" r="3.5"/><circle cx="617.8" cy="355.6" r="3.5"/><circle cx="568.3" cy="354.1" r="3.5"/><circle cx="707.4" cy="355.1" r="3.5"/><circle cx="695.1" cy="328.3" r="3.5"/><circle cx="825.7" cy="305.2" r="3.5"/><circle cx="833.5" cy="336.5" r="3.5"/><circle cx="711.4" cy="340.9" r="3.5"/><circle cx="738.8" cy="342.5" r="3.5"/><circle cx="738.9" cy="312.4" r="3.5"/><circle cx="804.4" cy="331.6" r="3.5"/><circle cx="740.5" cy="339.4" r="3.5"/><circle cx="796.9" cy="307.8" r="3.5"/><circle cx="739.7" cy="331.6" r="3.5"/><circle cx="791.8" cy="323.6" r="3.5"/><circle cx="704.7" cy="309.4" r="3.5"/><circle cx="634.2" cy="349.7" r="3.5"/><circle cx="821.4" cy="314.4" r="3.5"/><circle cx="846.0" cy="328.5" r="3.5"/><circle cx="661.7" cy="341.1" r="3.5"/><circle cx="682.8" cy="349.2" r="3.5"/><circle cx="819.2" cy="299.0" r="3.5"/><circle cx="730.3" cy="329.5" r="3.5"/><circle cx="750.9" cy="317.9" r="3.5"/><circle cx="685.1" cy="316.8" r="3.5"/><circle cx="861.9" cy="289.9" r="3.5"/><circle cx="645.3" cy="315.5" r="3.5"/><circle cx="643.2" cy="338.0" r="3.5"/><circle cx="706.8" cy="353.5" r="3.5"/><circle cx="789.1" cy="295.1" r="3.5"/><circle cx="696.3" cy="314.7" r="3.5"/><circle cx="550.4" cy="352.1" r="3.5"/><circle cx="777.9" cy="328.9" r="3.5"/><circle cx="614.2" cy="353.9" r="3.5"/><circle cx="608.4" cy="333.6" r="3.5"/><circle cx="848.1" cy="340.5" r="3.5"/><circle cx="855.0" cy="341.2" r="3.5"/><circle cx="775.7" cy="306.3" r="3.5"/><circle cx="847.9" cy="332.9" r="3.5"/><circle cx="715.2" cy="328.5" r="3.5"/><circle cx="674.3" cy="351.1" r="3.5"/><circle cx="857.5" cy="350.4" r="3.5"/><circle cx="633.9" cy="355.2" r="3.5"/><circle cx="849.7" cy="344.7" r="3.5"/><circle cx="801.0" cy="323.2" r="3.5"/><circle cx="822.5" cy="348.2" r="3.5"/><circle cx="854.8" cy="302.9" r="3.5"/><circle cx="755.7" cy="332.7" r="3.5"/><circle cx="835.4" cy="333.5" r="3.5"/><circle cx="842.3" cy="302.4" r="3.5"/><circle cx="739.9" cy="311.6" r="3.5"/><circle cx="717.4" cy="330.5" r="3.5"/><circle cx="789.1" cy="346.4" r="3.5"/><circle cx="806.9" cy="314.5" r="3.5"/><circle cx="562.8" cy="351.0" r="3.5"/><circle cx="718.0" cy="329.7" r="3.5"/><circle cx="717.3" cy="320.2" r="3.5"/><circle cx="678.3" cy="338.2" r="3.5"/><circle cx="635.5" cy="342.0" r="3.5"/><circle cx="737.3" cy="331.1" r="3.5"/><circle cx="830.3" cy="349.3" r="3.5"/><circle cx="799.3" cy="304.2" r="3.5"/><circle cx="841.9" cy="322.7" r="3.5"/><circle cx="753.4" cy="350.1" r="3.5"/><circle cx="665.6" cy="320.6" r="3.5"/><circle cx="694.9" cy="343.8" r="3.5"/><circle cx="676.6" cy="322.8" r="3.5"/><circle cx="626.1" cy="351.0" r="3.5"/><circle cx="718.9" cy="328.8" r="3.5"/><circle cx="743.9" cy="330.7" r="3.5"/><circle cx="762.4" cy="341.3" r="3.5"/><circle cx="713.7" cy="342.0" r="3.5"/><circle cx="755.7" cy="345.2" r="3.5"/><circle cx="665.2" cy="322.0" r="3.5"/><circle cx="798.8" cy="323.0" r="3.5"/><circle cx="826.5" cy="347.5" r="3.5"/><circle cx="775.2" cy="310.3" r="3.5"/><circle cx="779.0" cy="318.1" r="3.5"/><circle cx="855.1" cy="310.1" r="3.5"/><circle cx="630.2" cy="355.4" r="3.5"/><circle cx="774.9" cy="328.2" r="3.5"/><circle cx="862.8" cy="323.5" r="3.5"/><circle cx="823.6" cy="354.0" r="3.5"/><circle cx="859.7" cy="302.2" r="3.5"/><circle cx="809.4" cy="309.9" r="3.5"/><circle cx="735.4" cy="321.5" r="3.5"/><circle cx="854.5" cy="315.1" r="3.5"/><circle cx="768.3" cy="321.3" r="3.5"/><circle cx="835.5" cy="320.8" r="3.5"/><circle cx="708.5" cy="319.4" r="3.5"/><circle cx="734.2" cy="318.0" r="3.5"/><circle cx="578.3" cy="351.5" r="3.5"/><circle cx="697.1" cy="313.3" r="3.5"/><circle cx="724.8" cy="352.8" r="3.5"/><circle cx="735.4" cy="309.6" r="3.5"/><circle cx="788.3" cy="341.5" r="3.5"/><circle cx="827.8" cy="294.2" r="3.5"/><circle cx="737.0" cy="326.5" r="3.5"/><circle cx="638.2" cy="326.7" r="3.5"/><circle cx="768.8" cy="318.8" r="3.5"/><circle cx="768.8" cy="329.0" r="3.5"/><circle cx="677.2" cy="343.8" r="3.5"/><circle cx="630.7" cy="320.9" r="3.5"/><circle cx="785.0" cy="338.2" r="3.5"/><circle cx="787.9" cy="302.6" r="3.5"/><circle cx="796.0" cy="298.0" r="3.5"/><circle cx="655.7" cy="334.0" r="3.5"/><circle cx="813.4" cy="337.9" r="3.5"/><circle cx="730.6" cy="300.4" r="3.5"/><circle cx="749.1" cy="346.9" r="3.5"/><circle cx="628.6" cy="343.0" r="3.5"/><circle cx="809.6" cy="355.1" r="3.5"/><circle cx="583.9" cy="355.5" r="3.5"/><circle cx="778.4" cy="327.7" r="3.5"/><circle cx="766.6" cy="345.4" r="3.5"/><circle cx="757.3" cy="302.9" r="3.5"/><circle cx="855.0" cy="317.6" r="3.5"/><circle cx="855.0" cy="338.5" r="3.5"/><circle cx="800.5" cy="318.5" r="3.5"/><circle cx="677.1" cy="333.3" r="3.5"/><circle cx="743.3" cy="301.1" r="3.5"/><circle cx="607.1" cy="341.4" r="3.5"/><circle cx="749.3" cy="343.4" r="3.5"/><circle cx="770.6" cy="335.5" r="3.5"/><circle cx="704.9" cy="323.1" r="3.5"/><circle cx="824.8" cy="298.6" r="3.5"/><circle cx="722.4" cy="349.5" r="3.5"/><circle cx="863.9" cy="352.5" r="3.5"/><circle cx="633.2" cy="344.2" r="3.5"/><circle cx="640.3" cy="327.3" r="3.5"/><circle cx="791.0" cy="298.6" r="3.5"/><circle cx="820.2" cy="335.3" r="3.5"/><circle cx="836.1" cy="319.5" r="3.5"/><circle cx="861.6" cy="286.5" r="3.5"/><circle cx="683.5" cy="353.3" r="3.5"/><circle cx="606.9" cy="339.3" r="3.5"/><circle cx="716.9" cy="353.3" r="3.5"/><circle cx="766.4" cy="342.8" r="3.5"/><circle cx="815.9" cy="304.9" r="3.5"/><circle cx="657.4" cy="319.0" r="3.5"/><circle cx="689.2" cy="336.9" r="3.5"/><circle cx="662.8" cy="327.9" r="3.5"/><circle cx="625.4" cy="341.8" r="3.5"/><circle cx="813.7" cy="305.2" r="3.5"/><circle cx="632.4" cy="347.1" r="3.5"/><circle cx="866.5" cy="339.4" r="3.5"/><circle cx="699.9" cy="349.4" r="3.5"/><circle cx="657.1" cy="343.8" r="3.5"/><circle cx="830.9" cy="317.4" r="3.5"/><circle cx="843.2" cy="344.2" r="3.5"/><circle cx="801.3" cy="353.0" r="3.5"/><circle cx="613.7" cy="324.8" r="3.5"/><circle cx="843.9" cy="353.5" r="3.5"/><circle cx="832.6" cy="313.9" r="3.5"/><circle cx="859.8" cy="347.2" r="3.5"/><circle cx="825.1" cy="329.5" r="3.5"/><circle cx="564.3" cy="344.3" r="3.5"/><circle cx="854.0" cy="285.6" r="3.5"/><circle cx="781.6" cy="321.6" r="3.5"/><circle cx="736.0" cy="326.6" r="3.5"/><circle cx="851.0" cy="292.5" r="3.5"/><circle cx="770.1" cy="334.9" r="3.5"/><circle cx="728.7" cy="343.8" r="3.5"/><circle cx="738.1" cy="295.2" r="3.5"/><circle cx="601.0" cy="347.3" r="3.5"/><circle cx="718.7" cy="353.8" r="3.5"/><circle cx="817.5" cy="342.2" r="3.5"/><circle cx="826.1" cy="316.1" r="3.5"/><circle cx="828.2" cy="339.8" r="3.5"/><circle cx="678.5" cy="311.5" r="3.5"/><circle cx="790.3" cy="351.4" r="3.5"/><circle cx="700.2" cy="326.3" r="3.5"/><circle cx="552.8" cy="347.6" r="3.5"/><circle cx="786.1" cy="350.0" r="3.5"/><circle cx="809.7" cy="303.0" r="3.5"/><circle cx="814.9" cy="343.6" r="3.5"/><circle cx="706.7" cy="328.3" r="3.5"/><circle cx="787.2" cy="332.4" r="3.5"/><circle cx="822.8" cy="329.2" r="3.5"/><circle cx="753.6" cy="325.7" r="3.5"/><circle cx="679.9" cy="308.6" r="3.5"/><circle cx="694.0" cy="331.5" r="3.5"/><circle cx="818.3" cy="308.4" r="3.5"/><circle cx="866.2" cy="328.7" r="3.5"/><circle cx="774.7" cy="347.8" r="3.5"/><circle cx="756.3" cy="355.8" r="3.5"/><circle cx="817.4" cy="346.6" r="3.5"/><circle cx="785.6" cy="303.3" r="3.5"/><circle cx="826.3" cy="309.0" r="3.5"/><circle cx="821.9" cy="290.4" r="3.5"/><circle cx="727.9" cy="348.9" r="3.5"/><circle cx="598.4" cy="328.2" r="3.5"/><circle cx="701.6" cy="338.0" r="3.5"/><circle cx="749.1" cy="310.7" r="3.5"/><circle cx="622.1" cy="332.7" r="3.5"/><circle cx="653.1" cy="348.5" r="3.5"/><circle cx="852.9" cy="349.8" r="3.5"/><circle cx="574.6" cy="334.6" r="3.5"/><circle cx="608.5" cy="350.9" r="3.5"/><circle cx="616.3" cy="355.1" r="3.5"/><circle cx="684.4" cy="327.3" r="3.5"/><circle cx="804.0" cy="329.3" r="3.5"/><circle cx="804.7" cy="331.6" r="3.5"/><circle cx="763.7" cy="338.3" r="3.5"/><circle cx="862.7" cy="330.9" r="3.5"/><circle cx="820.1" cy="344.7" r="3.5"/><circle cx="804.4" cy="314.1" r="3.5"/><circle cx="744.3" cy="303.1" r="3.5"/><circle cx="761.6" cy="352.2" r="3.5"/><circle cx="577.6" cy="337.7" r="3.5"/><circle cx="813.9" cy="353.3" r="3.5"/><circle cx="688.7" cy="330.0" r="3.5"/><circle cx="860.3" cy="314.4" r="3.5"/><circle cx="606.3" cy="327.4" r="3.5"/><circle cx="706.3" cy="332.8" r="3.5"/><circle cx="784.0" cy="345.7" r="3.5"/><circle cx="643.2" cy="322.0" r="3.5"/><circle cx="649.1" cy="333.9" r="3.5"/><circle cx="743.2" cy="330.3" r="3.5"/><circle cx="658.2" cy="339.6" r="3.5"/><circle cx="677.3" cy="320.8" r="3.5"/><circle cx="851.8" cy="309.3" r="3.5"/><circle cx="595.2" cy="352.7" r="3.5"/><circle cx="825.4" cy="312.2" r="3.5"/><circle cx="850.1" cy="336.8" r="3.5"/><circle cx="802.1" cy="322.4" r="3.5"/><circle cx="575.0" cy="339.8" r="3.5"/><circle cx="696.4" cy="320.5" r="3.5"/><circle cx="803.2" cy="321.5" r="3.5"/><circle cx="663.1" cy="352.2" r="3.5"/><circle cx="692.2" cy="321.8" r="3.5"/><circle cx="640.9" cy="324.4" r="3.5"/><circle cx="644.4" cy="312.6" r="3.5"/><circle cx="692.7" cy="307.3" r="3.5"/><circle cx="626.9" cy="347.4" r="3.5"/><circle cx="722.0" cy="321.3" r="3.5"/><circle cx="782.0" cy="302.1" r="3.5"/><circle cx="806.2" cy="326.7" r="3.5"/><circle cx="757.6" cy="353.5" r="3.5"/><circle cx="608.2" cy="349.0" r="3.5"/><circle cx="815.5" cy="300.0" r="3.5"/><circle cx="700.7" cy="316.6" r="3.5"/><circle cx="752.3" cy="296.1" r="3.5"/><circle cx="807.7" cy="334.7" r="3.5"/><circle cx="593.2" cy="327.8" r="3.5"/><circle cx="856.2" cy="325.6" r="3.5"/><circle cx="777.5" cy="330.3" r="3.5"/><circle cx="688.2" cy="355.5" r="3.5"/><circle cx="606.8" cy="345.3" r="3.5"/><circle cx="836.0" cy="338.9" r="3.5"/><circle cx="633.5" cy="346.6" r="3.5"/><circle cx="774.0" cy="340.0" r="3.5"/><circle cx="789.1" cy="311.4" r="3.5"/><circle cx="662.2" cy="322.2" r="3.5"/><circle cx="593.0" cy="353.3" r="3.5"/><circle cx="588.0" cy="350.4" r="3.5"/><circle cx="666.8" cy="354.8" r="3.5"/><circle cx="805.3" cy="301.7" r="3.5"/><circle cx="710.9" cy="336.0" r="3.5"/><circle cx="654.9" cy="353.2" r="3.5"/><circle cx="604.2" cy="350.7" r="3.5"/><circle cx="855.7" cy="346.6" r="3.5"/><circle cx="790.0" cy="353.1" r="3.5"/><circle cx="828.0" cy="295.7" r="3.5"/><circle cx="843.7" cy="331.4" r="3.5"/><circle cx="792.2" cy="321.2" r="3.5"/><circle cx="691.8" cy="332.4" r="3.5"/><circle cx="731.7" cy="304.7" r="3.5"/><circle cx="742.3" cy="307.8" r="3.5"/><circle cx="771.2" cy="308.3" r="3.5"/><circle cx="639.0" cy="322.7" r="3.5"/><circle cx="697.3" cy="327.9" r="3.5"/><circle cx="826.2" cy="353.2" r="3.5"/><circle cx="756.1" cy="347.3" r="3.5"/><circle cx="859.9" cy="333.0" r="3.5"/><circle cx="748.2" cy="328.3" r="3.5"/><circle cx="751.0" cy="303.5" r="3.5"/><circle cx="805.6" cy="313.6" r="3.5"/><circle cx="819.8" cy="306.1" r="3.5"/><circle cx="844.3" cy="352.0" r="3.5"/><circle cx="840.3" cy="341.4" r="3.5"/></g></g><g clip-path="url(#cl2)"><g fill="#d62728" fill-opacity="0.52" stroke="#d62728" stroke-opacity="0.52" stroke-width="2.6"><circle cx="127.4" cy="405.3" r="3.5"/><circle cx="121.0" cy="412.5" r="3.5"/><circle cx="120.2" cy="422.0" r="3.5"/><circle cx="131.3" cy="422.0" r="3.5"/><circle cx="144.0" cy="426.7" r="3.5"/><circle cx="145.6" cy="433.1" r="3.5"/><circle cx="118.6" cy="439.4" r="3.5"/><circle cx="140.9" cy="445.8" r="3.5"/><circle cx="144.0" cy="450.6" r="3.5"/><circle cx="154.3" cy="433.1" r="3.5"/><circle cx="162.3" cy="427.5" r="3.5"/><circle cx="174.2" cy="434.7" r="3.5"/><circle cx="189.3" cy="434.7" r="3.5"/><circle cx="193.2" cy="438.7" r="3.5"/><circle cx="202.0" cy="441.8" r="3.5"/><circle cx="216.3" cy="439.4" r="3.5"/><circle cx="207.5" cy="449.0" r="3.5"/><circle cx="184.5" cy="452.1" r="3.5"/><circle cx="234.5" cy="445.8" r="3.5"/><circle cx="244.0" cy="447.4" r="3.5"/><circle cx="234.5" cy="458.5" r="3.5"/><circle cx="158.3" cy="458.5" r="3.5"/><circle cx="166.3" cy="456.9" r="3.5"/><circle cx="180.5" cy="464.8" r="3.5"/><circle cx="202.0" cy="455.3" r="3.5"/><circle cx="218.6" cy="470.4" r="3.5"/><circle cx="209.1" cy="474.4" r="3.5"/><circle cx="227.4" cy="476.7" r="3.5"/><circle cx="244.0" cy="469.6" r="3.5"/><circle cx="145.6" cy="476.0" r="3.5"/><circle cx="137.7" cy="483.9" r="3.5"/><circle cx="204.3" cy="490.2" r="3.5"/><circle cx="235.2" cy="445.7" r="3.5"/><circle cx="244.0" cy="447.5" r="3.5"/><circle cx="252.7" cy="454.4" r="3.5"/><circle cx="234.4" cy="458.8" r="3.5"/><circle cx="249.2" cy="457.9" r="3.5"/><circle cx="262.3" cy="466.7" r="3.5"/><circle cx="272.8" cy="464.0" r="3.5"/><circle cx="285.0" cy="459.7" r="3.5"/><circle cx="289.4" cy="470.2" r="3.5"/><circle cx="294.6" cy="472.8" r="3.5"/><circle cx="306.8" cy="474.5" r="3.5"/><circle cx="318.2" cy="480.6" r="3.5"/><circle cx="314.7" cy="492.0" r="3.5"/><circle cx="345.2" cy="492.9" r="3.5"/><circle cx="356.6" cy="490.2" r="3.5"/><circle cx="361.8" cy="501.6" r="3.5"/><circle cx="334.8" cy="499.8" r="3.5"/><circle cx="338.3" cy="517.3" r="3.5"/><circle cx="243.1" cy="471.9" r="3.5"/><circle cx="261.4" cy="477.1" r="3.5"/><circle cx="266.7" cy="478.9" r="3.5"/><circle cx="282.4" cy="485.9" r="3.5"/><circle cx="299.8" cy="494.6" r="3.5"/><circle cx="298.1" cy="503.3" r="3.5"/><circle cx="287.6" cy="498.1" r="3.5"/><circle cx="333.0" cy="509.4" r="3.5"/><circle cx="162.8" cy="502.2" r="3.5"/><circle cx="151.7" cy="522.8" r="3.5"/><circle cx="212.9" cy="534.5" r="3.5"/><circle cx="205.0" cy="495.2" r="3.5"/><circle cx="224.7" cy="527.1" r="3.5"/><circle cx="327.2" cy="524.1" r="3.5"/><circle cx="227.1" cy="524.7" r="3.5"/><circle cx="236.7" cy="523.1" r="3.5"/><circle cx="186.2" cy="537.2" r="3.5"/><circle cx="158.1" cy="475.7" r="3.5"/><circle cx="141.0" cy="517.4" r="3.5"/><circle cx="151.1" cy="484.5" r="3.5"/><circle cx="157.8" cy="534.9" r="3.5"/><circle cx="273.8" cy="503.6" r="3.5"/><circle cx="135.0" cy="478.8" r="3.5"/><circle cx="287.7" cy="538.3" r="3.5"/><circle cx="215.0" cy="540.6" r="3.5"/><circle cx="310.7" cy="525.3" r="3.5"/><circle cx="329.7" cy="524.3" r="3.5"/><circle cx="174.8" cy="494.8" r="3.5"/><circle cx="216.9" cy="484.4" r="3.5"/><circle cx="192.7" cy="496.7" r="3.5"/><circle cx="320.1" cy="514.4" r="3.5"/><circle cx="175.3" cy="528.2" r="3.5"/><circle cx="122.7" cy="478.6" r="3.5"/><circle cx="124.6" cy="496.5" r="3.5"/><circle cx="286.9" cy="512.8" r="3.5"/><circle cx="195.4" cy="533.9" r="3.5"/><circle cx="199.1" cy="528.6" r="3.5"/><circle cx="270.2" cy="509.5" r="3.5"/><circle cx="189.8" cy="490.4" r="3.5"/><circle cx="188.4" cy="529.6" r="3.5"/><circle cx="175.7" cy="486.9" r="3.5"/><circle cx="138.1" cy="524.9" r="3.5"/><circle cx="203.6" cy="538.5" r="3.5"/><circle cx="214.4" cy="517.3" r="3.5"/><circle cx="122.6" cy="519.2" r="3.5"/><circle cx="261.1" cy="524.4" r="3.5"/><circle cx="246.3" cy="496.0" r="3.5"/><circle cx="267.0" cy="538.1" r="3.5"/><circle cx="136.5" cy="507.9" r="3.5"/><circle cx="274.8" cy="517.5" r="3.5"/><circle cx="259.5" cy="513.9" r="3.5"/><circle cx="117.0" cy="474.1" r="3.5"/><circle cx="256.5" cy="517.7" r="3.5"/><circle cx="296.5" cy="511.7" r="3.5"/><circle cx="173.7" cy="474.9" r="3.5"/><circle cx="172.5" cy="496.7" r="3.5"/><circle cx="177.3" cy="518.2" r="3.5"/><circle cx="131.0" cy="487.5" r="3.5"/><circle cx="229.5" cy="533.9" r="3.5"/><circle cx="254.8" cy="523.6" r="3.5"/><circle cx="220.2" cy="481.9" r="3.5"/><circle cx="142.0" cy="499.6" r="3.5"/><circle cx="223.6" cy="502.5" r="3.5"/><circle cx="234.5" cy="485.7" r="3.5"/><circle cx="305.0" cy="522.0" r="3.5"/><circle cx="115.4" cy="537.0" r="3.5"/><circle cx="247.7" cy="541.5" r="3.5"/><circle cx="219.8" cy="493.3" r="3.5"/><circle cx="282.6" cy="518.5" r="3.5"/><circle cx="133.3" cy="496.5" r="3.5"/><circle cx="182.5" cy="517.0" r="3.5"/><circle cx="123.1" cy="469.6" r="3.5"/><circle cx="252.0" cy="531.1" r="3.5"/><circle cx="224.2" cy="520.9" r="3.5"/><circle cx="133.4" cy="490.1" r="3.5"/><circle cx="146.2" cy="504.3" r="3.5"/><circle cx="130.6" cy="508.1" r="3.5"/><circle cx="255.6" cy="525.3" r="3.5"/><circle cx="151.3" cy="472.8" r="3.5"/><circle cx="315.9" cy="514.5" r="3.5"/><circle cx="281.2" cy="497.0" r="3.5"/><circle cx="306.2" cy="501.1" r="3.5"/><circle cx="231.7" cy="485.5" r="3.5"/><circle cx="136.8" cy="451.0" r="3.5"/><circle cx="180.4" cy="467.9" r="3.5"/><circle cx="331.6" cy="514.1" r="3.5"/><circle cx="198.0" cy="468.9" r="3.5"/><circle cx="187.5" cy="463.5" r="3.5"/><circle cx="217.7" cy="477.2" r="3.5"/><circle cx="146.7" cy="470.1" r="3.5"/><circle cx="146.3" cy="469.9" r="3.5"/><circle cx="159.9" cy="457.8" r="3.5"/><circle cx="142.4" cy="457.3" r="3.5"/><circle cx="189.1" cy="474.3" r="3.5"/><circle cx="197.7" cy="462.1" r="3.5"/><circle cx="166.8" cy="465.0" r="3.5"/><circle cx="114.4" cy="434.2" r="3.5"/><circle cx="141.7" cy="471.1" r="3.5"/><circle cx="128.0" cy="436.7" r="3.5"/><circle cx="277.5" cy="489.9" r="3.5"/><circle cx="110.4" cy="464.0" r="3.5"/><circle cx="249.8" cy="487.1" r="3.5"/><circle cx="240.3" cy="470.2" r="3.5"/><circle cx="253.9" cy="485.5" r="3.5"/><circle cx="249.5" cy="489.3" r="3.5"/><circle cx="175.5" cy="458.4" r="3.5"/><circle cx="209.0" cy="468.6" r="3.5"/><circle cx="245.8" cy="472.4" r="3.5"/><circle cx="190.7" cy="479.5" r="3.5"/><circle cx="173.0" cy="461.7" r="3.5"/><circle cx="298.9" cy="505.7" r="3.5"/><circle cx="296.2" cy="500.3" r="3.5"/><circle cx="128.8" cy="440.0" r="3.5"/><circle cx="168.6" cy="452.5" r="3.5"/><circle cx="251.1" cy="485.3" r="3.5"/><circle cx="141.8" cy="448.2" r="3.5"/><circle cx="334.3" cy="505.6" r="3.5"/><circle cx="113.1" cy="463.0" r="3.5"/><circle cx="245.7" cy="491.0" r="3.5"/></g><g fill="#ff7f0e" fill-opacity="0.52" stroke="#ff7f0e" stroke-opacity="0.52" stroke-width="2.6"><circle cx="137.7" cy="424.4" r="3.5"/><circle cx="121.8" cy="429.9" r="3.5"/><circle cx="128.2" cy="450.6" r="3.5"/><circle cx="136.1" cy="450.6" r="3.5"/><circle cx="186.9" cy="461.7" r="3.5"/><circle cx="213.9" cy="478.3" r="3.5"/><circle cx="129.7" cy="469.6" r="3.5"/><circle cx="120.2" cy="480.7" r="3.5"/><circle cx="150.4" cy="468.0" r="3.5"/><circle cx="169.4" cy="482.3" r="3.5"/><circle cx="172.6" cy="480.7" r="3.5"/><circle cx="182.1" cy="487.1" r="3.5"/><circle cx="345.2" cy="508.6" r="3.5"/><circle cx="252.7" cy="478.9" r="3.5"/><circle cx="291.1" cy="491.1" r="3.5"/><circle cx="294.6" cy="494.6" r="3.5"/><circle cx="305.1" cy="499.8" r="3.5"/><circle cx="273.7" cy="508.6" r="3.5"/><circle cx="252.7" cy="524.3" r="3.5"/><circle cx="312.1" cy="531.3" r="3.5"/><circle cx="320.8" cy="529.5" r="3.5"/><circle cx="327.8" cy="534.8" r="3.5"/><circle cx="322.9" cy="520.5" r="3.5"/><circle cx="214.6" cy="527.2" r="3.5"/><circle cx="190.2" cy="524.9" r="3.5"/><circle cx="188.2" cy="498.0" r="3.5"/><circle cx="253.0" cy="540.6" r="3.5"/><circle cx="329.3" cy="536.6" r="3.5"/><circle cx="128.3" cy="508.8" r="3.5"/><circle cx="120.8" cy="499.2" r="3.5"/><circle cx="174.1" cy="500.5" r="3.5"/><circle cx="258.7" cy="520.1" r="3.5"/><circle cx="194.3" cy="487.6" r="3.5"/><circle cx="260.6" cy="506.2" r="3.5"/><circle cx="169.6" cy="521.1" r="3.5"/><circle cx="109.4" cy="515.4" r="3.5"/><circle cx="251.2" cy="536.1" r="3.5"/><circle cx="237.4" cy="512.9" r="3.5"/><circle cx="233.9" cy="530.4" r="3.5"/><circle cx="123.8" cy="539.4" r="3.5"/><circle cx="151.7" cy="479.9" r="3.5"/><circle cx="129.3" cy="499.7" r="3.5"/><circle cx="116.0" cy="502.3" r="3.5"/><circle cx="256.6" cy="522.2" r="3.5"/><circle cx="175.3" cy="511.0" r="3.5"/><circle cx="135.9" cy="476.1" r="3.5"/><circle cx="159.7" cy="523.5" r="3.5"/><circle cx="282.3" cy="529.2" r="3.5"/><circle cx="152.7" cy="496.7" r="3.5"/><circle cx="169.7" cy="494.8" r="3.5"/><circle cx="159.6" cy="523.3" r="3.5"/><circle cx="301.7" cy="535.9" r="3.5"/><circle cx="133.1" cy="501.3" r="3.5"/><circle cx="113.8" cy="521.5" r="3.5"/><circle cx="247.1" cy="522.7" r="3.5"/><circle cx="147.1" cy="521.5" r="3.5"/><circle cx="163.8" cy="485.5" r="3.5"/><circle cx="246.0" cy="534.7" r="3.5"/><circle cx="134.7" cy="523.1" r="3.5"/><circle cx="165.6" cy="533.4" r="3.5"/><circle cx="147.3" cy="536.0" r="3.5"/><circle cx="277.9" cy="525.9" r="3.5"/><circle cx="111.8" cy="468.0" r="3.5"/><circle cx="113.7" cy="505.7" r="3.5"/><circle cx="148.0" cy="487.0" r="3.5"/><circle cx="228.4" cy="522.7" r="3.5"/><circle cx="161.5" cy="516.6" r="3.5"/><circle cx="302.8" cy="529.0" r="3.5"/><circle cx="112.5" cy="489.7" r="3.5"/><circle cx="110.4" cy="497.5" r="3.5"/><circle cx="119.9" cy="466.9" r="3.5"/><circle cx="244.9" cy="537.2" r="3.5"/><circle cx="273.2" cy="539.2" r="3.5"/><circle cx="321.6" cy="534.6" r="3.5"/><circle cx="116.5" cy="541.0" r="3.5"/><circle cx="212.2" cy="496.7" r="3.5"/><circle cx="139.7" cy="536.6" r="3.5"/><circle cx="130.4" cy="500.2" r="3.5"/><circle cx="288.2" cy="535.6" r="3.5"/><circle cx="327.0" cy="522.1" r="3.5"/><circle cx="232.3" cy="527.6" r="3.5"/><circle cx="164.5" cy="531.7" r="3.5"/><circle cx="188.3" cy="533.9" r="3.5"/><circle cx="180.8" cy="494.0" r="3.5"/><circle cx="113.6" cy="477.6" r="3.5"/><circle cx="269.4" cy="507.1" r="3.5"/><circle cx="316.0" cy="520.0" r="3.5"/><circle cx="250.0" cy="491.4" r="3.5"/><circle cx="319.7" cy="531.7" r="3.5"/><circle cx="112.1" cy="498.7" r="3.5"/><circle cx="130.1" cy="471.0" r="3.5"/><circle cx="251.6" cy="522.9" r="3.5"/><circle cx="252.0" cy="519.5" r="3.5"/><circle cx="137.1" cy="523.1" r="3.5"/><circle cx="146.3" cy="538.6" r="3.5"/><circle cx="120.7" cy="478.3" r="3.5"/><circle cx="171.3" cy="542.0" r="3.5"/><circle cx="238.0" cy="492.4" r="3.5"/><circle cx="259.2" cy="508.1" r="3.5"/><circle cx="214.1" cy="529.8" r="3.5"/><circle cx="111.4" cy="508.0" r="3.5"/><circle cx="183.9" cy="535.9" r="3.5"/><circle cx="117.4" cy="510.2" r="3.5"/><circle cx="311.4" cy="521.3" r="3.5"/><circle cx="218.3" cy="502.6" r="3.5"/><circle cx="112.2" cy="539.9" r="3.5"/><circle cx="241.1" cy="515.1" r="3.5"/><circle cx="112.0" cy="528.7" r="3.5"/><circle cx="147.9" cy="521.6" r="3.5"/><circle cx="188.7" cy="528.2" r="3.5"/><circle cx="328.9" cy="537.2" r="3.5"/><circle cx="176.1" cy="528.2" r="3.5"/><circle cx="147.8" cy="522.6" r="3.5"/><circle cx="240.5" cy="509.7" r="3.5"/><circle cx="153.4" cy="476.8" r="3.5"/><circle cx="181.6" cy="495.0" r="3.5"/><circle cx="193.2" cy="491.2" r="3.5"/><circle cx="259.6" cy="510.1" r="3.5"/><circle cx="120.0" cy="497.6" r="3.5"/><circle cx="142.1" cy="519.5" r="3.5"/><circle cx="264.3" cy="540.9" r="3.5"/><circle cx="259.2" cy="519.0" r="3.5"/><circle cx="195.0" cy="489.5" r="3.5"/><circle cx="285.4" cy="539.5" r="3.5"/><circle cx="314.5" cy="529.8" r="3.5"/><circle cx="269.0" cy="502.7" r="3.5"/><circle cx="138.8" cy="512.3" r="3.5"/><circle cx="311.6" cy="519.4" r="3.5"/><circle cx="177.8" cy="495.0" r="3.5"/><circle cx="169.4" cy="521.6" r="3.5"/><circle cx="157.9" cy="477.0" r="3.5"/><circle cx="133.4" cy="508.3" r="3.5"/><circle cx="154.7" cy="536.0" r="3.5"/><circle cx="307.9" cy="538.6" r="3.5"/><circle cx="191.3" cy="534.9" r="3.5"/><circle cx="297.8" cy="507.1" r="3.5"/><circle cx="314.6" cy="539.6" r="3.5"/><circle cx="289.8" cy="534.7" r="3.5"/><circle cx="167.3" cy="470.1" r="3.5"/><circle cx="162.6" cy="529.1" r="3.5"/><circle cx="111.8" cy="474.1" r="3.5"/><circle cx="132.3" cy="474.3" r="3.5"/><circle cx="179.2" cy="494.9" r="3.5"/><circle cx="182.5" cy="512.7" r="3.5"/><circle cx="222.8" cy="515.6" r="3.5"/><circle cx="109.7" cy="492.9" r="3.5"/><circle cx="294.9" cy="508.9" r="3.5"/><circle cx="209.3" cy="510.2" r="3.5"/><circle cx="289.2" cy="531.4" r="3.5"/><circle cx="116.6" cy="532.0" r="3.5"/><circle cx="150.7" cy="530.8" r="3.5"/><circle cx="297.3" cy="522.7" r="3.5"/><circle cx="326.2" cy="537.1" r="3.5"/><circle cx="145.8" cy="476.6" r="3.5"/><circle cx="275.6" cy="512.1" r="3.5"/><circle cx="210.0" cy="495.7" r="3.5"/><circle cx="263.2" cy="524.1" r="3.5"/><circle cx="292.2" cy="510.1" r="3.5"/><circle cx="146.6" cy="499.0" r="3.5"/><circle cx="155.6" cy="523.1" r="3.5"/><circle cx="123.0" cy="528.2" r="3.5"/><circle cx="233.1" cy="533.8" r="3.5"/><circle cx="240.7" cy="486.7" r="3.5"/><circle cx="173.1" cy="522.1" r="3.5"/><circle cx="197.1" cy="483.8" r="3.5"/><circle cx="178.8" cy="541.9" r="3.5"/><circle cx="241.8" cy="520.8" r="3.5"/><circle cx="188.0" cy="482.8" r="3.5"/><circle cx="221.2" cy="518.7" r="3.5"/><circle cx="139.3" cy="503.3" r="3.5"/><circle cx="320.4" cy="533.9" r="3.5"/><circle cx="232.1" cy="494.2" r="3.5"/><circle cx="224.6" cy="531.0" r="3.5"/><circle cx="132.0" cy="488.7" r="3.5"/><circle cx="188.7" cy="489.0" r="3.5"/><circle cx="147.8" cy="468.8" r="3.5"/><circle cx="225.6" cy="520.1" r="3.5"/><circle cx="122.3" cy="488.3" r="3.5"/><circle cx="215.6" cy="505.5" r="3.5"/><circle cx="121.0" cy="514.4" r="3.5"/><circle cx="180.6" cy="473.3" r="3.5"/><circle cx="144.7" cy="463.1" r="3.5"/><circle cx="314.0" cy="504.0" r="3.5"/><circle cx="292.2" cy="496.7" r="3.5"/><circle cx="128.2" cy="438.6" r="3.5"/><circle cx="289.6" cy="491.2" r="3.5"/><circle cx="151.7" cy="451.0" r="3.5"/><circle cx="187.3" cy="468.0" r="3.5"/><circle cx="243.4" cy="482.0" r="3.5"/><circle cx="182.2" cy="475.3" r="3.5"/><circle cx="181.1" cy="475.0" r="3.5"/><circle cx="295.4" cy="492.3" r="3.5"/></g><g fill="#1f77b4" fill-opacity="0.52" stroke="#1f77b4" stroke-opacity="0.52" stroke-width="2.6"><circle cx="139.3" cy="417.2" r="3.5"/><circle cx="131.3" cy="430.7" r="3.5"/><circle cx="139.3" cy="431.5" r="3.5"/><circle cx="126.6" cy="443.4" r="3.5"/><circle cx="131.3" cy="444.2" r="3.5"/><circle cx="121.8" cy="447.4" r="3.5"/><circle cx="152.0" cy="452.9" r="3.5"/><circle cx="166.3" cy="435.5" r="3.5"/><circle cx="161.5" cy="446.6" r="3.5"/><circle cx="172.6" cy="445.8" r="3.5"/><circle cx="195.6" cy="449.0" r="3.5"/><circle cx="213.9" cy="449.0" r="3.5"/><circle cx="175.8" cy="456.9" r="3.5"/><circle cx="177.4" cy="464.8" r="3.5"/><circle cx="164.7" cy="466.4" r="3.5"/><circle cx="190.1" cy="466.4" r="3.5"/><circle cx="198.0" cy="461.7" r="3.5"/><circle cx="202.8" cy="463.3" r="3.5"/><circle cx="223.4" cy="464.8" r="3.5"/><circle cx="226.6" cy="468.0" r="3.5"/><circle cx="222.6" cy="480.7" r="3.5"/><circle cx="231.3" cy="484.7" r="3.5"/><circle cx="239.3" cy="478.3" r="3.5"/><circle cx="115.5" cy="456.9" r="3.5"/><circle cx="118.6" cy="460.1" r="3.5"/><circle cx="134.5" cy="460.1" r="3.5"/><circle cx="139.3" cy="466.4" r="3.5"/><circle cx="144.0" cy="463.3" r="3.5"/><circle cx="121.8" cy="469.6" r="3.5"/><circle cx="123.4" cy="474.4" r="3.5"/><circle cx="132.9" cy="479.1" r="3.5"/><circle cx="142.4" cy="474.4" r="3.5"/><circle cx="153.6" cy="476.0" r="3.5"/><circle cx="154.3" cy="483.9" r="3.5"/><circle cx="159.9" cy="483.9" r="3.5"/><circle cx="179.0" cy="483.9" r="3.5"/><circle cx="193.2" cy="477.5" r="3.5"/><circle cx="201.2" cy="483.9" r="3.5"/><circle cx="115.5" cy="490.2" r="3.5"/><circle cx="123.4" cy="488.7" r="3.5"/><circle cx="131.3" cy="491.8" r="3.5"/><circle cx="145.6" cy="491.8" r="3.5"/><circle cx="164.7" cy="490.2" r="3.5"/><circle cx="186.9" cy="490.2" r="3.5"/><circle cx="215.5" cy="493.4" r="3.5"/><circle cx="251.0" cy="464.0" r="3.5"/><circle cx="254.4" cy="466.7" r="3.5"/><circle cx="278.0" cy="468.4" r="3.5"/><circle cx="306.0" cy="487.6" r="3.5"/><circle cx="317.3" cy="489.4" r="3.5"/><circle cx="322.5" cy="489.4" r="3.5"/><circle cx="326.0" cy="498.1" r="3.5"/><circle cx="336.5" cy="515.6" r="3.5"/><circle cx="361.8" cy="520.8" r="3.5"/><circle cx="240.5" cy="478.9" r="3.5"/><circle cx="275.4" cy="480.6" r="3.5"/><circle cx="257.9" cy="482.4" r="3.5"/><circle cx="261.4" cy="485.9" r="3.5"/><circle cx="266.7" cy="487.6" r="3.5"/><circle cx="275.4" cy="487.6" r="3.5"/><circle cx="310.3" cy="503.3" r="3.5"/><circle cx="319.1" cy="506.8" r="3.5"/><circle cx="324.3" cy="508.6" r="3.5"/><circle cx="233.5" cy="487.6" r="3.5"/><circle cx="244.0" cy="503.3" r="3.5"/><circle cx="256.2" cy="508.6" r="3.5"/><circle cx="264.9" cy="505.1" r="3.5"/><circle cx="252.7" cy="513.8" r="3.5"/><circle cx="264.9" cy="517.3" r="3.5"/><circle cx="271.9" cy="519.1" r="3.5"/><circle cx="278.9" cy="522.5" r="3.5"/><circle cx="291.1" cy="520.8" r="3.5"/><circle cx="296.4" cy="520.8" r="3.5"/><circle cx="298.1" cy="526.0" r="3.5"/><circle cx="287.6" cy="529.5" r="3.5"/><circle cx="306.8" cy="524.3" r="3.5"/><circle cx="315.6" cy="522.5" r="3.5"/><circle cx="331.3" cy="529.5" r="3.5"/><circle cx="338.3" cy="531.3" r="3.5"/><circle cx="345.2" cy="527.8" r="3.5"/><circle cx="235.2" cy="513.8" r="3.5"/><circle cx="238.7" cy="527.8" r="3.5"/><circle cx="251.0" cy="533.0" r="3.5"/><circle cx="263.2" cy="533.0" r="3.5"/><circle cx="270.2" cy="534.8" r="3.5"/><circle cx="282.4" cy="534.8" r="3.5"/><circle cx="303.3" cy="536.5" r="3.5"/><circle cx="324.3" cy="536.5" r="3.5"/><circle cx="343.5" cy="536.5" r="3.5"/><circle cx="355.7" cy="536.5" r="3.5"/><circle cx="160.1" cy="506.2" r="3.5"/><circle cx="238.5" cy="490.8" r="3.5"/><circle cx="326.4" cy="530.2" r="3.5"/><circle cx="291.6" cy="527.5" r="3.5"/><circle cx="133.8" cy="534.3" r="3.5"/><circle cx="202.3" cy="524.8" r="3.5"/><circle cx="256.7" cy="520.3" r="3.5"/><circle cx="180.7" cy="510.5" r="3.5"/><circle cx="120.8" cy="523.2" r="3.5"/><circle cx="169.5" cy="536.4" r="3.5"/><circle cx="222.3" cy="540.3" r="3.5"/><circle cx="284.7" cy="537.8" r="3.5"/><circle cx="150.0" cy="499.9" r="3.5"/><circle cx="277.2" cy="516.5" r="3.5"/><circle cx="122.8" cy="475.2" r="3.5"/><circle cx="122.1" cy="504.7" r="3.5"/><circle cx="151.0" cy="535.7" r="3.5"/><circle cx="294.3" cy="516.4" r="3.5"/><circle cx="278.2" cy="536.5" r="3.5"/><circle cx="187.1" cy="520.5" r="3.5"/><circle cx="129.9" cy="500.1" r="3.5"/><circle cx="194.9" cy="519.3" r="3.5"/><circle cx="199.2" cy="513.5" r="3.5"/><circle cx="190.9" cy="505.2" r="3.5"/><circle cx="181.3" cy="488.8" r="3.5"/><circle cx="311.9" cy="532.2" r="3.5"/><circle cx="163.6" cy="480.2" r="3.5"/><circle cx="159.9" cy="494.6" r="3.5"/><circle cx="231.1" cy="523.9" r="3.5"/><circle cx="131.4" cy="491.2" r="3.5"/><circle cx="241.0" cy="521.1" r="3.5"/><circle cx="194.9" cy="531.8" r="3.5"/><circle cx="173.5" cy="529.7" r="3.5"/><circle cx="316.2" cy="521.1" r="3.5"/><circle cx="112.5" cy="468.3" r="3.5"/><circle cx="172.5" cy="488.2" r="3.5"/><circle cx="130.5" cy="503.5" r="3.5"/><circle cx="179.8" cy="474.6" r="3.5"/><circle cx="242.6" cy="531.1" r="3.5"/><circle cx="303.4" cy="528.8" r="3.5"/><circle cx="239.4" cy="494.0" r="3.5"/><circle cx="176.4" cy="517.9" r="3.5"/><circle cx="241.7" cy="508.0" r="3.5"/><circle cx="137.2" cy="507.5" r="3.5"/><circle cx="270.6" cy="535.2" r="3.5"/><circle cx="292.9" cy="529.1" r="3.5"/><circle cx="233.6" cy="515.2" r="3.5"/><circle cx="112.4" cy="485.6" r="3.5"/><circle cx="201.6" cy="518.7" r="3.5"/><circle cx="280.8" cy="540.7" r="3.5"/><circle cx="219.0" cy="514.3" r="3.5"/><circle cx="307.3" cy="522.4" r="3.5"/><circle cx="219.3" cy="507.2" r="3.5"/><circle cx="120.6" cy="494.8" r="3.5"/><circle cx="156.1" cy="501.8" r="3.5"/><circle cx="168.1" cy="517.1" r="3.5"/><circle cx="161.6" cy="484.1" r="3.5"/><circle cx="149.8" cy="526.5" r="3.5"/><circle cx="207.0" cy="485.9" r="3.5"/><circle cx="162.3" cy="497.9" r="3.5"/><circle cx="149.9" cy="501.2" r="3.5"/><circle cx="216.5" cy="515.0" r="3.5"/><circle cx="115.6" cy="494.9" r="3.5"/><circle cx="157.2" cy="506.4" r="3.5"/><circle cx="187.5" cy="535.2" r="3.5"/><circle cx="308.6" cy="521.1" r="3.5"/><circle cx="181.2" cy="500.3" r="3.5"/><circle cx="183.5" cy="472.8" r="3.5"/><circle cx="199.6" cy="507.2" r="3.5"/><circle cx="247.5" cy="534.0" r="3.5"/><circle cx="272.2" cy="526.9" r="3.5"/><circle cx="113.1" cy="465.5" r="3.5"/><circle cx="205.9" cy="510.6" r="3.5"/><circle cx="253.6" cy="512.2" r="3.5"/><circle cx="141.5" cy="491.2" r="3.5"/><circle cx="202.3" cy="528.5" r="3.5"/><circle cx="157.9" cy="507.4" r="3.5"/><circle cx="126.7" cy="480.0" r="3.5"/><circle cx="210.8" cy="514.3" r="3.5"/><circle cx="154.7" cy="513.7" r="3.5"/><circle cx="177.1" cy="529.8" r="3.5"/><circle cx="256.5" cy="536.6" r="3.5"/><circle cx="151.1" cy="502.5" r="3.5"/><circle cx="170.3" cy="540.5" r="3.5"/><circle cx="146.9" cy="469.2" r="3.5"/><circle cx="226.5" cy="516.6" r="3.5"/><circle cx="110.3" cy="474.3" r="3.5"/><circle cx="191.1" cy="488.6" r="3.5"/><circle cx="125.6" cy="509.6" r="3.5"/><circle cx="227.0" cy="524.5" r="3.5"/><circle cx="298.9" cy="524.9" r="3.5"/><circle cx="304.1" cy="539.4" r="3.5"/><circle cx="147.1" cy="540.6" r="3.5"/><circle cx="213.6" cy="501.0" r="3.5"/><circle cx="174.1" cy="496.4" r="3.5"/><circle cx="222.2" cy="503.4" r="3.5"/><circle cx="254.7" cy="499.2" r="3.5"/><circle cx="261.8" cy="522.8" r="3.5"/><circle cx="171.3" cy="495.4" r="3.5"/><circle cx="226.0" cy="519.6" r="3.5"/><circle cx="113.1" cy="531.1" r="3.5"/><circle cx="254.6" cy="533.5" r="3.5"/><circle cx="138.3" cy="520.7" r="3.5"/><circle cx="268.5" cy="519.1" r="3.5"/><circle cx="115.6" cy="496.4" r="3.5"/><circle cx="166.3" cy="509.3" r="3.5"/><circle cx="282.4" cy="500.9" r="3.5"/><circle cx="227.2" cy="506.0" r="3.5"/><circle cx="166.5" cy="498.2" r="3.5"/><circle cx="164.7" cy="508.4" r="3.5"/><circle cx="246.5" cy="511.6" r="3.5"/><circle cx="256.5" cy="532.3" r="3.5"/><circle cx="167.7" cy="473.0" r="3.5"/><circle cx="197.9" cy="541.4" r="3.5"/><circle cx="244.7" cy="509.6" r="3.5"/><circle cx="115.3" cy="491.1" r="3.5"/><circle cx="267.8" cy="514.4" r="3.5"/><circle cx="199.7" cy="485.3" r="3.5"/><circle cx="276.1" cy="519.9" r="3.5"/><circle cx="188.8" cy="530.1" r="3.5"/><circle cx="116.7" cy="528.6" r="3.5"/><circle cx="132.6" cy="476.3" r="3.5"/><circle cx="152.3" cy="474.8" r="3.5"/><circle cx="172.4" cy="539.7" r="3.5"/><circle cx="151.5" cy="481.5" r="3.5"/><circle cx="315.7" cy="539.9" r="3.5"/><circle cx="233.6" cy="528.7" r="3.5"/><circle cx="138.5" cy="486.9" r="3.5"/><circle cx="160.6" cy="511.9" r="3.5"/><circle cx="242.6" cy="506.9" r="3.5"/><circle cx="297.4" cy="521.4" r="3.5"/><circle cx="279.5" cy="515.7" r="3.5"/><circle cx="118.6" cy="503.8" r="3.5"/><circle cx="158.7" cy="478.8" r="3.5"/><circle cx="278.4" cy="538.4" r="3.5"/><circle cx="158.3" cy="467.7" r="3.5"/><circle cx="131.8" cy="516.1" r="3.5"/><circle cx="151.6" cy="502.7" r="3.5"/><circle cx="188.2" cy="536.3" r="3.5"/><circle cx="266.7" cy="533.1" r="3.5"/><circle cx="160.0" cy="499.1" r="3.5"/><circle cx="141.0" cy="491.5" r="3.5"/><circle cx="275.4" cy="517.1" r="3.5"/><circle cx="319.8" cy="517.3" r="3.5"/><circle cx="200.3" cy="501.3" r="3.5"/><circle cx="232.8" cy="501.3" r="3.5"/><circle cx="238.0" cy="521.0" r="3.5"/><circle cx="135.0" cy="475.7" r="3.5"/><circle cx="275.1" cy="533.4" r="3.5"/><circle cx="176.2" cy="472.2" r="3.5"/><circle cx="227.4" cy="499.3" r="3.5"/><circle cx="181.8" cy="530.7" r="3.5"/><circle cx="140.3" cy="481.5" r="3.5"/><circle cx="315.1" cy="519.3" r="3.5"/><circle cx="115.3" cy="529.0" r="3.5"/><circle cx="129.8" cy="500.6" r="3.5"/><circle cx="215.0" cy="538.6" r="3.5"/><circle cx="262.4" cy="492.6" r="3.5"/><circle cx="153.6" cy="522.5" r="3.5"/><circle cx="120.1" cy="512.7" r="3.5"/><circle cx="322.6" cy="541.9" r="3.5"/><circle cx="149.6" cy="475.0" r="3.5"/><circle cx="188.0" cy="487.4" r="3.5"/><circle cx="120.8" cy="506.8" r="3.5"/><circle cx="265.1" cy="502.8" r="3.5"/><circle cx="156.6" cy="512.3" r="3.5"/><circle cx="266.4" cy="509.3" r="3.5"/><circle cx="235.5" cy="541.0" r="3.5"/><circle cx="261.3" cy="523.1" r="3.5"/><circle cx="278.9" cy="501.2" r="3.5"/><circle cx="263.2" cy="524.0" r="3.5"/><circle cx="165.9" cy="527.1" r="3.5"/><circle cx="128.2" cy="507.4" r="3.5"/><circle cx="239.1" cy="529.9" r="3.5"/><circle cx="217.1" cy="520.2" r="3.5"/><circle cx="274.0" cy="501.2" r="3.5"/><circle cx="229.0" cy="510.6" r="3.5"/><circle cx="204.2" cy="482.7" r="3.5"/><circle cx="313.9" cy="531.4" r="3.5"/><circle cx="293.8" cy="522.6" r="3.5"/><circle cx="315.8" cy="535.0" r="3.5"/><circle cx="235.4" cy="487.8" r="3.5"/><circle cx="164.3" cy="526.5" r="3.5"/><circle cx="293.5" cy="527.9" r="3.5"/><circle cx="122.7" cy="505.4" r="3.5"/><circle cx="184.0" cy="495.5" r="3.5"/><circle cx="227.6" cy="497.5" r="3.5"/><circle cx="179.4" cy="531.9" r="3.5"/><circle cx="158.0" cy="541.0" r="3.5"/><circle cx="131.5" cy="483.3" r="3.5"/><circle cx="135.4" cy="541.2" r="3.5"/><circle cx="229.7" cy="470.7" r="3.5"/><circle cx="148.8" cy="457.6" r="3.5"/><circle cx="319.4" cy="516.4" r="3.5"/><circle cx="245.6" cy="475.8" r="3.5"/><circle cx="290.8" cy="498.6" r="3.5"/><circle cx="158.4" cy="456.0" r="3.5"/><circle cx="276.9" cy="499.7" r="3.5"/><circle cx="326.1" cy="504.0" r="3.5"/><circle cx="204.7" cy="469.3" r="3.5"/><circle cx="121.2" cy="464.9" r="3.5"/><circle cx="255.7" cy="476.0" r="3.5"/><circle cx="324.5" cy="518.4" r="3.5"/><circle cx="174.2" cy="456.7" r="3.5"/><circle cx="222.0" cy="483.2" r="3.5"/><circle cx="133.4" cy="462.9" r="3.5"/><circle cx="202.8" cy="476.6" r="3.5"/><circle cx="262.7" cy="498.7" r="3.5"/><circle cx="146.2" cy="464.4" r="3.5"/><circle cx="162.6" cy="452.4" r="3.5"/><circle cx="178.3" cy="471.2" r="3.5"/><circle cx="134.6" cy="459.2" r="3.5"/><circle cx="217.4" cy="482.1" r="3.5"/><circle cx="302.9" cy="494.0" r="3.5"/><circle cx="241.8" cy="475.3" r="3.5"/><circle cx="234.1" cy="484.0" r="3.5"/><circle cx="127.1" cy="464.1" r="3.5"/><circle cx="226.9" cy="466.6" r="3.5"/><circle cx="222.8" cy="482.2" r="3.5"/><circle cx="239.8" cy="473.8" r="3.5"/><circle cx="135.4" cy="469.4" r="3.5"/><circle cx="192.9" cy="461.3" r="3.5"/><circle cx="119.2" cy="463.9" r="3.5"/><circle cx="304.5" cy="495.9" r="3.5"/><circle cx="112.9" cy="461.9" r="3.5"/><circle cx="190.4" cy="478.4" r="3.5"/><circle cx="220.0" cy="483.6" r="3.5"/><circle cx="274.9" cy="495.5" r="3.5"/><circle cx="277.1" cy="501.7" r="3.5"/><circle cx="172.8" cy="473.2" r="3.5"/><circle cx="259.3" cy="484.5" r="3.5"/><circle cx="189.6" cy="467.4" r="3.5"/><circle cx="324.6" cy="507.4" r="3.5"/><circle cx="130.3" cy="447.1" r="3.5"/><circle cx="253.1" cy="493.8" r="3.5"/><circle cx="202.2" cy="481.7" r="3.5"/><circle cx="259.0" cy="484.8" r="3.5"/><circle cx="264.2" cy="487.6" r="3.5"/><circle cx="152.2" cy="465.8" r="3.5"/></g></g><g clip-path="url(#cr2)"><g fill="#d62728" fill-opacity="0.32" stroke="#d62728" stroke-opacity="0.32" stroke-width="2.6"><circle cx="774.3" cy="423.6" r="3.5"/><circle cx="776.4" cy="424.7" r="3.5"/><circle cx="751.3" cy="440.4" r="3.5"/><circle cx="757.6" cy="437.2" r="3.5"/><circle cx="755.5" cy="446.7" r="3.5"/><circle cx="766.0" cy="447.7" r="3.5"/><circle cx="770.1" cy="445.6" r="3.5"/><circle cx="769.1" cy="448.8" r="3.5"/><circle cx="777.5" cy="457.1" r="3.5"/><circle cx="752.3" cy="464.5" r="3.5"/><circle cx="737.7" cy="464.5" r="3.5"/><circle cx="737.7" cy="466.6" r="3.5"/><circle cx="715.7" cy="446.7" r="3.5"/><circle cx="715.7" cy="447.7" r="3.5"/><circle cx="714.6" cy="455.0" r="3.5"/><circle cx="688.4" cy="458.2" r="3.5"/><circle cx="683.2" cy="466.6" r="3.5"/><circle cx="690.5" cy="468.7" r="3.5"/><circle cx="690.5" cy="469.7" r="3.5"/><circle cx="667.5" cy="469.7" r="3.5"/><circle cx="672.7" cy="469.7" r="3.5"/><circle cx="669.6" cy="469.7" r="3.5"/><circle cx="664.4" cy="482.3" r="3.5"/><circle cx="664.4" cy="483.3" r="3.5"/><circle cx="705.2" cy="478.1" r="3.5"/><circle cx="698.9" cy="480.2" r="3.5"/><circle cx="698.9" cy="484.4" r="3.5"/><circle cx="718.8" cy="466.6" r="3.5"/><circle cx="719.9" cy="472.8" r="3.5"/><circle cx="720.9" cy="479.1" r="3.5"/><circle cx="736.6" cy="480.2" r="3.5"/><circle cx="749.2" cy="479.1" r="3.5"/><circle cx="755.5" cy="483.3" r="3.5"/><circle cx="763.9" cy="483.3" r="3.5"/><circle cx="768.0" cy="489.6" r="3.5"/><circle cx="774.3" cy="490.6" r="3.5"/><circle cx="632.9" cy="492.7" r="3.5"/><circle cx="615.1" cy="502.2" r="3.5"/><circle cx="642.4" cy="502.2" r="3.5"/><circle cx="647.6" cy="510.5" r="3.5"/><circle cx="608.9" cy="514.7" r="3.5"/><circle cx="630.8" cy="516.8" r="3.5"/><circle cx="619.3" cy="521.0" r="3.5"/><circle cx="663.3" cy="505.3" r="3.5"/><circle cx="663.3" cy="507.4" r="3.5"/><circle cx="661.2" cy="510.5" r="3.5"/><circle cx="688.4" cy="493.8" r="3.5"/><circle cx="688.4" cy="502.2" r="3.5"/><circle cx="694.7" cy="489.6" r="3.5"/><circle cx="698.9" cy="491.7" r="3.5"/><circle cx="705.2" cy="495.9" r="3.5"/><circle cx="717.8" cy="494.8" r="3.5"/><circle cx="736.6" cy="492.7" r="3.5"/><circle cx="736.6" cy="514.7" r="3.5"/><circle cx="736.6" cy="517.9" r="3.5"/><circle cx="751.3" cy="491.7" r="3.5"/><circle cx="751.3" cy="495.9" r="3.5"/><circle cx="749.2" cy="514.7" r="3.5"/><circle cx="719.9" cy="510.5" r="3.5"/><circle cx="715.7" cy="518.9" r="3.5"/><circle cx="715.7" cy="527.3" r="3.5"/><circle cx="703.1" cy="518.9" r="3.5"/><circle cx="701.0" cy="526.3" r="3.5"/><circle cx="688.4" cy="514.7" r="3.5"/><circle cx="688.4" cy="518.9" r="3.5"/><circle cx="686.4" cy="529.4" r="3.5"/><circle cx="673.8" cy="523.1" r="3.5"/><circle cx="663.3" cy="527.3" r="3.5"/><circle cx="659.1" cy="526.3" r="3.5"/><circle cx="671.7" cy="529.4" r="3.5"/><circle cx="646.6" cy="527.3" r="3.5"/><circle cx="642.4" cy="518.9" r="3.5"/><circle cx="631.9" cy="527.3" r="3.5"/><circle cx="604.7" cy="527.3" r="3.5"/><circle cx="613.0" cy="527.3" r="3.5"/><circle cx="621.4" cy="527.3" r="3.5"/><circle cx="610.9" cy="533.6" r="3.5"/><circle cx="617.2" cy="535.7" r="3.5"/><circle cx="631.9" cy="535.7" r="3.5"/><circle cx="667.5" cy="535.7" r="3.5"/><circle cx="694.7" cy="535.7" r="3.5"/><circle cx="717.8" cy="535.7" r="3.5"/><circle cx="751.3" cy="533.6" r="3.5"/><circle cx="763.9" cy="508.4" r="3.5"/><circle cx="772.2" cy="502.2" r="3.5"/><circle cx="774.3" cy="514.7" r="3.5"/><circle cx="766.0" cy="518.9" r="3.5"/><circle cx="774.3" cy="527.3" r="3.5"/><circle cx="766.0" cy="529.4" r="3.5"/><circle cx="759.7" cy="535.7" r="3.5"/><circle cx="770.1" cy="535.7" r="3.5"/><circle cx="892.5" cy="394.4" r="3.5"/><circle cx="888.8" cy="401.9" r="3.5"/><circle cx="859.7" cy="405.2" r="3.5"/><circle cx="861.0" cy="413.3" r="3.5"/><circle cx="850.9" cy="407.0" r="3.5"/><circle cx="842.0" cy="412.0" r="3.5"/><circle cx="845.8" cy="420.9" r="3.5"/><circle cx="820.6" cy="412.8" r="3.5"/><circle cx="828.2" cy="417.1" r="3.5"/><circle cx="883.7" cy="414.6" r="3.5"/><circle cx="896.3" cy="413.3" r="3.5"/><circle cx="897.6" cy="415.8" r="3.5"/><circle cx="775.1" cy="423.4" r="3.5"/><circle cx="777.7" cy="425.9" r="3.5"/><circle cx="795.3" cy="425.9" r="3.5"/><circle cx="802.9" cy="423.4" r="3.5"/><circle cx="809.2" cy="429.7" r="3.5"/><circle cx="786.5" cy="433.5" r="3.5"/><circle cx="823.1" cy="427.2" r="3.5"/><circle cx="826.9" cy="427.9" r="3.5"/><circle cx="828.2" cy="428.4" r="3.5"/><circle cx="863.5" cy="428.4" r="3.5"/><circle cx="872.3" cy="423.4" r="3.5"/><circle cx="838.3" cy="437.3" r="3.5"/><circle cx="848.4" cy="441.1" r="3.5"/><circle cx="850.9" cy="447.4" r="3.5"/><circle cx="821.9" cy="439.8" r="3.5"/><circle cx="825.6" cy="443.6" r="3.5"/><circle cx="820.6" cy="449.9" r="3.5"/><circle cx="802.9" cy="447.4" r="3.5"/><circle cx="787.8" cy="443.6" r="3.5"/><circle cx="770.1" cy="444.9" r="3.5"/><circle cx="765.0" cy="448.6" r="3.5"/><circle cx="760.0" cy="437.3" r="3.5"/><circle cx="874.9" cy="438.5" r="3.5"/><circle cx="876.1" cy="442.3" r="3.5"/><circle cx="879.9" cy="443.6" r="3.5"/><circle cx="891.3" cy="438.5" r="3.5"/><circle cx="888.8" cy="448.6" r="3.5"/><circle cx="893.8" cy="451.2" r="3.5"/><circle cx="871.1" cy="451.2" r="3.5"/><circle cx="840.8" cy="452.4" r="3.5"/><circle cx="778.9" cy="456.2" r="3.5"/><circle cx="785.2" cy="456.2" r="3.5"/><circle cx="797.9" cy="456.2" r="3.5"/><circle cx="799.1" cy="457.5" r="3.5"/><circle cx="804.2" cy="461.3" r="3.5"/><circle cx="808.0" cy="463.8" r="3.5"/><circle cx="791.6" cy="465.0" r="3.5"/><circle cx="795.3" cy="471.4" r="3.5"/><circle cx="800.4" cy="468.8" r="3.5"/><circle cx="813.0" cy="471.4" r="3.5"/><circle cx="829.4" cy="470.1" r="3.5"/><circle cx="838.3" cy="470.1" r="3.5"/><circle cx="855.9" cy="456.2" r="3.5"/><circle cx="862.2" cy="457.5" r="3.5"/><circle cx="866.0" cy="461.3" r="3.5"/><circle cx="873.6" cy="462.5" r="3.5"/><circle cx="877.4" cy="456.2" r="3.5"/><circle cx="857.2" cy="465.0" r="3.5"/><circle cx="883.7" cy="467.6" r="3.5"/><circle cx="890.0" cy="466.3" r="3.5"/><circle cx="895.1" cy="473.9" r="3.5"/><circle cx="845.8" cy="480.2" r="3.5"/><circle cx="861.0" cy="478.9" r="3.5"/><circle cx="862.2" cy="480.2" r="3.5"/><circle cx="866.0" cy="477.7" r="3.5"/><circle cx="749.8" cy="510.1" r="3.5"/><circle cx="696.2" cy="519.9" r="3.5"/><circle cx="792.2" cy="534.4" r="3.5"/><circle cx="822.2" cy="491.3" r="3.5"/><circle cx="702.2" cy="540.5" r="3.5"/><circle cx="797.7" cy="515.3" r="3.5"/><circle cx="879.0" cy="481.4" r="3.5"/><circle cx="860.2" cy="503.5" r="3.5"/><circle cx="816.5" cy="528.1" r="3.5"/><circle cx="825.1" cy="487.2" r="3.5"/><circle cx="772.6" cy="499.5" r="3.5"/><circle cx="775.8" cy="526.3" r="3.5"/><circle cx="734.3" cy="529.2" r="3.5"/><circle cx="762.6" cy="537.5" r="3.5"/><circle cx="787.5" cy="540.4" r="3.5"/><circle cx="811.7" cy="536.7" r="3.5"/><circle cx="838.3" cy="505.4" r="3.5"/><circle cx="786.3" cy="506.5" r="3.5"/><circle cx="850.5" cy="502.9" r="3.5"/><circle cx="644.0" cy="525.3" r="3.5"/><circle cx="770.0" cy="507.2" r="3.5"/><circle cx="781.1" cy="514.0" r="3.5"/><circle cx="839.5" cy="525.8" r="3.5"/><circle cx="733.4" cy="513.9" r="3.5"/><circle cx="879.5" cy="474.1" r="3.5"/><circle cx="717.6" cy="539.8" r="3.5"/><circle cx="899.9" cy="509.5" r="3.5"/><circle cx="885.5" cy="501.8" r="3.5"/><circle cx="891.2" cy="510.6" r="3.5"/><circle cx="853.6" cy="538.1" r="3.5"/><circle cx="781.7" cy="530.5" r="3.5"/><circle cx="644.9" cy="541.1" r="3.5"/><circle cx="773.9" cy="534.4" r="3.5"/><circle cx="785.2" cy="523.2" r="3.5"/><circle cx="872.6" cy="484.5" r="3.5"/><circle cx="874.2" cy="480.3" r="3.5"/><circle cx="747.0" cy="514.9" r="3.5"/><circle cx="860.5" cy="533.5" r="3.5"/><circle cx="833.8" cy="525.6" r="3.5"/><circle cx="817.7" cy="520.9" r="3.5"/><circle cx="894.0" cy="514.2" r="3.5"/><circle cx="657.5" cy="518.6" r="3.5"/><circle cx="878.5" cy="530.3" r="3.5"/><circle cx="750.4" cy="536.4" r="3.5"/><circle cx="877.2" cy="500.4" r="3.5"/><circle cx="736.5" cy="541.8" r="3.5"/><circle cx="633.4" cy="541.8" r="3.5"/><circle cx="751.9" cy="539.0" r="3.5"/><circle cx="905.0" cy="484.7" r="3.5"/><circle cx="844.3" cy="501.3" r="3.5"/><circle cx="639.2" cy="525.9" r="3.5"/><circle cx="854.2" cy="494.0" r="3.5"/><circle cx="610.1" cy="540.4" r="3.5"/><circle cx="883.9" cy="500.7" r="3.5"/><circle cx="801.5" cy="520.5" r="3.5"/><circle cx="885.2" cy="487.7" r="3.5"/><circle cx="759.6" cy="514.5" r="3.5"/><circle cx="876.9" cy="485.7" r="3.5"/><circle cx="882.2" cy="482.2" r="3.5"/><circle cx="873.1" cy="480.8" r="3.5"/><circle cx="823.5" cy="497.8" r="3.5"/><circle cx="789.2" cy="541.1" r="3.5"/><circle cx="785.9" cy="511.4" r="3.5"/><circle cx="756.6" cy="511.7" r="3.5"/><circle cx="691.7" cy="539.4" r="3.5"/><circle cx="861.1" cy="491.3" r="3.5"/><circle cx="785.0" cy="530.0" r="3.5"/><circle cx="821.3" cy="530.0" r="3.5"/><circle cx="873.1" cy="482.7" r="3.5"/><circle cx="742.4" cy="505.8" r="3.5"/><circle cx="805.0" cy="527.9" r="3.5"/><circle cx="819.8" cy="519.9" r="3.5"/><circle cx="824.8" cy="499.8" r="3.5"/><circle cx="722.0" cy="534.3" r="3.5"/><circle cx="757.2" cy="537.1" r="3.5"/><circle cx="901.2" cy="528.3" r="3.5"/><circle cx="830.6" cy="505.5" r="3.5"/><circle cx="840.9" cy="499.8" r="3.5"/><circle cx="877.1" cy="487.6" r="3.5"/><circle cx="818.9" cy="523.9" r="3.5"/><circle cx="771.3" cy="491.7" r="3.5"/><circle cx="817.1" cy="486.9" r="3.5"/><circle cx="850.2" cy="488.6" r="3.5"/><circle cx="863.3" cy="503.6" r="3.5"/><circle cx="833.9" cy="537.6" r="3.5"/><circle cx="890.4" cy="489.6" r="3.5"/><circle cx="695.2" cy="512.6" r="3.5"/><circle cx="777.1" cy="524.3" r="3.5"/><circle cx="755.8" cy="516.5" r="3.5"/><circle cx="789.9" cy="499.2" r="3.5"/><circle cx="614.4" cy="532.7" r="3.5"/><circle cx="875.0" cy="501.1" r="3.5"/><circle cx="744.0" cy="511.1" r="3.5"/><circle cx="829.1" cy="498.8" r="3.5"/><circle cx="747.8" cy="516.0" r="3.5"/><circle cx="825.6" cy="504.2" r="3.5"/><circle cx="859.5" cy="478.7" r="3.5"/><circle cx="896.2" cy="516.4" r="3.5"/><circle cx="826.5" cy="496.6" r="3.5"/><circle cx="663.4" cy="530.3" r="3.5"/><circle cx="813.0" cy="532.1" r="3.5"/><circle cx="655.2" cy="531.6" r="3.5"/><circle cx="872.6" cy="481.5" r="3.5"/><circle cx="893.1" cy="502.9" r="3.5"/><circle cx="820.8" cy="509.1" r="3.5"/><circle cx="634.7" cy="538.5" r="3.5"/><circle cx="824.4" cy="512.4" r="3.5"/><circle cx="870.1" cy="481.2" r="3.5"/><circle cx="747.8" cy="527.8" r="3.5"/><circle cx="676.9" cy="520.5" r="3.5"/><circle cx="890.5" cy="531.0" r="3.5"/><circle cx="900.5" cy="531.0" r="3.5"/><circle cx="835.3" cy="515.0" r="3.5"/><circle cx="870.6" cy="480.4" r="3.5"/><circle cx="900.8" cy="523.7" r="3.5"/><circle cx="853.6" cy="537.4" r="3.5"/><circle cx="746.3" cy="510.4" r="3.5"/><circle cx="740.0" cy="512.1" r="3.5"/><circle cx="720.1" cy="536.4" r="3.5"/><circle cx="864.3" cy="534.4" r="3.5"/><circle cx="902.9" cy="476.5" r="3.5"/><circle cx="781.7" cy="497.6" r="3.5"/><circle cx="628.8" cy="541.9" r="3.5"/><circle cx="776.4" cy="541.9" r="3.5"/><circle cx="763.9" cy="539.1" r="3.5"/><circle cx="749.7" cy="516.7" r="3.5"/><circle cx="826.5" cy="526.6" r="3.5"/><circle cx="883.9" cy="476.5" r="3.5"/><circle cx="719.4" cy="515.9" r="3.5"/><circle cx="814.7" cy="496.9" r="3.5"/><circle cx="779.6" cy="514.6" r="3.5"/><circle cx="847.5" cy="494.0" r="3.5"/><circle cx="797.6" cy="519.4" r="3.5"/><circle cx="866.6" cy="490.1" r="3.5"/><circle cx="656.8" cy="522.4" r="3.5"/><circle cx="819.5" cy="536.8" r="3.5"/><circle cx="762.4" cy="509.7" r="3.5"/><circle cx="883.0" cy="518.0" r="3.5"/><circle cx="793.9" cy="512.0" r="3.5"/><circle cx="719.2" cy="511.6" r="3.5"/><circle cx="831.4" cy="528.5" r="3.5"/><circle cx="772.6" cy="523.9" r="3.5"/><circle cx="892.6" cy="515.8" r="3.5"/><circle cx="842.7" cy="493.3" r="3.5"/><circle cx="865.3" cy="517.5" r="3.5"/><circle cx="738.4" cy="510.3" r="3.5"/><circle cx="736.7" cy="527.7" r="3.5"/><circle cx="792.7" cy="535.2" r="3.5"/><circle cx="879.2" cy="503.6" r="3.5"/><circle cx="888.6" cy="505.3" r="3.5"/><circle cx="805.8" cy="509.3" r="3.5"/><circle cx="886.0" cy="528.8" r="3.5"/><circle cx="875.1" cy="518.9" r="3.5"/><circle cx="862.2" cy="485.7" r="3.5"/><circle cx="670.8" cy="537.3" r="3.5"/><circle cx="843.0" cy="518.8" r="3.5"/><circle cx="718.2" cy="536.4" r="3.5"/><circle cx="810.2" cy="531.2" r="3.5"/><circle cx="832.3" cy="528.8" r="3.5"/><circle cx="735.9" cy="541.0" r="3.5"/><circle cx="747.9" cy="530.7" r="3.5"/><circle cx="877.9" cy="480.4" r="3.5"/><circle cx="826.0" cy="538.0" r="3.5"/><circle cx="828.8" cy="532.1" r="3.5"/><circle cx="705.0" cy="531.1" r="3.5"/><circle cx="693.1" cy="522.8" r="3.5"/><circle cx="728.0" cy="530.3" r="3.5"/><circle cx="792.8" cy="526.3" r="3.5"/><circle cx="803.2" cy="490.4" r="3.5"/><circle cx="810.9" cy="504.4" r="3.5"/><circle cx="646.2" cy="541.3" r="3.5"/><circle cx="864.7" cy="517.5" r="3.5"/><circle cx="835.3" cy="498.8" r="3.5"/><circle cx="793.6" cy="513.1" r="3.5"/><circle cx="893.3" cy="541.7" r="3.5"/><circle cx="855.4" cy="535.0" r="3.5"/><circle cx="655.8" cy="539.7" r="3.5"/><circle cx="885.3" cy="519.1" r="3.5"/><circle cx="795.3" cy="521.5" r="3.5"/><circle cx="899.5" cy="501.1" r="3.5"/><circle cx="888.3" cy="508.6" r="3.5"/><circle cx="794.5" cy="535.9" r="3.5"/><circle cx="844.0" cy="492.2" r="3.5"/><circle cx="738.0" cy="502.1" r="3.5"/><circle cx="848.0" cy="514.0" r="3.5"/><circle cx="880.2" cy="520.0" r="3.5"/><circle cx="817.1" cy="510.9" r="3.5"/><circle cx="849.3" cy="507.8" r="3.5"/><circle cx="854.3" cy="505.8" r="3.5"/><circle cx="765.5" cy="526.2" r="3.5"/><circle cx="791.1" cy="528.7" r="3.5"/><circle cx="757.6" cy="500.6" r="3.5"/><circle cx="669.6" cy="523.2" r="3.5"/><circle cx="861.3" cy="507.4" r="3.5"/><circle cx="670.1" cy="541.3" r="3.5"/><circle cx="657.9" cy="539.9" r="3.5"/><circle cx="834.9" cy="529.2" r="3.5"/><circle cx="835.1" cy="520.4" r="3.5"/><circle cx="818.3" cy="523.2" r="3.5"/><circle cx="820.1" cy="508.2" r="3.5"/><circle cx="791.4" cy="527.6" r="3.5"/><circle cx="683.9" cy="523.3" r="3.5"/><circle cx="729.6" cy="511.5" r="3.5"/><circle cx="763.8" cy="501.1" r="3.5"/><circle cx="834.9" cy="482.6" r="3.5"/><circle cx="879.6" cy="493.7" r="3.5"/><circle cx="794.8" cy="489.0" r="3.5"/><circle cx="819.3" cy="530.0" r="3.5"/><circle cx="836.0" cy="534.7" r="3.5"/><circle cx="798.5" cy="534.5" r="3.5"/><circle cx="905.8" cy="488.5" r="3.5"/><circle cx="806.7" cy="521.7" r="3.5"/><circle cx="770.5" cy="507.2" r="3.5"/><circle cx="774.6" cy="495.6" r="3.5"/><circle cx="754.4" cy="518.6" r="3.5"/><circle cx="884.4" cy="505.0" r="3.5"/><circle cx="899.7" cy="519.1" r="3.5"/><circle cx="619.7" cy="525.9" r="3.5"/><circle cx="609.5" cy="532.3" r="3.5"/><circle cx="851.7" cy="502.6" r="3.5"/><circle cx="775.1" cy="498.7" r="3.5"/><circle cx="735.1" cy="507.0" r="3.5"/><circle cx="750.0" cy="529.9" r="3.5"/><circle cx="744.2" cy="521.4" r="3.5"/><circle cx="736.5" cy="504.5" r="3.5"/><circle cx="880.1" cy="506.7" r="3.5"/><circle cx="868.8" cy="537.7" r="3.5"/><circle cx="868.1" cy="499.9" r="3.5"/><circle cx="834.3" cy="517.7" r="3.5"/><circle cx="685.4" cy="521.0" r="3.5"/><circle cx="805.2" cy="509.8" r="3.5"/><circle cx="687.3" cy="538.6" r="3.5"/><circle cx="844.2" cy="541.1" r="3.5"/><circle cx="732.6" cy="518.4" r="3.5"/><circle cx="767.8" cy="537.1" r="3.5"/><circle cx="757.3" cy="540.5" r="3.5"/><circle cx="814.4" cy="514.1" r="3.5"/><circle cx="884.9" cy="536.1" r="3.5"/><circle cx="727.3" cy="536.0" r="3.5"/><circle cx="748.8" cy="515.7" r="3.5"/><circle cx="893.1" cy="514.7" r="3.5"/><circle cx="757.7" cy="522.3" r="3.5"/><circle cx="836.5" cy="532.7" r="3.5"/><circle cx="809.6" cy="526.6" r="3.5"/><circle cx="871.3" cy="496.1" r="3.5"/><circle cx="775.6" cy="528.1" r="3.5"/><circle cx="655.0" cy="541.0" r="3.5"/><circle cx="899.2" cy="510.0" r="3.5"/><circle cx="677.1" cy="525.2" r="3.5"/><circle cx="719.2" cy="538.8" r="3.5"/><circle cx="754.5" cy="524.7" r="3.5"/><circle cx="824.8" cy="502.5" r="3.5"/><circle cx="902.0" cy="532.0" r="3.5"/><circle cx="694.4" cy="512.8" r="3.5"/><circle cx="819.3" cy="521.9" r="3.5"/><circle cx="703.6" cy="524.9" r="3.5"/><circle cx="846.3" cy="498.2" r="3.5"/><circle cx="780.2" cy="512.1" r="3.5"/><circle cx="810.3" cy="507.0" r="3.5"/><circle cx="685.4" cy="518.7" r="3.5"/><circle cx="871.0" cy="515.3" r="3.5"/><circle cx="811.6" cy="541.3" r="3.5"/><circle cx="719.6" cy="508.3" r="3.5"/><circle cx="876.6" cy="517.4" r="3.5"/><circle cx="608.9" cy="538.7" r="3.5"/><circle cx="883.1" cy="525.3" r="3.5"/><circle cx="903.0" cy="489.7" r="3.5"/><circle cx="658.7" cy="532.4" r="3.5"/><circle cx="903.9" cy="540.1" r="3.5"/><circle cx="802.8" cy="521.4" r="3.5"/><circle cx="823.2" cy="541.1" r="3.5"/><circle cx="828.8" cy="513.3" r="3.5"/><circle cx="819.8" cy="519.3" r="3.5"/><circle cx="778.8" cy="536.1" r="3.5"/><circle cx="765.1" cy="500.3" r="3.5"/><circle cx="742.8" cy="530.1" r="3.5"/><circle cx="735.7" cy="529.5" r="3.5"/><circle cx="893.5" cy="525.3" r="3.5"/><circle cx="845.3" cy="486.2" r="3.5"/><circle cx="898.2" cy="480.8" r="3.5"/><circle cx="811.4" cy="509.6" r="3.5"/><circle cx="866.0" cy="487.7" r="3.5"/><circle cx="899.6" cy="532.6" r="3.5"/><circle cx="861.2" cy="515.0" r="3.5"/><circle cx="786.3" cy="511.7" r="3.5"/><circle cx="846.5" cy="521.3" r="3.5"/><circle cx="844.9" cy="510.6" r="3.5"/><circle cx="866.1" cy="500.7" r="3.5"/><circle cx="755.7" cy="531.3" r="3.5"/><circle cx="734.1" cy="515.2" r="3.5"/><circle cx="866.4" cy="499.5" r="3.5"/><circle cx="807.6" cy="532.3" r="3.5"/><circle cx="682.7" cy="535.5" r="3.5"/><circle cx="874.8" cy="492.0" r="3.5"/><circle cx="835.1" cy="482.9" r="3.5"/><circle cx="902.4" cy="521.9" r="3.5"/><circle cx="865.0" cy="499.1" r="3.5"/><circle cx="820.1" cy="536.6" r="3.5"/><circle cx="886.5" cy="532.4" r="3.5"/><circle cx="881.9" cy="493.4" r="3.5"/><circle cx="600.0" cy="527.5" r="3.5"/><circle cx="603.2" cy="530.5" r="3.5"/><circle cx="606.4" cy="527.5" r="3.5"/><circle cx="609.6" cy="530.5" r="3.5"/><circle cx="612.8" cy="527.5" r="3.5"/><circle cx="616.0" cy="530.5" r="3.5"/><circle cx="619.2" cy="527.5" r="3.5"/><circle cx="599.0" cy="535.0" r="3.5"/><circle cx="602.5" cy="535.0" r="3.5"/><circle cx="606.0" cy="535.0" r="3.5"/><circle cx="609.5" cy="535.0" r="3.5"/><circle cx="613.0" cy="535.0" r="3.5"/><circle cx="616.5" cy="535.0" r="3.5"/><circle cx="620.0" cy="535.0" r="3.5"/></g><g fill="#ff7f0e" fill-opacity="0.32" stroke="#ff7f0e" stroke-opacity="0.32" stroke-width="2.6"><circle cx="774.3" cy="423.6" r="3.5"/><circle cx="776.4" cy="424.7" r="3.5"/><circle cx="751.3" cy="440.4" r="3.5"/><circle cx="757.6" cy="437.2" r="3.5"/><circle cx="755.5" cy="446.7" r="3.5"/><circle cx="766.0" cy="447.7" r="3.5"/><circle cx="770.1" cy="445.6" r="3.5"/><circle cx="769.1" cy="448.8" r="3.5"/><circle cx="777.5" cy="457.1" r="3.5"/><circle cx="752.3" cy="464.5" r="3.5"/><circle cx="737.7" cy="464.5" r="3.5"/><circle cx="737.7" cy="466.6" r="3.5"/><circle cx="715.7" cy="446.7" r="3.5"/><circle cx="715.7" cy="447.7" r="3.5"/><circle cx="714.6" cy="455.0" r="3.5"/><circle cx="688.4" cy="458.2" r="3.5"/><circle cx="683.2" cy="466.6" r="3.5"/><circle cx="690.5" cy="468.7" r="3.5"/><circle cx="690.5" cy="469.7" r="3.5"/><circle cx="667.5" cy="469.7" r="3.5"/><circle cx="672.7" cy="469.7" r="3.5"/><circle cx="669.6" cy="469.7" r="3.5"/><circle cx="664.4" cy="482.3" r="3.5"/><circle cx="664.4" cy="483.3" r="3.5"/><circle cx="705.2" cy="478.1" r="3.5"/><circle cx="698.9" cy="480.2" r="3.5"/><circle cx="698.9" cy="484.4" r="3.5"/><circle cx="718.8" cy="466.6" r="3.5"/><circle cx="719.9" cy="472.8" r="3.5"/><circle cx="720.9" cy="479.1" r="3.5"/><circle cx="736.6" cy="480.2" r="3.5"/><circle cx="749.2" cy="479.1" r="3.5"/><circle cx="755.5" cy="483.3" r="3.5"/><circle cx="763.9" cy="483.3" r="3.5"/><circle cx="768.0" cy="489.6" r="3.5"/><circle cx="774.3" cy="490.6" r="3.5"/><circle cx="632.9" cy="492.7" r="3.5"/><circle cx="615.1" cy="502.2" r="3.5"/><circle cx="642.4" cy="502.2" r="3.5"/><circle cx="647.6" cy="510.5" r="3.5"/><circle cx="608.9" cy="514.7" r="3.5"/><circle cx="630.8" cy="516.8" r="3.5"/><circle cx="619.3" cy="521.0" r="3.5"/><circle cx="663.3" cy="505.3" r="3.5"/><circle cx="663.3" cy="507.4" r="3.5"/><circle cx="661.2" cy="510.5" r="3.5"/><circle cx="688.4" cy="493.8" r="3.5"/><circle cx="688.4" cy="502.2" r="3.5"/><circle cx="694.7" cy="489.6" r="3.5"/><circle cx="698.9" cy="491.7" r="3.5"/><circle cx="705.2" cy="495.9" r="3.5"/><circle cx="717.8" cy="494.8" r="3.5"/><circle cx="736.6" cy="492.7" r="3.5"/><circle cx="736.6" cy="514.7" r="3.5"/><circle cx="736.6" cy="517.9" r="3.5"/><circle cx="751.3" cy="491.7" r="3.5"/><circle cx="751.3" cy="495.9" r="3.5"/><circle cx="749.2" cy="514.7" r="3.5"/><circle cx="719.9" cy="510.5" r="3.5"/><circle cx="715.7" cy="518.9" r="3.5"/><circle cx="715.7" cy="527.3" r="3.5"/><circle cx="703.1" cy="518.9" r="3.5"/><circle cx="701.0" cy="526.3" r="3.5"/><circle cx="688.4" cy="514.7" r="3.5"/><circle cx="688.4" cy="518.9" r="3.5"/><circle cx="686.4" cy="529.4" r="3.5"/><circle cx="673.8" cy="523.1" r="3.5"/><circle cx="663.3" cy="527.3" r="3.5"/><circle cx="659.1" cy="526.3" r="3.5"/><circle cx="671.7" cy="529.4" r="3.5"/><circle cx="646.6" cy="527.3" r="3.5"/><circle cx="642.4" cy="518.9" r="3.5"/><circle cx="631.9" cy="527.3" r="3.5"/><circle cx="604.7" cy="527.3" r="3.5"/><circle cx="613.0" cy="527.3" r="3.5"/><circle cx="621.4" cy="527.3" r="3.5"/><circle cx="610.9" cy="533.6" r="3.5"/><circle cx="617.2" cy="535.7" r="3.5"/><circle cx="631.9" cy="535.7" r="3.5"/><circle cx="667.5" cy="535.7" r="3.5"/><circle cx="694.7" cy="535.7" r="3.5"/><circle cx="717.8" cy="535.7" r="3.5"/><circle cx="751.3" cy="533.6" r="3.5"/><circle cx="763.9" cy="508.4" r="3.5"/><circle cx="772.2" cy="502.2" r="3.5"/><circle cx="774.3" cy="514.7" r="3.5"/><circle cx="766.0" cy="518.9" r="3.5"/><circle cx="774.3" cy="527.3" r="3.5"/><circle cx="766.0" cy="529.4" r="3.5"/><circle cx="759.7" cy="535.7" r="3.5"/><circle cx="770.1" cy="535.7" r="3.5"/><circle cx="892.5" cy="394.4" r="3.5"/><circle cx="888.8" cy="401.9" r="3.5"/><circle cx="859.7" cy="405.2" r="3.5"/><circle cx="861.0" cy="413.3" r="3.5"/><circle cx="850.9" cy="407.0" r="3.5"/><circle cx="842.0" cy="412.0" r="3.5"/><circle cx="845.8" cy="420.9" r="3.5"/><circle cx="820.6" cy="412.8" r="3.5"/><circle cx="828.2" cy="417.1" r="3.5"/><circle cx="883.7" cy="414.6" r="3.5"/><circle cx="896.3" cy="413.3" r="3.5"/><circle cx="897.6" cy="415.8" r="3.5"/><circle cx="775.1" cy="423.4" r="3.5"/><circle cx="777.7" cy="425.9" r="3.5"/><circle cx="795.3" cy="425.9" r="3.5"/><circle cx="802.9" cy="423.4" r="3.5"/><circle cx="809.2" cy="429.7" r="3.5"/><circle cx="786.5" cy="433.5" r="3.5"/><circle cx="823.1" cy="427.2" r="3.5"/><circle cx="826.9" cy="427.9" r="3.5"/><circle cx="828.2" cy="428.4" r="3.5"/><circle cx="863.5" cy="428.4" r="3.5"/><circle cx="872.3" cy="423.4" r="3.5"/><circle cx="838.3" cy="437.3" r="3.5"/><circle cx="848.4" cy="441.1" r="3.5"/><circle cx="850.9" cy="447.4" r="3.5"/><circle cx="821.9" cy="439.8" r="3.5"/><circle cx="825.6" cy="443.6" r="3.5"/><circle cx="820.6" cy="449.9" r="3.5"/><circle cx="802.9" cy="447.4" r="3.5"/><circle cx="787.8" cy="443.6" r="3.5"/><circle cx="770.1" cy="444.9" r="3.5"/><circle cx="765.0" cy="448.6" r="3.5"/><circle cx="760.0" cy="437.3" r="3.5"/><circle cx="874.9" cy="438.5" r="3.5"/><circle cx="876.1" cy="442.3" r="3.5"/><circle cx="879.9" cy="443.6" r="3.5"/><circle cx="891.3" cy="438.5" r="3.5"/><circle cx="888.8" cy="448.6" r="3.5"/><circle cx="893.8" cy="451.2" r="3.5"/><circle cx="871.1" cy="451.2" r="3.5"/><circle cx="840.8" cy="452.4" r="3.5"/><circle cx="778.9" cy="456.2" r="3.5"/><circle cx="785.2" cy="456.2" r="3.5"/><circle cx="797.9" cy="456.2" r="3.5"/><circle cx="799.1" cy="457.5" r="3.5"/><circle cx="804.2" cy="461.3" r="3.5"/><circle cx="808.0" cy="463.8" r="3.5"/><circle cx="791.6" cy="465.0" r="3.5"/><circle cx="795.3" cy="471.4" r="3.5"/><circle cx="800.4" cy="468.8" r="3.5"/><circle cx="813.0" cy="471.4" r="3.5"/><circle cx="829.4" cy="470.1" r="3.5"/><circle cx="838.3" cy="470.1" r="3.5"/><circle cx="855.9" cy="456.2" r="3.5"/><circle cx="862.2" cy="457.5" r="3.5"/><circle cx="866.0" cy="461.3" r="3.5"/><circle cx="873.6" cy="462.5" r="3.5"/><circle cx="877.4" cy="456.2" r="3.5"/><circle cx="857.2" cy="465.0" r="3.5"/><circle cx="883.7" cy="467.6" r="3.5"/><circle cx="890.0" cy="466.3" r="3.5"/><circle cx="895.1" cy="473.9" r="3.5"/><circle cx="845.8" cy="480.2" r="3.5"/><circle cx="861.0" cy="478.9" r="3.5"/><circle cx="862.2" cy="480.2" r="3.5"/><circle cx="866.0" cy="477.7" r="3.5"/><circle cx="749.8" cy="510.1" r="3.5"/><circle cx="696.2" cy="519.9" r="3.5"/><circle cx="792.2" cy="534.4" r="3.5"/><circle cx="822.2" cy="491.3" r="3.5"/><circle cx="702.2" cy="540.5" r="3.5"/><circle cx="797.7" cy="515.3" r="3.5"/><circle cx="879.0" cy="481.4" r="3.5"/><circle cx="860.2" cy="503.5" r="3.5"/><circle cx="816.5" cy="528.1" r="3.5"/><circle cx="825.1" cy="487.2" r="3.5"/><circle cx="772.6" cy="499.5" r="3.5"/><circle cx="775.8" cy="526.3" r="3.5"/><circle cx="734.3" cy="529.2" r="3.5"/><circle cx="762.6" cy="537.5" r="3.5"/><circle cx="787.5" cy="540.4" r="3.5"/><circle cx="811.7" cy="536.7" r="3.5"/><circle cx="838.3" cy="505.4" r="3.5"/><circle cx="786.3" cy="506.5" r="3.5"/><circle cx="850.5" cy="502.9" r="3.5"/><circle cx="644.0" cy="525.3" r="3.5"/><circle cx="770.0" cy="507.2" r="3.5"/><circle cx="781.1" cy="514.0" r="3.5"/><circle cx="839.5" cy="525.8" r="3.5"/><circle cx="733.4" cy="513.9" r="3.5"/><circle cx="879.5" cy="474.1" r="3.5"/><circle cx="717.6" cy="539.8" r="3.5"/><circle cx="899.9" cy="509.5" r="3.5"/><circle cx="885.5" cy="501.8" r="3.5"/><circle cx="891.2" cy="510.6" r="3.5"/><circle cx="853.6" cy="538.1" r="3.5"/><circle cx="781.7" cy="530.5" r="3.5"/><circle cx="644.9" cy="541.1" r="3.5"/><circle cx="773.9" cy="534.4" r="3.5"/><circle cx="785.2" cy="523.2" r="3.5"/><circle cx="872.6" cy="484.5" r="3.5"/><circle cx="874.2" cy="480.3" r="3.5"/><circle cx="747.0" cy="514.9" r="3.5"/><circle cx="860.5" cy="533.5" r="3.5"/><circle cx="833.8" cy="525.6" r="3.5"/><circle cx="817.7" cy="520.9" r="3.5"/><circle cx="894.0" cy="514.2" r="3.5"/><circle cx="657.5" cy="518.6" r="3.5"/><circle cx="878.5" cy="530.3" r="3.5"/><circle cx="750.4" cy="536.4" r="3.5"/><circle cx="877.2" cy="500.4" r="3.5"/><circle cx="736.5" cy="541.8" r="3.5"/><circle cx="633.4" cy="541.8" r="3.5"/><circle cx="751.9" cy="539.0" r="3.5"/><circle cx="905.0" cy="484.7" r="3.5"/><circle cx="844.3" cy="501.3" r="3.5"/><circle cx="639.2" cy="525.9" r="3.5"/><circle cx="854.2" cy="494.0" r="3.5"/><circle cx="610.1" cy="540.4" r="3.5"/><circle cx="883.9" cy="500.7" r="3.5"/><circle cx="801.5" cy="520.5" r="3.5"/><circle cx="885.2" cy="487.7" r="3.5"/><circle cx="759.6" cy="514.5" r="3.5"/><circle cx="876.9" cy="485.7" r="3.5"/><circle cx="882.2" cy="482.2" r="3.5"/><circle cx="873.1" cy="480.8" r="3.5"/><circle cx="823.5" cy="497.8" r="3.5"/><circle cx="789.2" cy="541.1" r="3.5"/><circle cx="785.9" cy="511.4" r="3.5"/><circle cx="756.6" cy="511.7" r="3.5"/><circle cx="691.7" cy="539.4" r="3.5"/><circle cx="861.1" cy="491.3" r="3.5"/><circle cx="785.0" cy="530.0" r="3.5"/><circle cx="821.3" cy="530.0" r="3.5"/><circle cx="873.1" cy="482.7" r="3.5"/><circle cx="742.4" cy="505.8" r="3.5"/><circle cx="805.0" cy="527.9" r="3.5"/><circle cx="819.8" cy="519.9" r="3.5"/><circle cx="824.8" cy="499.8" r="3.5"/><circle cx="722.0" cy="534.3" r="3.5"/><circle cx="757.2" cy="537.1" r="3.5"/><circle cx="901.2" cy="528.3" r="3.5"/><circle cx="830.6" cy="505.5" r="3.5"/><circle cx="840.9" cy="499.8" r="3.5"/><circle cx="877.1" cy="487.6" r="3.5"/><circle cx="818.9" cy="523.9" r="3.5"/><circle cx="771.3" cy="491.7" r="3.5"/><circle cx="817.1" cy="486.9" r="3.5"/><circle cx="850.2" cy="488.6" r="3.5"/><circle cx="863.3" cy="503.6" r="3.5"/><circle cx="833.9" cy="537.6" r="3.5"/><circle cx="890.4" cy="489.6" r="3.5"/><circle cx="695.2" cy="512.6" r="3.5"/><circle cx="777.1" cy="524.3" r="3.5"/><circle cx="755.8" cy="516.5" r="3.5"/><circle cx="789.9" cy="499.2" r="3.5"/><circle cx="614.4" cy="532.7" r="3.5"/><circle cx="875.0" cy="501.1" r="3.5"/><circle cx="744.0" cy="511.1" r="3.5"/><circle cx="829.1" cy="498.8" r="3.5"/><circle cx="747.8" cy="516.0" r="3.5"/><circle cx="825.6" cy="504.2" r="3.5"/><circle cx="859.5" cy="478.7" r="3.5"/><circle cx="896.2" cy="516.4" r="3.5"/><circle cx="826.5" cy="496.6" r="3.5"/><circle cx="663.4" cy="530.3" r="3.5"/><circle cx="813.0" cy="532.1" r="3.5"/><circle cx="655.2" cy="531.6" r="3.5"/><circle cx="872.6" cy="481.5" r="3.5"/><circle cx="893.1" cy="502.9" r="3.5"/><circle cx="820.8" cy="509.1" r="3.5"/><circle cx="634.7" cy="538.5" r="3.5"/><circle cx="824.4" cy="512.4" r="3.5"/><circle cx="870.1" cy="481.2" r="3.5"/><circle cx="747.8" cy="527.8" r="3.5"/><circle cx="676.9" cy="520.5" r="3.5"/><circle cx="890.5" cy="531.0" r="3.5"/><circle cx="900.5" cy="531.0" r="3.5"/><circle cx="835.3" cy="515.0" r="3.5"/><circle cx="870.6" cy="480.4" r="3.5"/><circle cx="900.8" cy="523.7" r="3.5"/><circle cx="853.6" cy="537.4" r="3.5"/><circle cx="746.3" cy="510.4" r="3.5"/><circle cx="740.0" cy="512.1" r="3.5"/><circle cx="720.1" cy="536.4" r="3.5"/><circle cx="864.3" cy="534.4" r="3.5"/><circle cx="902.9" cy="476.5" r="3.5"/><circle cx="781.7" cy="497.6" r="3.5"/><circle cx="628.8" cy="541.9" r="3.5"/><circle cx="776.4" cy="541.9" r="3.5"/><circle cx="763.9" cy="539.1" r="3.5"/><circle cx="749.7" cy="516.7" r="3.5"/><circle cx="826.5" cy="526.6" r="3.5"/><circle cx="883.9" cy="476.5" r="3.5"/><circle cx="719.4" cy="515.9" r="3.5"/><circle cx="814.7" cy="496.9" r="3.5"/><circle cx="779.6" cy="514.6" r="3.5"/><circle cx="847.5" cy="494.0" r="3.5"/><circle cx="797.6" cy="519.4" r="3.5"/><circle cx="866.6" cy="490.1" r="3.5"/><circle cx="656.8" cy="522.4" r="3.5"/><circle cx="819.5" cy="536.8" r="3.5"/><circle cx="762.4" cy="509.7" r="3.5"/><circle cx="883.0" cy="518.0" r="3.5"/><circle cx="793.9" cy="512.0" r="3.5"/><circle cx="719.2" cy="511.6" r="3.5"/><circle cx="831.4" cy="528.5" r="3.5"/><circle cx="772.6" cy="523.9" r="3.5"/><circle cx="892.6" cy="515.8" r="3.5"/><circle cx="842.7" cy="493.3" r="3.5"/><circle cx="865.3" cy="517.5" r="3.5"/><circle cx="738.4" cy="510.3" r="3.5"/><circle cx="736.7" cy="527.7" r="3.5"/><circle cx="792.7" cy="535.2" r="3.5"/><circle cx="879.2" cy="503.6" r="3.5"/><circle cx="888.6" cy="505.3" r="3.5"/><circle cx="805.8" cy="509.3" r="3.5"/><circle cx="886.0" cy="528.8" r="3.5"/><circle cx="875.1" cy="518.9" r="3.5"/><circle cx="862.2" cy="485.7" r="3.5"/><circle cx="670.8" cy="537.3" r="3.5"/><circle cx="843.0" cy="518.8" r="3.5"/><circle cx="718.2" cy="536.4" r="3.5"/><circle cx="810.2" cy="531.2" r="3.5"/><circle cx="832.3" cy="528.8" r="3.5"/><circle cx="735.9" cy="541.0" r="3.5"/><circle cx="747.9" cy="530.7" r="3.5"/><circle cx="877.9" cy="480.4" r="3.5"/><circle cx="826.0" cy="538.0" r="3.5"/><circle cx="828.8" cy="532.1" r="3.5"/><circle cx="705.0" cy="531.1" r="3.5"/><circle cx="693.1" cy="522.8" r="3.5"/><circle cx="728.0" cy="530.3" r="3.5"/><circle cx="792.8" cy="526.3" r="3.5"/><circle cx="803.2" cy="490.4" r="3.5"/><circle cx="810.9" cy="504.4" r="3.5"/><circle cx="646.2" cy="541.3" r="3.5"/><circle cx="864.7" cy="517.5" r="3.5"/><circle cx="835.3" cy="498.8" r="3.5"/><circle cx="793.6" cy="513.1" r="3.5"/><circle cx="893.3" cy="541.7" r="3.5"/><circle cx="855.4" cy="535.0" r="3.5"/><circle cx="655.8" cy="539.7" r="3.5"/><circle cx="885.3" cy="519.1" r="3.5"/><circle cx="795.3" cy="521.5" r="3.5"/><circle cx="899.5" cy="501.1" r="3.5"/><circle cx="888.3" cy="508.6" r="3.5"/><circle cx="794.5" cy="535.9" r="3.5"/><circle cx="844.0" cy="492.2" r="3.5"/><circle cx="738.0" cy="502.1" r="3.5"/><circle cx="848.0" cy="514.0" r="3.5"/><circle cx="880.2" cy="520.0" r="3.5"/><circle cx="817.1" cy="510.9" r="3.5"/><circle cx="849.3" cy="507.8" r="3.5"/><circle cx="854.3" cy="505.8" r="3.5"/><circle cx="765.5" cy="526.2" r="3.5"/><circle cx="791.1" cy="528.7" r="3.5"/><circle cx="757.6" cy="500.6" r="3.5"/><circle cx="669.6" cy="523.2" r="3.5"/><circle cx="861.3" cy="507.4" r="3.5"/><circle cx="670.1" cy="541.3" r="3.5"/><circle cx="657.9" cy="539.9" r="3.5"/><circle cx="834.9" cy="529.2" r="3.5"/><circle cx="835.1" cy="520.4" r="3.5"/><circle cx="818.3" cy="523.2" r="3.5"/><circle cx="820.1" cy="508.2" r="3.5"/><circle cx="791.4" cy="527.6" r="3.5"/><circle cx="683.9" cy="523.3" r="3.5"/><circle cx="729.6" cy="511.5" r="3.5"/><circle cx="763.8" cy="501.1" r="3.5"/><circle cx="834.9" cy="482.6" r="3.5"/><circle cx="879.6" cy="493.7" r="3.5"/><circle cx="794.8" cy="489.0" r="3.5"/><circle cx="819.3" cy="530.0" r="3.5"/><circle cx="836.0" cy="534.7" r="3.5"/><circle cx="798.5" cy="534.5" r="3.5"/><circle cx="905.8" cy="488.5" r="3.5"/><circle cx="806.7" cy="521.7" r="3.5"/><circle cx="770.5" cy="507.2" r="3.5"/><circle cx="774.6" cy="495.6" r="3.5"/><circle cx="754.4" cy="518.6" r="3.5"/><circle cx="884.4" cy="505.0" r="3.5"/><circle cx="899.7" cy="519.1" r="3.5"/><circle cx="619.7" cy="525.9" r="3.5"/><circle cx="609.5" cy="532.3" r="3.5"/><circle cx="851.7" cy="502.6" r="3.5"/><circle cx="775.1" cy="498.7" r="3.5"/><circle cx="735.1" cy="507.0" r="3.5"/><circle cx="750.0" cy="529.9" r="3.5"/><circle cx="744.2" cy="521.4" r="3.5"/><circle cx="736.5" cy="504.5" r="3.5"/><circle cx="880.1" cy="506.7" r="3.5"/><circle cx="868.8" cy="537.7" r="3.5"/><circle cx="868.1" cy="499.9" r="3.5"/><circle cx="834.3" cy="517.7" r="3.5"/><circle cx="685.4" cy="521.0" r="3.5"/><circle cx="805.2" cy="509.8" r="3.5"/><circle cx="687.3" cy="538.6" r="3.5"/><circle cx="844.2" cy="541.1" r="3.5"/><circle cx="732.6" cy="518.4" r="3.5"/><circle cx="767.8" cy="537.1" r="3.5"/><circle cx="757.3" cy="540.5" r="3.5"/><circle cx="814.4" cy="514.1" r="3.5"/><circle cx="884.9" cy="536.1" r="3.5"/><circle cx="727.3" cy="536.0" r="3.5"/><circle cx="748.8" cy="515.7" r="3.5"/><circle cx="893.1" cy="514.7" r="3.5"/><circle cx="757.7" cy="522.3" r="3.5"/><circle cx="836.5" cy="532.7" r="3.5"/><circle cx="809.6" cy="526.6" r="3.5"/><circle cx="871.3" cy="496.1" r="3.5"/><circle cx="775.6" cy="528.1" r="3.5"/><circle cx="655.0" cy="541.0" r="3.5"/><circle cx="899.2" cy="510.0" r="3.5"/><circle cx="677.1" cy="525.2" r="3.5"/><circle cx="719.2" cy="538.8" r="3.5"/><circle cx="754.5" cy="524.7" r="3.5"/><circle cx="824.8" cy="502.5" r="3.5"/><circle cx="902.0" cy="532.0" r="3.5"/><circle cx="694.4" cy="512.8" r="3.5"/><circle cx="819.3" cy="521.9" r="3.5"/><circle cx="703.6" cy="524.9" r="3.5"/><circle cx="846.3" cy="498.2" r="3.5"/><circle cx="780.2" cy="512.1" r="3.5"/><circle cx="810.3" cy="507.0" r="3.5"/><circle cx="685.4" cy="518.7" r="3.5"/><circle cx="871.0" cy="515.3" r="3.5"/><circle cx="811.6" cy="541.3" r="3.5"/><circle cx="719.6" cy="508.3" r="3.5"/><circle cx="876.6" cy="517.4" r="3.5"/><circle cx="608.9" cy="538.7" r="3.5"/><circle cx="883.1" cy="525.3" r="3.5"/><circle cx="903.0" cy="489.7" r="3.5"/><circle cx="658.7" cy="532.4" r="3.5"/><circle cx="903.9" cy="540.1" r="3.5"/><circle cx="802.8" cy="521.4" r="3.5"/><circle cx="823.2" cy="541.1" r="3.5"/><circle cx="828.8" cy="513.3" r="3.5"/><circle cx="819.8" cy="519.3" r="3.5"/><circle cx="778.8" cy="536.1" r="3.5"/><circle cx="765.1" cy="500.3" r="3.5"/><circle cx="742.8" cy="530.1" r="3.5"/><circle cx="735.7" cy="529.5" r="3.5"/><circle cx="893.5" cy="525.3" r="3.5"/><circle cx="845.3" cy="486.2" r="3.5"/><circle cx="898.2" cy="480.8" r="3.5"/><circle cx="811.4" cy="509.6" r="3.5"/><circle cx="866.0" cy="487.7" r="3.5"/><circle cx="899.6" cy="532.6" r="3.5"/><circle cx="861.2" cy="515.0" r="3.5"/><circle cx="786.3" cy="511.7" r="3.5"/><circle cx="846.5" cy="521.3" r="3.5"/><circle cx="844.9" cy="510.6" r="3.5"/><circle cx="866.1" cy="500.7" r="3.5"/><circle cx="755.7" cy="531.3" r="3.5"/><circle cx="734.1" cy="515.2" r="3.5"/><circle cx="866.4" cy="499.5" r="3.5"/><circle cx="807.6" cy="532.3" r="3.5"/><circle cx="682.7" cy="535.5" r="3.5"/><circle cx="874.8" cy="492.0" r="3.5"/><circle cx="835.1" cy="482.9" r="3.5"/><circle cx="902.4" cy="521.9" r="3.5"/><circle cx="865.0" cy="499.1" r="3.5"/><circle cx="820.1" cy="536.6" r="3.5"/><circle cx="886.5" cy="532.4" r="3.5"/><circle cx="881.9" cy="493.4" r="3.5"/><circle cx="600.0" cy="527.5" r="3.5"/><circle cx="603.2" cy="530.5" r="3.5"/><circle cx="606.4" cy="527.5" r="3.5"/><circle cx="609.6" cy="530.5" r="3.5"/><circle cx="612.8" cy="527.5" r="3.5"/><circle cx="616.0" cy="530.5" r="3.5"/><circle cx="619.2" cy="527.5" r="3.5"/><circle cx="599.0" cy="535.0" r="3.5"/><circle cx="602.5" cy="535.0" r="3.5"/><circle cx="606.0" cy="535.0" r="3.5"/><circle cx="609.5" cy="535.0" r="3.5"/><circle cx="613.0" cy="535.0" r="3.5"/><circle cx="616.5" cy="535.0" r="3.5"/><circle cx="620.0" cy="535.0" r="3.5"/></g><g fill="#1f77b4" fill-opacity="0.32" stroke="#1f77b4" stroke-opacity="0.32" stroke-width="2.6"><circle cx="774.3" cy="423.6" r="3.5"/><circle cx="776.4" cy="424.7" r="3.5"/><circle cx="751.3" cy="440.4" r="3.5"/><circle cx="757.6" cy="437.2" r="3.5"/><circle cx="755.5" cy="446.7" r="3.5"/><circle cx="766.0" cy="447.7" r="3.5"/><circle cx="770.1" cy="445.6" r="3.5"/><circle cx="769.1" cy="448.8" r="3.5"/><circle cx="777.5" cy="457.1" r="3.5"/><circle cx="752.3" cy="464.5" r="3.5"/><circle cx="737.7" cy="464.5" r="3.5"/><circle cx="737.7" cy="466.6" r="3.5"/><circle cx="715.7" cy="446.7" r="3.5"/><circle cx="715.7" cy="447.7" r="3.5"/><circle cx="714.6" cy="455.0" r="3.5"/><circle cx="688.4" cy="458.2" r="3.5"/><circle cx="683.2" cy="466.6" r="3.5"/><circle cx="690.5" cy="468.7" r="3.5"/><circle cx="690.5" cy="469.7" r="3.5"/><circle cx="667.5" cy="469.7" r="3.5"/><circle cx="672.7" cy="469.7" r="3.5"/><circle cx="669.6" cy="469.7" r="3.5"/><circle cx="664.4" cy="482.3" r="3.5"/><circle cx="664.4" cy="483.3" r="3.5"/><circle cx="705.2" cy="478.1" r="3.5"/><circle cx="698.9" cy="480.2" r="3.5"/><circle cx="698.9" cy="484.4" r="3.5"/><circle cx="718.8" cy="466.6" r="3.5"/><circle cx="719.9" cy="472.8" r="3.5"/><circle cx="720.9" cy="479.1" r="3.5"/><circle cx="736.6" cy="480.2" r="3.5"/><circle cx="749.2" cy="479.1" r="3.5"/><circle cx="755.5" cy="483.3" r="3.5"/><circle cx="763.9" cy="483.3" r="3.5"/><circle cx="768.0" cy="489.6" r="3.5"/><circle cx="774.3" cy="490.6" r="3.5"/><circle cx="632.9" cy="492.7" r="3.5"/><circle cx="615.1" cy="502.2" r="3.5"/><circle cx="642.4" cy="502.2" r="3.5"/><circle cx="647.6" cy="510.5" r="3.5"/><circle cx="608.9" cy="514.7" r="3.5"/><circle cx="630.8" cy="516.8" r="3.5"/><circle cx="619.3" cy="521.0" r="3.5"/><circle cx="663.3" cy="505.3" r="3.5"/><circle cx="663.3" cy="507.4" r="3.5"/><circle cx="661.2" cy="510.5" r="3.5"/><circle cx="688.4" cy="493.8" r="3.5"/><circle cx="688.4" cy="502.2" r="3.5"/><circle cx="694.7" cy="489.6" r="3.5"/><circle cx="698.9" cy="491.7" r="3.5"/><circle cx="705.2" cy="495.9" r="3.5"/><circle cx="717.8" cy="494.8" r="3.5"/><circle cx="736.6" cy="492.7" r="3.5"/><circle cx="736.6" cy="514.7" r="3.5"/><circle cx="736.6" cy="517.9" r="3.5"/><circle cx="751.3" cy="491.7" r="3.5"/><circle cx="751.3" cy="495.9" r="3.5"/><circle cx="749.2" cy="514.7" r="3.5"/><circle cx="719.9" cy="510.5" r="3.5"/><circle cx="715.7" cy="518.9" r="3.5"/><circle cx="715.7" cy="527.3" r="3.5"/><circle cx="703.1" cy="518.9" r="3.5"/><circle cx="701.0" cy="526.3" r="3.5"/><circle cx="688.4" cy="514.7" r="3.5"/><circle cx="688.4" cy="518.9" r="3.5"/><circle cx="686.4" cy="529.4" r="3.5"/><circle cx="673.8" cy="523.1" r="3.5"/><circle cx="663.3" cy="527.3" r="3.5"/><circle cx="659.1" cy="526.3" r="3.5"/><circle cx="671.7" cy="529.4" r="3.5"/><circle cx="646.6" cy="527.3" r="3.5"/><circle cx="642.4" cy="518.9" r="3.5"/><circle cx="631.9" cy="527.3" r="3.5"/><circle cx="604.7" cy="527.3" r="3.5"/><circle cx="613.0" cy="527.3" r="3.5"/><circle cx="621.4" cy="527.3" r="3.5"/><circle cx="610.9" cy="533.6" r="3.5"/><circle cx="617.2" cy="535.7" r="3.5"/><circle cx="631.9" cy="535.7" r="3.5"/><circle cx="667.5" cy="535.7" r="3.5"/><circle cx="694.7" cy="535.7" r="3.5"/><circle cx="717.8" cy="535.7" r="3.5"/><circle cx="751.3" cy="533.6" r="3.5"/><circle cx="763.9" cy="508.4" r="3.5"/><circle cx="772.2" cy="502.2" r="3.5"/><circle cx="774.3" cy="514.7" r="3.5"/><circle cx="766.0" cy="518.9" r="3.5"/><circle cx="774.3" cy="527.3" r="3.5"/><circle cx="766.0" cy="529.4" r="3.5"/><circle cx="759.7" cy="535.7" r="3.5"/><circle cx="770.1" cy="535.7" r="3.5"/><circle cx="892.5" cy="394.4" r="3.5"/><circle cx="888.8" cy="401.9" r="3.5"/><circle cx="859.7" cy="405.2" r="3.5"/><circle cx="861.0" cy="413.3" r="3.5"/><circle cx="850.9" cy="407.0" r="3.5"/><circle cx="842.0" cy="412.0" r="3.5"/><circle cx="845.8" cy="420.9" r="3.5"/><circle cx="820.6" cy="412.8" r="3.5"/><circle cx="828.2" cy="417.1" r="3.5"/><circle cx="883.7" cy="414.6" r="3.5"/><circle cx="896.3" cy="413.3" r="3.5"/><circle cx="897.6" cy="415.8" r="3.5"/><circle cx="775.1" cy="423.4" r="3.5"/><circle cx="777.7" cy="425.9" r="3.5"/><circle cx="795.3" cy="425.9" r="3.5"/><circle cx="802.9" cy="423.4" r="3.5"/><circle cx="809.2" cy="429.7" r="3.5"/><circle cx="786.5" cy="433.5" r="3.5"/><circle cx="823.1" cy="427.2" r="3.5"/><circle cx="826.9" cy="427.9" r="3.5"/><circle cx="828.2" cy="428.4" r="3.5"/><circle cx="863.5" cy="428.4" r="3.5"/><circle cx="872.3" cy="423.4" r="3.5"/><circle cx="838.3" cy="437.3" r="3.5"/><circle cx="848.4" cy="441.1" r="3.5"/><circle cx="850.9" cy="447.4" r="3.5"/><circle cx="821.9" cy="439.8" r="3.5"/><circle cx="825.6" cy="443.6" r="3.5"/><circle cx="820.6" cy="449.9" r="3.5"/><circle cx="802.9" cy="447.4" r="3.5"/><circle cx="787.8" cy="443.6" r="3.5"/><circle cx="770.1" cy="444.9" r="3.5"/><circle cx="765.0" cy="448.6" r="3.5"/><circle cx="760.0" cy="437.3" r="3.5"/><circle cx="874.9" cy="438.5" r="3.5"/><circle cx="876.1" cy="442.3" r="3.5"/><circle cx="879.9" cy="443.6" r="3.5"/><circle cx="891.3" cy="438.5" r="3.5"/><circle cx="888.8" cy="448.6" r="3.5"/><circle cx="893.8" cy="451.2" r="3.5"/><circle cx="871.1" cy="451.2" r="3.5"/><circle cx="840.8" cy="452.4" r="3.5"/><circle cx="778.9" cy="456.2" r="3.5"/><circle cx="785.2" cy="456.2" r="3.5"/><circle cx="797.9" cy="456.2" r="3.5"/><circle cx="799.1" cy="457.5" r="3.5"/><circle cx="804.2" cy="461.3" r="3.5"/><circle cx="808.0" cy="463.8" r="3.5"/><circle cx="791.6" cy="465.0" r="3.5"/><circle cx="795.3" cy="471.4" r="3.5"/><circle cx="800.4" cy="468.8" r="3.5"/><circle cx="813.0" cy="471.4" r="3.5"/><circle cx="829.4" cy="470.1" r="3.5"/><circle cx="838.3" cy="470.1" r="3.5"/><circle cx="855.9" cy="456.2" r="3.5"/><circle cx="862.2" cy="457.5" r="3.5"/><circle cx="866.0" cy="461.3" r="3.5"/><circle cx="873.6" cy="462.5" r="3.5"/><circle cx="877.4" cy="456.2" r="3.5"/><circle cx="857.2" cy="465.0" r="3.5"/><circle cx="883.7" cy="467.6" r="3.5"/><circle cx="890.0" cy="466.3" r="3.5"/><circle cx="895.1" cy="473.9" r="3.5"/><circle cx="845.8" cy="480.2" r="3.5"/><circle cx="861.0" cy="478.9" r="3.5"/><circle cx="862.2" cy="480.2" r="3.5"/><circle cx="866.0" cy="477.7" r="3.5"/><circle cx="749.8" cy="510.1" r="3.5"/><circle cx="696.2" cy="519.9" r="3.5"/><circle cx="792.2" cy="534.4" r="3.5"/><circle cx="822.2" cy="491.3" r="3.5"/><circle cx="702.2" cy="540.5" r="3.5"/><circle cx="797.7" cy="515.3" r="3.5"/><circle cx="879.0" cy="481.4" r="3.5"/><circle cx="860.2" cy="503.5" r="3.5"/><circle cx="816.5" cy="528.1" r="3.5"/><circle cx="825.1" cy="487.2" r="3.5"/><circle cx="772.6" cy="499.5" r="3.5"/><circle cx="775.8" cy="526.3" r="3.5"/><circle cx="734.3" cy="529.2" r="3.5"/><circle cx="762.6" cy="537.5" r="3.5"/><circle cx="787.5" cy="540.4" r="3.5"/><circle cx="811.7" cy="536.7" r="3.5"/><circle cx="838.3" cy="505.4" r="3.5"/><circle cx="786.3" cy="506.5" r="3.5"/><circle cx="850.5" cy="502.9" r="3.5"/><circle cx="644.0" cy="525.3" r="3.5"/><circle cx="770.0" cy="507.2" r="3.5"/><circle cx="781.1" cy="514.0" r="3.5"/><circle cx="839.5" cy="525.8" r="3.5"/><circle cx="733.4" cy="513.9" r="3.5"/><circle cx="879.5" cy="474.1" r="3.5"/><circle cx="717.6" cy="539.8" r="3.5"/><circle cx="899.9" cy="509.5" r="3.5"/><circle cx="885.5" cy="501.8" r="3.5"/><circle cx="891.2" cy="510.6" r="3.5"/><circle cx="853.6" cy="538.1" r="3.5"/><circle cx="781.7" cy="530.5" r="3.5"/><circle cx="644.9" cy="541.1" r="3.5"/><circle cx="773.9" cy="534.4" r="3.5"/><circle cx="785.2" cy="523.2" r="3.5"/><circle cx="872.6" cy="484.5" r="3.5"/><circle cx="874.2" cy="480.3" r="3.5"/><circle cx="747.0" cy="514.9" r="3.5"/><circle cx="860.5" cy="533.5" r="3.5"/><circle cx="833.8" cy="525.6" r="3.5"/><circle cx="817.7" cy="520.9" r="3.5"/><circle cx="894.0" cy="514.2" r="3.5"/><circle cx="657.5" cy="518.6" r="3.5"/><circle cx="878.5" cy="530.3" r="3.5"/><circle cx="750.4" cy="536.4" r="3.5"/><circle cx="877.2" cy="500.4" r="3.5"/><circle cx="736.5" cy="541.8" r="3.5"/><circle cx="633.4" cy="541.8" r="3.5"/><circle cx="751.9" cy="539.0" r="3.5"/><circle cx="905.0" cy="484.7" r="3.5"/><circle cx="844.3" cy="501.3" r="3.5"/><circle cx="639.2" cy="525.9" r="3.5"/><circle cx="854.2" cy="494.0" r="3.5"/><circle cx="610.1" cy="540.4" r="3.5"/><circle cx="883.9" cy="500.7" r="3.5"/><circle cx="801.5" cy="520.5" r="3.5"/><circle cx="885.2" cy="487.7" r="3.5"/><circle cx="759.6" cy="514.5" r="3.5"/><circle cx="876.9" cy="485.7" r="3.5"/><circle cx="882.2" cy="482.2" r="3.5"/><circle cx="873.1" cy="480.8" r="3.5"/><circle cx="823.5" cy="497.8" r="3.5"/><circle cx="789.2" cy="541.1" r="3.5"/><circle cx="785.9" cy="511.4" r="3.5"/><circle cx="756.6" cy="511.7" r="3.5"/><circle cx="691.7" cy="539.4" r="3.5"/><circle cx="861.1" cy="491.3" r="3.5"/><circle cx="785.0" cy="530.0" r="3.5"/><circle cx="821.3" cy="530.0" r="3.5"/><circle cx="873.1" cy="482.7" r="3.5"/><circle cx="742.4" cy="505.8" r="3.5"/><circle cx="805.0" cy="527.9" r="3.5"/><circle cx="819.8" cy="519.9" r="3.5"/><circle cx="824.8" cy="499.8" r="3.5"/><circle cx="722.0" cy="534.3" r="3.5"/><circle cx="757.2" cy="537.1" r="3.5"/><circle cx="901.2" cy="528.3" r="3.5"/><circle cx="830.6" cy="505.5" r="3.5"/><circle cx="840.9" cy="499.8" r="3.5"/><circle cx="877.1" cy="487.6" r="3.5"/><circle cx="818.9" cy="523.9" r="3.5"/><circle cx="771.3" cy="491.7" r="3.5"/><circle cx="817.1" cy="486.9" r="3.5"/><circle cx="850.2" cy="488.6" r="3.5"/><circle cx="863.3" cy="503.6" r="3.5"/><circle cx="833.9" cy="537.6" r="3.5"/><circle cx="890.4" cy="489.6" r="3.5"/><circle cx="695.2" cy="512.6" r="3.5"/><circle cx="777.1" cy="524.3" r="3.5"/><circle cx="755.8" cy="516.5" r="3.5"/><circle cx="789.9" cy="499.2" r="3.5"/><circle cx="614.4" cy="532.7" r="3.5"/><circle cx="875.0" cy="501.1" r="3.5"/><circle cx="744.0" cy="511.1" r="3.5"/><circle cx="829.1" cy="498.8" r="3.5"/><circle cx="747.8" cy="516.0" r="3.5"/><circle cx="825.6" cy="504.2" r="3.5"/><circle cx="859.5" cy="478.7" r="3.5"/><circle cx="896.2" cy="516.4" r="3.5"/><circle cx="826.5" cy="496.6" r="3.5"/><circle cx="663.4" cy="530.3" r="3.5"/><circle cx="813.0" cy="532.1" r="3.5"/><circle cx="655.2" cy="531.6" r="3.5"/><circle cx="872.6" cy="481.5" r="3.5"/><circle cx="893.1" cy="502.9" r="3.5"/><circle cx="820.8" cy="509.1" r="3.5"/><circle cx="634.7" cy="538.5" r="3.5"/><circle cx="824.4" cy="512.4" r="3.5"/><circle cx="870.1" cy="481.2" r="3.5"/><circle cx="747.8" cy="527.8" r="3.5"/><circle cx="676.9" cy="520.5" r="3.5"/><circle cx="890.5" cy="531.0" r="3.5"/><circle cx="900.5" cy="531.0" r="3.5"/><circle cx="835.3" cy="515.0" r="3.5"/><circle cx="870.6" cy="480.4" r="3.5"/><circle cx="900.8" cy="523.7" r="3.5"/><circle cx="853.6" cy="537.4" r="3.5"/><circle cx="746.3" cy="510.4" r="3.5"/><circle cx="740.0" cy="512.1" r="3.5"/><circle cx="720.1" cy="536.4" r="3.5"/><circle cx="864.3" cy="534.4" r="3.5"/><circle cx="902.9" cy="476.5" r="3.5"/><circle cx="781.7" cy="497.6" r="3.5"/><circle cx="628.8" cy="541.9" r="3.5"/><circle cx="776.4" cy="541.9" r="3.5"/><circle cx="763.9" cy="539.1" r="3.5"/><circle cx="749.7" cy="516.7" r="3.5"/><circle cx="826.5" cy="526.6" r="3.5"/><circle cx="883.9" cy="476.5" r="3.5"/><circle cx="719.4" cy="515.9" r="3.5"/><circle cx="814.7" cy="496.9" r="3.5"/><circle cx="779.6" cy="514.6" r="3.5"/><circle cx="847.5" cy="494.0" r="3.5"/><circle cx="797.6" cy="519.4" r="3.5"/><circle cx="866.6" cy="490.1" r="3.5"/><circle cx="656.8" cy="522.4" r="3.5"/><circle cx="819.5" cy="536.8" r="3.5"/><circle cx="762.4" cy="509.7" r="3.5"/><circle cx="883.0" cy="518.0" r="3.5"/><circle cx="793.9" cy="512.0" r="3.5"/><circle cx="719.2" cy="511.6" r="3.5"/><circle cx="831.4" cy="528.5" r="3.5"/><circle cx="772.6" cy="523.9" r="3.5"/><circle cx="892.6" cy="515.8" r="3.5"/><circle cx="842.7" cy="493.3" r="3.5"/><circle cx="865.3" cy="517.5" r="3.5"/><circle cx="738.4" cy="510.3" r="3.5"/><circle cx="736.7" cy="527.7" r="3.5"/><circle cx="792.7" cy="535.2" r="3.5"/><circle cx="879.2" cy="503.6" r="3.5"/><circle cx="888.6" cy="505.3" r="3.5"/><circle cx="805.8" cy="509.3" r="3.5"/><circle cx="886.0" cy="528.8" r="3.5"/><circle cx="875.1" cy="518.9" r="3.5"/><circle cx="862.2" cy="485.7" r="3.5"/><circle cx="670.8" cy="537.3" r="3.5"/><circle cx="843.0" cy="518.8" r="3.5"/><circle cx="718.2" cy="536.4" r="3.5"/><circle cx="810.2" cy="531.2" r="3.5"/><circle cx="832.3" cy="528.8" r="3.5"/><circle cx="735.9" cy="541.0" r="3.5"/><circle cx="747.9" cy="530.7" r="3.5"/><circle cx="877.9" cy="480.4" r="3.5"/><circle cx="826.0" cy="538.0" r="3.5"/><circle cx="828.8" cy="532.1" r="3.5"/><circle cx="705.0" cy="531.1" r="3.5"/><circle cx="693.1" cy="522.8" r="3.5"/><circle cx="728.0" cy="530.3" r="3.5"/><circle cx="792.8" cy="526.3" r="3.5"/><circle cx="803.2" cy="490.4" r="3.5"/><circle cx="810.9" cy="504.4" r="3.5"/><circle cx="646.2" cy="541.3" r="3.5"/><circle cx="864.7" cy="517.5" r="3.5"/><circle cx="835.3" cy="498.8" r="3.5"/><circle cx="793.6" cy="513.1" r="3.5"/><circle cx="893.3" cy="541.7" r="3.5"/><circle cx="855.4" cy="535.0" r="3.5"/><circle cx="655.8" cy="539.7" r="3.5"/><circle cx="885.3" cy="519.1" r="3.5"/><circle cx="795.3" cy="521.5" r="3.5"/><circle cx="899.5" cy="501.1" r="3.5"/><circle cx="888.3" cy="508.6" r="3.5"/><circle cx="794.5" cy="535.9" r="3.5"/><circle cx="844.0" cy="492.2" r="3.5"/><circle cx="738.0" cy="502.1" r="3.5"/><circle cx="848.0" cy="514.0" r="3.5"/><circle cx="880.2" cy="520.0" r="3.5"/><circle cx="817.1" cy="510.9" r="3.5"/><circle cx="849.3" cy="507.8" r="3.5"/><circle cx="854.3" cy="505.8" r="3.5"/><circle cx="765.5" cy="526.2" r="3.5"/><circle cx="791.1" cy="528.7" r="3.5"/><circle cx="757.6" cy="500.6" r="3.5"/><circle cx="669.6" cy="523.2" r="3.5"/><circle cx="861.3" cy="507.4" r="3.5"/><circle cx="670.1" cy="541.3" r="3.5"/><circle cx="657.9" cy="539.9" r="3.5"/><circle cx="834.9" cy="529.2" r="3.5"/><circle cx="835.1" cy="520.4" r="3.5"/><circle cx="818.3" cy="523.2" r="3.5"/><circle cx="820.1" cy="508.2" r="3.5"/><circle cx="791.4" cy="527.6" r="3.5"/><circle cx="683.9" cy="523.3" r="3.5"/><circle cx="729.6" cy="511.5" r="3.5"/><circle cx="763.8" cy="501.1" r="3.5"/><circle cx="834.9" cy="482.6" r="3.5"/><circle cx="879.6" cy="493.7" r="3.5"/><circle cx="794.8" cy="489.0" r="3.5"/><circle cx="819.3" cy="530.0" r="3.5"/><circle cx="836.0" cy="534.7" r="3.5"/><circle cx="798.5" cy="534.5" r="3.5"/><circle cx="905.8" cy="488.5" r="3.5"/><circle cx="806.7" cy="521.7" r="3.5"/><circle cx="770.5" cy="507.2" r="3.5"/><circle cx="774.6" cy="495.6" r="3.5"/><circle cx="754.4" cy="518.6" r="3.5"/><circle cx="884.4" cy="505.0" r="3.5"/><circle cx="899.7" cy="519.1" r="3.5"/><circle cx="619.7" cy="525.9" r="3.5"/><circle cx="609.5" cy="532.3" r="3.5"/><circle cx="851.7" cy="502.6" r="3.5"/><circle cx="775.1" cy="498.7" r="3.5"/><circle cx="735.1" cy="507.0" r="3.5"/><circle cx="750.0" cy="529.9" r="3.5"/><circle cx="744.2" cy="521.4" r="3.5"/><circle cx="736.5" cy="504.5" r="3.5"/><circle cx="880.1" cy="506.7" r="3.5"/><circle cx="868.8" cy="537.7" r="3.5"/><circle cx="868.1" cy="499.9" r="3.5"/><circle cx="834.3" cy="517.7" r="3.5"/><circle cx="685.4" cy="521.0" r="3.5"/><circle cx="805.2" cy="509.8" r="3.5"/><circle cx="687.3" cy="538.6" r="3.5"/><circle cx="844.2" cy="541.1" r="3.5"/><circle cx="732.6" cy="518.4" r="3.5"/><circle cx="767.8" cy="537.1" r="3.5"/><circle cx="757.3" cy="540.5" r="3.5"/><circle cx="814.4" cy="514.1" r="3.5"/><circle cx="884.9" cy="536.1" r="3.5"/><circle cx="727.3" cy="536.0" r="3.5"/><circle cx="748.8" cy="515.7" r="3.5"/><circle cx="893.1" cy="514.7" r="3.5"/><circle cx="757.7" cy="522.3" r="3.5"/><circle cx="836.5" cy="532.7" r="3.5"/><circle cx="809.6" cy="526.6" r="3.5"/><circle cx="871.3" cy="496.1" r="3.5"/><circle cx="775.6" cy="528.1" r="3.5"/><circle cx="655.0" cy="541.0" r="3.5"/><circle cx="899.2" cy="510.0" r="3.5"/><circle cx="677.1" cy="525.2" r="3.5"/><circle cx="719.2" cy="538.8" r="3.5"/><circle cx="754.5" cy="524.7" r="3.5"/><circle cx="824.8" cy="502.5" r="3.5"/><circle cx="902.0" cy="532.0" r="3.5"/><circle cx="694.4" cy="512.8" r="3.5"/><circle cx="819.3" cy="521.9" r="3.5"/><circle cx="703.6" cy="524.9" r="3.5"/><circle cx="846.3" cy="498.2" r="3.5"/><circle cx="780.2" cy="512.1" r="3.5"/><circle cx="810.3" cy="507.0" r="3.5"/><circle cx="685.4" cy="518.7" r="3.5"/><circle cx="871.0" cy="515.3" r="3.5"/><circle cx="811.6" cy="541.3" r="3.5"/><circle cx="719.6" cy="508.3" r="3.5"/><circle cx="876.6" cy="517.4" r="3.5"/><circle cx="608.9" cy="538.7" r="3.5"/><circle cx="883.1" cy="525.3" r="3.5"/><circle cx="903.0" cy="489.7" r="3.5"/><circle cx="658.7" cy="532.4" r="3.5"/><circle cx="903.9" cy="540.1" r="3.5"/><circle cx="802.8" cy="521.4" r="3.5"/><circle cx="823.2" cy="541.1" r="3.5"/><circle cx="828.8" cy="513.3" r="3.5"/><circle cx="819.8" cy="519.3" r="3.5"/><circle cx="778.8" cy="536.1" r="3.5"/><circle cx="765.1" cy="500.3" r="3.5"/><circle cx="742.8" cy="530.1" r="3.5"/><circle cx="735.7" cy="529.5" r="3.5"/><circle cx="893.5" cy="525.3" r="3.5"/><circle cx="845.3" cy="486.2" r="3.5"/><circle cx="898.2" cy="480.8" r="3.5"/><circle cx="811.4" cy="509.6" r="3.5"/><circle cx="866.0" cy="487.7" r="3.5"/><circle cx="899.6" cy="532.6" r="3.5"/><circle cx="861.2" cy="515.0" r="3.5"/><circle cx="786.3" cy="511.7" r="3.5"/><circle cx="846.5" cy="521.3" r="3.5"/><circle cx="844.9" cy="510.6" r="3.5"/><circle cx="866.1" cy="500.7" r="3.5"/><circle cx="755.7" cy="531.3" r="3.5"/><circle cx="734.1" cy="515.2" r="3.5"/><circle cx="866.4" cy="499.5" r="3.5"/><circle cx="807.6" cy="532.3" r="3.5"/><circle cx="682.7" cy="535.5" r="3.5"/><circle cx="874.8" cy="492.0" r="3.5"/><circle cx="835.1" cy="482.9" r="3.5"/><circle cx="902.4" cy="521.9" r="3.5"/><circle cx="865.0" cy="499.1" r="3.5"/><circle cx="820.1" cy="536.6" r="3.5"/><circle cx="886.5" cy="532.4" r="3.5"/><circle cx="881.9" cy="493.4" r="3.5"/><circle cx="600.0" cy="527.5" r="3.5"/><circle cx="603.2" cy="530.5" r="3.5"/><circle cx="606.4" cy="527.5" r="3.5"/><circle cx="609.6" cy="530.5" r="3.5"/><circle cx="612.8" cy="527.5" r="3.5"/><circle cx="616.0" cy="530.5" r="3.5"/><circle cx="619.2" cy="527.5" r="3.5"/><circle cx="599.0" cy="535.0" r="3.5"/><circle cx="602.5" cy="535.0" r="3.5"/><circle cx="606.0" cy="535.0" r="3.5"/><circle cx="609.5" cy="535.0" r="3.5"/><circle cx="613.0" cy="535.0" r="3.5"/><circle cx="616.5" cy="535.0" r="3.5"/><circle cx="620.0" cy="535.0" r="3.5"/></g><g fill="#1f77b4" fill-opacity="0.45"><circle cx="769.1" cy="448.8" r="3.95"/><circle cx="737.7" cy="466.6" r="3.95"/><circle cx="715.7" cy="447.7" r="3.95"/><circle cx="690.5" cy="469.7" r="3.95"/><circle cx="669.6" cy="469.7" r="3.95"/><circle cx="664.4" cy="483.3" r="3.95"/><circle cx="698.9" cy="484.4" r="3.95"/><circle cx="720.9" cy="479.1" r="3.95"/><circle cx="749.2" cy="479.1" r="3.95"/><circle cx="755.5" cy="483.3" r="3.95"/><circle cx="763.9" cy="483.3" r="3.95"/><circle cx="768.0" cy="489.6" r="3.95"/><circle cx="630.8" cy="516.8" r="3.95"/><circle cx="663.3" cy="507.4" r="3.95"/><circle cx="688.4" cy="502.2" r="3.95"/><circle cx="698.9" cy="491.7" r="3.95"/><circle cx="736.6" cy="517.9" r="3.95"/><circle cx="751.3" cy="495.9" r="3.95"/><circle cx="749.2" cy="514.7" r="3.95"/><circle cx="715.7" cy="527.3" r="3.95"/><circle cx="701.0" cy="526.3" r="3.95"/><circle cx="688.4" cy="518.9" r="3.95"/><circle cx="686.4" cy="529.4" r="3.95"/><circle cx="663.3" cy="527.3" r="3.95"/><circle cx="604.7" cy="527.3" r="3.95"/><circle cx="613.0" cy="527.3" r="3.95"/><circle cx="621.4" cy="527.3" r="3.95"/><circle cx="610.9" cy="533.6" r="3.95"/><circle cx="751.3" cy="533.6" r="3.95"/><circle cx="766.0" cy="529.4" r="3.95"/><circle cx="759.7" cy="535.7" r="3.95"/><circle cx="896.3" cy="413.3" r="3.95"/><circle cx="777.7" cy="425.9" r="3.95"/><circle cx="786.5" cy="433.5" r="3.95"/><circle cx="826.9" cy="427.9" r="3.95"/><circle cx="825.6" cy="443.6" r="3.95"/><circle cx="876.1" cy="442.3" r="3.95"/><circle cx="799.1" cy="457.5" r="3.95"/><circle cx="800.4" cy="468.8" r="3.95"/><circle cx="873.6" cy="462.5" r="3.95"/><circle cx="857.2" cy="465.0" r="3.95"/><circle cx="883.7" cy="467.6" r="3.95"/><circle cx="890.0" cy="466.3" r="3.95"/><circle cx="862.2" cy="480.2" r="3.95"/><circle cx="822.2" cy="491.3" r="3.95"/><circle cx="702.2" cy="540.5" r="3.95"/><circle cx="797.7" cy="515.3" r="3.95"/><circle cx="879.0" cy="481.4" r="3.95"/><circle cx="860.2" cy="503.5" r="3.95"/><circle cx="825.1" cy="487.2" r="3.95"/><circle cx="734.3" cy="529.2" r="3.95"/><circle cx="811.7" cy="536.7" r="3.95"/><circle cx="838.3" cy="505.4" r="3.95"/><circle cx="644.0" cy="525.3" r="3.95"/><circle cx="717.6" cy="539.8" r="3.95"/><circle cx="885.5" cy="501.8" r="3.95"/><circle cx="894.0" cy="514.2" r="3.95"/><circle cx="657.5" cy="518.6" r="3.95"/><circle cx="877.2" cy="500.4" r="3.95"/><circle cx="751.9" cy="539.0" r="3.95"/><circle cx="801.5" cy="520.5" r="3.95"/><circle cx="759.6" cy="514.5" r="3.95"/><circle cx="785.0" cy="530.0" r="3.95"/><circle cx="742.4" cy="505.8" r="3.95"/><circle cx="901.2" cy="528.3" r="3.95"/><circle cx="830.6" cy="505.5" r="3.95"/><circle cx="840.9" cy="499.8" r="3.95"/><circle cx="817.1" cy="486.9" r="3.95"/><circle cx="850.2" cy="488.6" r="3.95"/><circle cx="890.4" cy="489.6" r="3.95"/><circle cx="695.2" cy="512.6" r="3.95"/><circle cx="755.8" cy="516.5" r="3.95"/><circle cx="789.9" cy="499.2" r="3.95"/><circle cx="829.1" cy="498.8" r="3.95"/><circle cx="747.8" cy="516.0" r="3.95"/><circle cx="826.5" cy="496.6" r="3.95"/><circle cx="813.0" cy="532.1" r="3.95"/><circle cx="872.6" cy="481.5" r="3.95"/><circle cx="893.1" cy="502.9" r="3.95"/><circle cx="824.4" cy="512.4" r="3.95"/><circle cx="870.1" cy="481.2" r="3.95"/><circle cx="747.8" cy="527.8" r="3.95"/><circle cx="890.5" cy="531.0" r="3.95"/><circle cx="853.6" cy="537.4" r="3.95"/><circle cx="720.1" cy="536.4" r="3.95"/><circle cx="864.3" cy="534.4" r="3.95"/><circle cx="902.9" cy="476.5" r="3.95"/><circle cx="781.7" cy="497.6" r="3.95"/><circle cx="763.9" cy="539.1" r="3.95"/><circle cx="814.7" cy="496.9" r="3.95"/><circle cx="779.6" cy="514.6" r="3.95"/><circle cx="797.6" cy="519.4" r="3.95"/><circle cx="819.5" cy="536.8" r="3.95"/><circle cx="793.9" cy="512.0" r="3.95"/><circle cx="831.4" cy="528.5" r="3.95"/><circle cx="738.4" cy="510.3" r="3.95"/><circle cx="875.1" cy="518.9" r="3.95"/><circle cx="718.2" cy="536.4" r="3.95"/><circle cx="747.9" cy="530.7" r="3.95"/><circle cx="705.0" cy="531.1" r="3.95"/><circle cx="728.0" cy="530.3" r="3.95"/><circle cx="810.9" cy="504.4" r="3.95"/><circle cx="646.2" cy="541.3" r="3.95"/><circle cx="864.7" cy="517.5" r="3.95"/><circle cx="793.6" cy="513.1" r="3.95"/><circle cx="885.3" cy="519.1" r="3.95"/><circle cx="888.3" cy="508.6" r="3.95"/><circle cx="738.0" cy="502.1" r="3.95"/><circle cx="880.2" cy="520.0" r="3.95"/><circle cx="791.1" cy="528.7" r="3.95"/><circle cx="757.6" cy="500.6" r="3.95"/><circle cx="834.9" cy="529.2" r="3.95"/><circle cx="835.1" cy="520.4" r="3.95"/><circle cx="818.3" cy="523.2" r="3.95"/><circle cx="791.4" cy="527.6" r="3.95"/><circle cx="729.6" cy="511.5" r="3.95"/><circle cx="763.8" cy="501.1" r="3.95"/><circle cx="834.9" cy="482.6" r="3.95"/><circle cx="879.6" cy="493.7" r="3.95"/><circle cx="774.6" cy="495.6" r="3.95"/><circle cx="754.4" cy="518.6" r="3.95"/><circle cx="619.7" cy="525.9" r="3.95"/><circle cx="609.5" cy="532.3" r="3.95"/><circle cx="685.4" cy="521.0" r="3.95"/><circle cx="805.2" cy="509.8" r="3.95"/><circle cx="884.9" cy="536.1" r="3.95"/><circle cx="727.3" cy="536.0" r="3.95"/><circle cx="893.1" cy="514.7" r="3.95"/><circle cx="809.6" cy="526.6" r="3.95"/><circle cx="655.0" cy="541.0" r="3.95"/><circle cx="754.5" cy="524.7" r="3.95"/><circle cx="694.4" cy="512.8" r="3.95"/><circle cx="703.6" cy="524.9" r="3.95"/><circle cx="846.3" cy="498.2" r="3.95"/><circle cx="810.3" cy="507.0" r="3.95"/><circle cx="685.4" cy="518.7" r="3.95"/><circle cx="871.0" cy="515.3" r="3.95"/><circle cx="811.6" cy="541.3" r="3.95"/><circle cx="719.6" cy="508.3" r="3.95"/><circle cx="819.8" cy="519.3" r="3.95"/><circle cx="742.8" cy="530.1" r="3.95"/><circle cx="845.3" cy="486.2" r="3.95"/><circle cx="899.6" cy="532.6" r="3.95"/><circle cx="861.2" cy="515.0" r="3.95"/><circle cx="846.5" cy="521.3" r="3.95"/><circle cx="844.9" cy="510.6" r="3.95"/><circle cx="874.8" cy="492.0" r="3.95"/><circle cx="600.0" cy="527.5" r="3.95"/><circle cx="603.2" cy="530.5" r="3.95"/><circle cx="606.4" cy="527.5" r="3.95"/><circle cx="609.6" cy="530.5" r="3.95"/><circle cx="612.8" cy="527.5" r="3.95"/><circle cx="616.0" cy="530.5" r="3.95"/><circle cx="619.2" cy="527.5" r="3.95"/><circle cx="599.0" cy="535.0" r="3.95"/><circle cx="602.5" cy="535.0" r="3.95"/><circle cx="606.0" cy="535.0" r="3.95"/><circle cx="609.5" cy="535.0" r="3.95"/><circle cx="613.0" cy="535.0" r="3.95"/><circle cx="616.5" cy="535.0" r="3.95"/><circle cx="620.0" cy="535.0" r="3.95"/></g></g><line x1="241.6" y1="10.6" x2="241.6" y2="166.1" stroke="#b0b0b0" stroke-width="2.4"/><line x1="383.7" y1="10.6" x2="383.7" y2="166.1" stroke="#b0b0b0" stroke-width="2.4"/><line x1="596.4" y1="10.6" x2="596.4" y2="166.1" stroke="#b0b0b0" stroke-width="2.4"/><line x1="754.85" y1="10.6" x2="754.85" y2="166.1" stroke="#b0b0b0" stroke-width="2.4"/><line x1="241.6" y1="197.3" x2="241.6" y2="352.8" stroke="#b0b0b0" stroke-width="2.4"/><line x1="383.7" y1="197.3" x2="383.7" y2="352.8" stroke="#b0b0b0" stroke-width="2.4"/><line x1="596.4" y1="197.3" x2="596.4" y2="352.8" stroke="#b0b0b0" stroke-width="2.4"/><line x1="754.85" y1="197.3" x2="754.85" y2="352.8" stroke="#b0b0b0" stroke-width="2.4"/><line x1="241.6" y1="383.6" x2="241.6" y2="539.0" stroke="#b0b0b0" stroke-width="2.4"/><line x1="383.7" y1="383.6" x2="383.7" y2="539.0" stroke="#b0b0b0" stroke-width="2.4"/><line x1="596.4" y1="383.6" x2="596.4" y2="539.0" stroke="#b0b0b0" stroke-width="2.4"/><line x1="754.85" y1="383.6" x2="754.85" y2="539.0" stroke="#b0b0b0" stroke-width="2.4"/><g clip-path="url(#cl0)" fill="none" stroke-linejoin="round"><path d="M141.70,105.10 C149.75,107.23 173.28,113.55 190.00,117.90 C206.72,122.25 225.33,126.92 242.00,131.20 C258.67,135.48 273.93,139.48 290.00,143.60 C306.07,147.72 327.07,153.05 338.40,155.90 C349.73,158.75 351.40,159.27 358.00,160.70 C364.60,162.13 374.67,163.87 378.00,164.50" stroke="#1f77b4" stroke-width="2"/><path d="M141.70,108.20 C149.75,110.55 173.28,117.59 190.00,122.31 C206.72,127.03 225.33,132.08 242.00,136.54 C258.67,140.99 273.93,145.02 290.00,149.05 C306.07,153.08 327.07,158.03 338.40,160.70 C349.73,163.37 351.40,163.79 358.00,165.06 C364.60,166.33 374.67,167.79 378.00,168.34" stroke="#d62728" stroke-width="2.2"/><path d="M141.70,106.70 C149.75,108.83 173.28,115.15 190.00,119.50 C206.72,123.85 225.33,128.52 242.00,132.80 C258.67,137.08 273.93,141.08 290.00,145.20 C306.07,149.32 327.07,154.65 338.40,157.50 C349.73,160.35 351.40,160.87 358.00,162.30 C364.60,163.73 374.67,165.47 378.00,166.10" stroke="#000" stroke-width="2.6"/><path d="M141.70,107.50 C149.75,109.85 173.28,116.89 190.00,121.61 C206.72,126.33 225.33,131.38 242.00,135.84 C258.67,140.29 273.93,144.32 290.00,148.35 C306.07,152.38 327.07,157.33 338.40,160.00 C349.73,162.67 351.40,163.09 358.00,164.36 C364.60,165.63 374.67,167.09 378.00,167.64" stroke="#000" stroke-width="2.4" stroke-dasharray="8.8,3.4"/></g><g clip-path="url(#cl1)" fill="none" stroke-linejoin="round"><path d="M148.80,288.50 C157.33,290.65 184.55,297.19 200.00,301.40 C215.45,305.61 226.43,309.25 241.50,313.76 C256.57,318.28 273.90,323.53 290.40,328.47 C306.90,333.42 325.23,339.02 340.50,343.45 C355.77,347.88 375.08,353.11 382.00,355.04" stroke="#d62728" stroke-width="2.2"/><path d="M148.80,287.00 C157.33,288.92 184.55,294.65 200.00,298.50 C215.45,302.35 226.43,305.75 241.50,310.10 C256.57,314.45 273.90,319.58 290.40,324.60 C306.90,329.62 325.23,335.50 340.50,340.20 C355.77,344.90 375.08,350.70 382.00,352.80" stroke="#000" stroke-width="2.6"/><path d="M148.80,287.80 C157.33,289.95 184.55,296.49 200.00,300.70 C215.45,304.91 226.43,308.55 241.50,313.06 C256.57,317.58 273.90,322.83 290.40,327.77 C306.90,332.72 325.23,338.32 340.50,342.75 C355.77,347.18 375.08,352.41 382.00,354.34" stroke="#000" stroke-width="2.4" stroke-dasharray="8.8,3.4"/></g><g clip-path="url(#cl2)" fill="none" stroke-linejoin="round"><path d="M150.50,472.00 C157.10,473.37 174.93,476.17 190.10,480.21 C205.27,484.25 224.78,490.82 241.50,496.25 C258.22,501.67 273.90,507.41 290.40,512.78 C306.90,518.15 325.05,523.73 340.50,528.47 C355.95,533.22 376.00,539.11 383.10,541.24" stroke="#d62728" stroke-width="2.2"/><path d="M150.50,470.50 C157.10,471.68 174.93,473.92 190.10,477.60 C205.27,481.28 224.78,487.38 241.50,492.60 C258.22,497.82 273.90,503.47 290.40,508.90 C306.90,514.33 325.05,520.18 340.50,525.20 C355.95,530.22 376.00,536.70 383.10,539.00" stroke="#000" stroke-width="2.6"/><path d="M150.50,471.30 C157.10,472.67 174.93,475.47 190.10,479.51 C205.27,483.55 224.78,490.12 241.50,495.55 C258.22,500.97 273.90,506.71 290.40,512.08 C306.90,517.45 325.05,523.03 340.50,527.77 C355.95,532.52 376.00,538.41 383.10,540.54" stroke="#000" stroke-width="2.4" stroke-dasharray="8.8,3.4"/></g><g clip-path="url(#cr0)" fill="none" stroke-linejoin="round"><path d="M518.80,167.50 C522.50,166.37 533.30,162.67 541.00,160.70 C548.70,158.73 555.77,157.42 565.00,155.70 C574.23,153.98 587.23,151.88 596.40,150.40 C605.57,148.92 604.73,149.07 620.00,146.80 C635.27,144.53 661.45,140.38 688.00,136.80 C714.55,133.22 764.08,127.22 779.30,125.30" stroke="#ff7f0e" stroke-width="2"/><path d="M518.80,165.10 C522.50,163.97 533.30,160.27 541.00,158.30 C548.70,156.33 555.77,155.02 565.00,153.30 C574.23,151.58 587.23,149.48 596.40,148.00 C605.57,146.52 604.73,146.67 620.00,144.40 C635.27,142.13 661.45,137.98 688.00,134.40 C714.55,130.82 764.08,124.82 779.30,122.90" stroke="#1f77b4" stroke-width="1.8"/><path d="M518.80,166.10 C522.50,164.97 533.30,161.27 541.00,159.30 C548.70,157.33 555.77,156.02 565.00,154.30 C574.23,152.58 587.23,150.48 596.40,149.00 C605.57,147.52 604.73,147.67 620.00,145.40 C635.27,143.13 661.45,138.98 688.00,135.40 C714.55,131.82 764.08,125.82 779.30,123.90" stroke="#000" stroke-width="2.6"/><path d="M518.80,166.10 C522.50,164.78 533.30,160.55 541.00,158.20 C548.70,155.85 555.77,154.38 565.00,152.00 C574.23,149.62 587.23,146.03 596.40,143.90 C605.57,141.77 604.73,142.05 620.00,139.20 C635.27,136.35 661.45,130.92 688.00,126.80 C714.55,122.68 764.08,116.55 779.30,114.50" stroke="#d62728" stroke-width="3.8"/><path d="M518.80,166.10 C522.50,164.78 533.30,160.55 541.00,158.20 C548.70,155.85 555.77,154.38 565.00,152.00 C574.23,149.62 587.23,146.03 596.40,143.90 C605.57,141.77 604.73,142.05 620.00,139.20 C635.27,136.35 661.45,130.92 688.00,126.80 C714.55,122.68 764.08,116.55 779.30,114.50" stroke="#000" stroke-width="2.8" stroke-dasharray="8.8,3.4"/></g><g clip-path="url(#cr1)" fill="none" stroke-linejoin="round"><path d="M542.00,354.20 C546.67,352.98 560.93,349.28 570.00,346.90 C579.07,344.52 584.73,342.27 596.40,339.90 C608.07,337.53 624.40,335.65 640.00,332.70 C655.60,329.75 670.83,326.02 690.00,322.20 C709.17,318.38 736.17,312.67 755.00,309.80 C773.83,306.93 795.00,305.80 803.00,305.00" stroke="#ff7f0e" stroke-width="2"/><path d="M542.00,351.80 C546.67,350.58 560.93,346.88 570.00,344.50 C579.07,342.12 584.73,339.87 596.40,337.50 C608.07,335.13 624.40,333.25 640.00,330.30 C655.60,327.35 670.83,323.62 690.00,319.80 C709.17,315.98 736.17,310.27 755.00,307.40 C773.83,304.53 795.00,303.40 803.00,302.60" stroke="#1f77b4" stroke-width="1.8"/><path d="M542.00,352.80 C546.67,351.58 560.93,347.88 570.00,345.50 C579.07,343.12 584.73,340.87 596.40,338.50 C608.07,336.13 624.40,334.25 640.00,331.30 C655.60,328.35 670.83,324.62 690.00,320.80 C709.17,316.98 736.17,311.27 755.00,308.40 C773.83,305.53 795.00,304.40 803.00,303.60" stroke="#000" stroke-width="2.6"/><path d="M542.00,352.80 C546.67,351.42 560.93,347.28 570.00,344.50 C579.07,341.72 584.73,338.77 596.40,336.10 C608.07,333.43 624.40,331.45 640.00,328.50 C655.60,325.55 670.83,322.18 690.00,318.40 C709.17,314.62 736.17,308.98 755.00,305.80 C773.83,302.62 795.00,300.38 803.00,299.30" stroke="#d62728" stroke-width="3.8"/><path d="M542.00,352.80 C546.67,351.42 560.93,347.28 570.00,344.50 C579.07,341.72 584.73,338.77 596.40,336.10 C608.07,333.43 624.40,331.45 640.00,328.50 C655.60,325.55 670.83,322.18 690.00,318.40 C709.17,314.62 736.17,308.98 755.00,305.80 C773.83,302.62 795.00,300.38 803.00,299.30" stroke="#000" stroke-width="2.8" stroke-dasharray="8.8,3.4"/></g><g clip-path="url(#cr2)" fill="none" stroke-linejoin="round"><path d="M589.80,537.50 C593.17,536.38 602.80,533.20 610.00,530.80 C617.20,528.40 624.33,525.68 633.00,523.10 C641.67,520.52 652.50,517.80 662.00,515.30 C671.50,512.80 680.33,510.30 690.00,508.10 C699.67,505.90 709.17,503.97 720.00,502.10 C730.83,500.23 741.33,499.03 755.00,496.90 C768.67,494.77 786.03,491.47 802.00,489.30 C817.97,487.13 842.67,484.80 850.80,483.90" stroke="#d62728" stroke-width="2"/><path d="M589.80,540.20 C593.17,539.08 602.80,535.90 610.00,533.50 C617.20,531.10 624.33,528.38 633.00,525.80 C641.67,523.22 652.50,520.50 662.00,518.00 C671.50,515.50 680.33,513.00 690.00,510.80 C699.67,508.60 709.17,506.67 720.00,504.80 C730.83,502.93 741.33,501.73 755.00,499.60 C768.67,497.47 786.03,494.17 802.00,492.00 C817.97,489.83 842.67,487.50 850.80,486.60" stroke="#1f77b4" stroke-width="1.6"/><path d="M589.80,539.00 C593.17,537.88 602.80,534.70 610.00,532.30 C617.20,529.90 624.33,527.18 633.00,524.60 C641.67,522.02 652.50,519.30 662.00,516.80 C671.50,514.30 680.33,511.80 690.00,509.60 C699.67,507.40 709.17,505.47 720.00,503.60 C730.83,501.73 741.33,500.53 755.00,498.40 C768.67,496.27 786.03,492.97 802.00,490.80 C817.97,488.63 842.67,486.30 850.80,485.40" stroke="#000" stroke-width="2.8"/><path d="M589.80,539.60 C593.17,538.48 602.80,535.30 610.00,532.90 C617.20,530.50 624.33,527.78 633.00,525.20 C641.67,522.62 652.50,519.90 662.00,517.40 C671.50,514.90 680.33,512.40 690.00,510.20 C699.67,508.00 709.17,506.07 720.00,504.20 C730.83,502.33 741.33,501.13 755.00,499.00 C768.67,496.87 786.03,493.57 802.00,491.40 C817.97,489.23 842.67,486.90 850.80,486.00" stroke="#000" stroke-width="2.6" stroke-dasharray="8.8,3.4"/></g><path d="M431.1,10.6 H99.5 V166.1 H431.1" fill="none" stroke="#000" stroke-width="2.2" stroke-linecap="square" stroke-linejoin="miter"/><path d="M449.4,10.6 H913.3 V166.1 H449.4" fill="none" stroke="#000" stroke-width="2.2" stroke-linecap="square" stroke-linejoin="miter"/><line x1="99.50" y1="10.60" x2="99.50" y2="22.60" stroke="#000" stroke-width="2.2"/><line x1="99.50" y1="166.10" x2="99.50" y2="154.10" stroke="#000" stroke-width="2.2"/><line x1="241.60" y1="10.60" x2="241.60" y2="22.60" stroke="#000" stroke-width="2.2"/><line x1="241.60" y1="166.10" x2="241.60" y2="154.10" stroke="#000" stroke-width="2.2"/><line x1="383.70" y1="10.60" x2="383.70" y2="22.60" stroke="#000" stroke-width="2.2"/><line x1="383.70" y1="166.10" x2="383.70" y2="154.10" stroke="#000" stroke-width="2.2"/><line x1="596.40" y1="10.60" x2="596.40" y2="22.60" stroke="#000" stroke-width="2.2"/><line x1="596.40" y1="166.10" x2="596.40" y2="154.10" stroke="#000" stroke-width="2.2"/><line x1="754.85" y1="10.60" x2="754.85" y2="22.60" stroke="#000" stroke-width="2.2"/><line x1="754.85" y1="166.10" x2="754.85" y2="154.10" stroke="#000" stroke-width="2.2"/><line x1="913.30" y1="10.60" x2="913.30" y2="22.60" stroke="#000" stroke-width="2.2"/><line x1="913.30" y1="166.10" x2="913.30" y2="154.10" stroke="#000" stroke-width="2.2"/><line x1="127.92" y1="10.60" x2="127.92" y2="15.20" stroke="#000" stroke-width="2.2"/><line x1="127.92" y1="166.10" x2="127.92" y2="161.50" stroke="#000" stroke-width="2.2"/><line x1="156.34" y1="10.60" x2="156.34" y2="15.20" stroke="#000" stroke-width="2.2"/><line x1="156.34" y1="166.10" x2="156.34" y2="161.50" stroke="#000" stroke-width="2.2"/><line x1="184.76" y1="10.60" x2="184.76" y2="15.20" stroke="#000" stroke-width="2.2"/><line x1="184.76" y1="166.10" x2="184.76" y2="161.50" stroke="#000" stroke-width="2.2"/><line x1="213.18" y1="10.60" x2="213.18" y2="15.20" stroke="#000" stroke-width="2.2"/><line x1="213.18" y1="166.10" x2="213.18" y2="161.50" stroke="#000" stroke-width="2.2"/><line x1="270.02" y1="10.60" x2="270.02" y2="15.20" stroke="#000" stroke-width="2.2"/><line x1="270.02" y1="166.10" x2="270.02" y2="161.50" stroke="#000" stroke-width="2.2"/><line x1="298.44" y1="10.60" x2="298.44" y2="15.20" stroke="#000" stroke-width="2.2"/><line x1="298.44" y1="166.10" x2="298.44" y2="161.50" stroke="#000" stroke-width="2.2"/><line x1="326.86" y1="10.60" x2="326.86" y2="15.20" stroke="#000" stroke-width="2.2"/><line x1="326.86" y1="166.10" x2="326.86" y2="161.50" stroke="#000" stroke-width="2.2"/><line x1="355.28" y1="10.60" x2="355.28" y2="15.20" stroke="#000" stroke-width="2.2"/><line x1="355.28" y1="166.10" x2="355.28" y2="161.50" stroke="#000" stroke-width="2.2"/><line x1="412.12" y1="10.60" x2="412.12" y2="15.20" stroke="#000" stroke-width="2.2"/><line x1="412.12" y1="166.10" x2="412.12" y2="161.50" stroke="#000" stroke-width="2.2"/><line x1="469.64" y1="10.60" x2="469.64" y2="15.20" stroke="#000" stroke-width="2.2"/><line x1="469.64" y1="166.10" x2="469.64" y2="161.50" stroke="#000" stroke-width="2.2"/><line x1="501.33" y1="10.60" x2="501.33" y2="15.20" stroke="#000" stroke-width="2.2"/><line x1="501.33" y1="166.10" x2="501.33" y2="161.50" stroke="#000" stroke-width="2.2"/><line x1="533.02" y1="10.60" x2="533.02" y2="15.20" stroke="#000" stroke-width="2.2"/><line x1="533.02" y1="166.10" x2="533.02" y2="161.50" stroke="#000" stroke-width="2.2"/><line x1="564.71" y1="10.60" x2="564.71" y2="15.20" stroke="#000" stroke-width="2.2"/><line x1="564.71" y1="166.10" x2="564.71" y2="161.50" stroke="#000" stroke-width="2.2"/><line x1="628.09" y1="10.60" x2="628.09" y2="15.20" stroke="#000" stroke-width="2.2"/><line x1="628.09" y1="166.10" x2="628.09" y2="161.50" stroke="#000" stroke-width="2.2"/><line x1="659.78" y1="10.60" x2="659.78" y2="15.20" stroke="#000" stroke-width="2.2"/><line x1="659.78" y1="166.10" x2="659.78" y2="161.50" stroke="#000" stroke-width="2.2"/><line x1="691.47" y1="10.60" x2="691.47" y2="15.20" stroke="#000" stroke-width="2.2"/><line x1="691.47" y1="166.10" x2="691.47" y2="161.50" stroke="#000" stroke-width="2.2"/><line x1="723.16" y1="10.60" x2="723.16" y2="15.20" stroke="#000" stroke-width="2.2"/><line x1="723.16" y1="166.10" x2="723.16" y2="161.50" stroke="#000" stroke-width="2.2"/><line x1="786.54" y1="10.60" x2="786.54" y2="15.20" stroke="#000" stroke-width="2.2"/><line x1="786.54" y1="166.10" x2="786.54" y2="161.50" stroke="#000" stroke-width="2.2"/><line x1="818.23" y1="10.60" x2="818.23" y2="15.20" stroke="#000" stroke-width="2.2"/><line x1="818.23" y1="166.10" x2="818.23" y2="161.50" stroke="#000" stroke-width="2.2"/><line x1="849.92" y1="10.60" x2="849.92" y2="15.20" stroke="#000" stroke-width="2.2"/><line x1="849.92" y1="166.10" x2="849.92" y2="161.50" stroke="#000" stroke-width="2.2"/><line x1="881.61" y1="10.60" x2="881.61" y2="15.20" stroke="#000" stroke-width="2.2"/><line x1="881.61" y1="166.10" x2="881.61" y2="161.50" stroke="#000" stroke-width="2.2"/><line x1="99.50" y1="10.60" x2="111.50" y2="10.60" stroke="#000" stroke-width="2.2"/><line x1="913.30" y1="10.60" x2="901.30" y2="10.60" stroke="#000" stroke-width="2.2"/><line x1="99.50" y1="26.15" x2="104.10" y2="26.15" stroke="#000" stroke-width="2.2"/><line x1="913.30" y1="26.15" x2="908.70" y2="26.15" stroke="#000" stroke-width="2.2"/><line x1="99.50" y1="41.70" x2="104.10" y2="41.70" stroke="#000" stroke-width="2.2"/><line x1="913.30" y1="41.70" x2="908.70" y2="41.70" stroke="#000" stroke-width="2.2"/><line x1="99.50" y1="57.25" x2="104.10" y2="57.25" stroke="#000" stroke-width="2.2"/><line x1="913.30" y1="57.25" x2="908.70" y2="57.25" stroke="#000" stroke-width="2.2"/><line x1="99.50" y1="72.80" x2="104.10" y2="72.80" stroke="#000" stroke-width="2.2"/><line x1="913.30" y1="72.80" x2="908.70" y2="72.80" stroke="#000" stroke-width="2.2"/><line x1="99.50" y1="88.35" x2="111.50" y2="88.35" stroke="#000" stroke-width="2.2"/><line x1="913.30" y1="88.35" x2="901.30" y2="88.35" stroke="#000" stroke-width="2.2"/><line x1="99.50" y1="103.90" x2="104.10" y2="103.90" stroke="#000" stroke-width="2.2"/><line x1="913.30" y1="103.90" x2="908.70" y2="103.90" stroke="#000" stroke-width="2.2"/><line x1="99.50" y1="119.45" x2="104.10" y2="119.45" stroke="#000" stroke-width="2.2"/><line x1="913.30" y1="119.45" x2="908.70" y2="119.45" stroke="#000" stroke-width="2.2"/><line x1="99.50" y1="135.00" x2="104.10" y2="135.00" stroke="#000" stroke-width="2.2"/><line x1="913.30" y1="135.00" x2="908.70" y2="135.00" stroke="#000" stroke-width="2.2"/><line x1="99.50" y1="150.55" x2="104.10" y2="150.55" stroke="#000" stroke-width="2.2"/><line x1="913.30" y1="150.55" x2="908.70" y2="150.55" stroke="#000" stroke-width="2.2"/><line x1="99.50" y1="166.10" x2="111.50" y2="166.10" stroke="#000" stroke-width="2.2"/><line x1="913.30" y1="166.10" x2="901.30" y2="166.10" stroke="#000" stroke-width="2.2"/><path d="M431.1,197.3 H99.5 V352.8 H431.1" fill="none" stroke="#000" stroke-width="2.2" stroke-linecap="square" stroke-linejoin="miter"/><path d="M449.4,197.3 H913.3 V352.8 H449.4" fill="none" stroke="#000" stroke-width="2.2" stroke-linecap="square" stroke-linejoin="miter"/><line x1="99.50" y1="197.30" x2="99.50" y2="209.30" stroke="#000" stroke-width="2.2"/><line x1="99.50" y1="352.80" x2="99.50" y2="340.80" stroke="#000" stroke-width="2.2"/><line x1="241.60" y1="197.30" x2="241.60" y2="209.30" stroke="#000" stroke-width="2.2"/><line x1="241.60" y1="352.80" x2="241.60" y2="340.80" stroke="#000" stroke-width="2.2"/><line x1="383.70" y1="197.30" x2="383.70" y2="209.30" stroke="#000" stroke-width="2.2"/><line x1="383.70" y1="352.80" x2="383.70" y2="340.80" stroke="#000" stroke-width="2.2"/><line x1="596.40" y1="197.30" x2="596.40" y2="209.30" stroke="#000" stroke-width="2.2"/><line x1="596.40" y1="352.80" x2="596.40" y2="340.80" stroke="#000" stroke-width="2.2"/><line x1="754.85" y1="197.30" x2="754.85" y2="209.30" stroke="#000" stroke-width="2.2"/><line x1="754.85" y1="352.80" x2="754.85" y2="340.80" stroke="#000" stroke-width="2.2"/><line x1="913.30" y1="197.30" x2="913.30" y2="209.30" stroke="#000" stroke-width="2.2"/><line x1="913.30" y1="352.80" x2="913.30" y2="340.80" stroke="#000" stroke-width="2.2"/><line x1="127.92" y1="197.30" x2="127.92" y2="201.90" stroke="#000" stroke-width="2.2"/><line x1="127.92" y1="352.80" x2="127.92" y2="348.20" stroke="#000" stroke-width="2.2"/><line x1="156.34" y1="197.30" x2="156.34" y2="201.90" stroke="#000" stroke-width="2.2"/><line x1="156.34" y1="352.80" x2="156.34" y2="348.20" stroke="#000" stroke-width="2.2"/><line x1="184.76" y1="197.30" x2="184.76" y2="201.90" stroke="#000" stroke-width="2.2"/><line x1="184.76" y1="352.80" x2="184.76" y2="348.20" stroke="#000" stroke-width="2.2"/><line x1="213.18" y1="197.30" x2="213.18" y2="201.90" stroke="#000" stroke-width="2.2"/><line x1="213.18" y1="352.80" x2="213.18" y2="348.20" stroke="#000" stroke-width="2.2"/><line x1="270.02" y1="197.30" x2="270.02" y2="201.90" stroke="#000" stroke-width="2.2"/><line x1="270.02" y1="352.80" x2="270.02" y2="348.20" stroke="#000" stroke-width="2.2"/><line x1="298.44" y1="197.30" x2="298.44" y2="201.90" stroke="#000" stroke-width="2.2"/><line x1="298.44" y1="352.80" x2="298.44" y2="348.20" stroke="#000" stroke-width="2.2"/><line x1="326.86" y1="197.30" x2="326.86" y2="201.90" stroke="#000" stroke-width="2.2"/><line x1="326.86" y1="352.80" x2="326.86" y2="348.20" stroke="#000" stroke-width="2.2"/><line x1="355.28" y1="197.30" x2="355.28" y2="201.90" stroke="#000" stroke-width="2.2"/><line x1="355.28" y1="352.80" x2="355.28" y2="348.20" stroke="#000" stroke-width="2.2"/><line x1="412.12" y1="197.30" x2="412.12" y2="201.90" stroke="#000" stroke-width="2.2"/><line x1="412.12" y1="352.80" x2="412.12" y2="348.20" stroke="#000" stroke-width="2.2"/><line x1="469.64" y1="197.30" x2="469.64" y2="201.90" stroke="#000" stroke-width="2.2"/><line x1="469.64" y1="352.80" x2="469.64" y2="348.20" stroke="#000" stroke-width="2.2"/><line x1="501.33" y1="197.30" x2="501.33" y2="201.90" stroke="#000" stroke-width="2.2"/><line x1="501.33" y1="352.80" x2="501.33" y2="348.20" stroke="#000" stroke-width="2.2"/><line x1="533.02" y1="197.30" x2="533.02" y2="201.90" stroke="#000" stroke-width="2.2"/><line x1="533.02" y1="352.80" x2="533.02" y2="348.20" stroke="#000" stroke-width="2.2"/><line x1="564.71" y1="197.30" x2="564.71" y2="201.90" stroke="#000" stroke-width="2.2"/><line x1="564.71" y1="352.80" x2="564.71" y2="348.20" stroke="#000" stroke-width="2.2"/><line x1="628.09" y1="197.30" x2="628.09" y2="201.90" stroke="#000" stroke-width="2.2"/><line x1="628.09" y1="352.80" x2="628.09" y2="348.20" stroke="#000" stroke-width="2.2"/><line x1="659.78" y1="197.30" x2="659.78" y2="201.90" stroke="#000" stroke-width="2.2"/><line x1="659.78" y1="352.80" x2="659.78" y2="348.20" stroke="#000" stroke-width="2.2"/><line x1="691.47" y1="197.30" x2="691.47" y2="201.90" stroke="#000" stroke-width="2.2"/><line x1="691.47" y1="352.80" x2="691.47" y2="348.20" stroke="#000" stroke-width="2.2"/><line x1="723.16" y1="197.30" x2="723.16" y2="201.90" stroke="#000" stroke-width="2.2"/><line x1="723.16" y1="352.80" x2="723.16" y2="348.20" stroke="#000" stroke-width="2.2"/><line x1="786.54" y1="197.30" x2="786.54" y2="201.90" stroke="#000" stroke-width="2.2"/><line x1="786.54" y1="352.80" x2="786.54" y2="348.20" stroke="#000" stroke-width="2.2"/><line x1="818.23" y1="197.30" x2="818.23" y2="201.90" stroke="#000" stroke-width="2.2"/><line x1="818.23" y1="352.80" x2="818.23" y2="348.20" stroke="#000" stroke-width="2.2"/><line x1="849.92" y1="197.30" x2="849.92" y2="201.90" stroke="#000" stroke-width="2.2"/><line x1="849.92" y1="352.80" x2="849.92" y2="348.20" stroke="#000" stroke-width="2.2"/><line x1="881.61" y1="197.30" x2="881.61" y2="201.90" stroke="#000" stroke-width="2.2"/><line x1="881.61" y1="352.80" x2="881.61" y2="348.20" stroke="#000" stroke-width="2.2"/><line x1="99.50" y1="197.30" x2="111.50" y2="197.30" stroke="#000" stroke-width="2.2"/><line x1="913.30" y1="197.30" x2="901.30" y2="197.30" stroke="#000" stroke-width="2.2"/><line x1="99.50" y1="212.85" x2="104.10" y2="212.85" stroke="#000" stroke-width="2.2"/><line x1="913.30" y1="212.85" x2="908.70" y2="212.85" stroke="#000" stroke-width="2.2"/><line x1="99.50" y1="228.40" x2="104.10" y2="228.40" stroke="#000" stroke-width="2.2"/><line x1="913.30" y1="228.40" x2="908.70" y2="228.40" stroke="#000" stroke-width="2.2"/><line x1="99.50" y1="243.95" x2="104.10" y2="243.95" stroke="#000" stroke-width="2.2"/><line x1="913.30" y1="243.95" x2="908.70" y2="243.95" stroke="#000" stroke-width="2.2"/><line x1="99.50" y1="259.50" x2="104.10" y2="259.50" stroke="#000" stroke-width="2.2"/><line x1="913.30" y1="259.50" x2="908.70" y2="259.50" stroke="#000" stroke-width="2.2"/><line x1="99.50" y1="275.05" x2="111.50" y2="275.05" stroke="#000" stroke-width="2.2"/><line x1="913.30" y1="275.05" x2="901.30" y2="275.05" stroke="#000" stroke-width="2.2"/><line x1="99.50" y1="290.60" x2="104.10" y2="290.60" stroke="#000" stroke-width="2.2"/><line x1="913.30" y1="290.60" x2="908.70" y2="290.60" stroke="#000" stroke-width="2.2"/><line x1="99.50" y1="306.15" x2="104.10" y2="306.15" stroke="#000" stroke-width="2.2"/><line x1="913.30" y1="306.15" x2="908.70" y2="306.15" stroke="#000" stroke-width="2.2"/><line x1="99.50" y1="321.70" x2="104.10" y2="321.70" stroke="#000" stroke-width="2.2"/><line x1="913.30" y1="321.70" x2="908.70" y2="321.70" stroke="#000" stroke-width="2.2"/><line x1="99.50" y1="337.25" x2="104.10" y2="337.25" stroke="#000" stroke-width="2.2"/><line x1="913.30" y1="337.25" x2="908.70" y2="337.25" stroke="#000" stroke-width="2.2"/><line x1="99.50" y1="352.80" x2="111.50" y2="352.80" stroke="#000" stroke-width="2.2"/><line x1="913.30" y1="352.80" x2="901.30" y2="352.80" stroke="#000" stroke-width="2.2"/><path d="M431.1,383.6 H99.5 V539.0 H431.1" fill="none" stroke="#000" stroke-width="2.2" stroke-linecap="square" stroke-linejoin="miter"/><path d="M449.4,383.6 H913.3 V539.0 H449.4" fill="none" stroke="#000" stroke-width="2.2" stroke-linecap="square" stroke-linejoin="miter"/><line x1="99.50" y1="383.60" x2="99.50" y2="395.60" stroke="#000" stroke-width="2.2"/><line x1="99.50" y1="539.00" x2="99.50" y2="527.00" stroke="#000" stroke-width="2.2"/><line x1="241.60" y1="383.60" x2="241.60" y2="395.60" stroke="#000" stroke-width="2.2"/><line x1="241.60" y1="539.00" x2="241.60" y2="527.00" stroke="#000" stroke-width="2.2"/><line x1="383.70" y1="383.60" x2="383.70" y2="395.60" stroke="#000" stroke-width="2.2"/><line x1="383.70" y1="539.00" x2="383.70" y2="527.00" stroke="#000" stroke-width="2.2"/><line x1="596.40" y1="383.60" x2="596.40" y2="395.60" stroke="#000" stroke-width="2.2"/><line x1="596.40" y1="539.00" x2="596.40" y2="527.00" stroke="#000" stroke-width="2.2"/><line x1="754.85" y1="383.60" x2="754.85" y2="395.60" stroke="#000" stroke-width="2.2"/><line x1="754.85" y1="539.00" x2="754.85" y2="527.00" stroke="#000" stroke-width="2.2"/><line x1="913.30" y1="383.60" x2="913.30" y2="395.60" stroke="#000" stroke-width="2.2"/><line x1="913.30" y1="539.00" x2="913.30" y2="527.00" stroke="#000" stroke-width="2.2"/><line x1="127.92" y1="383.60" x2="127.92" y2="388.20" stroke="#000" stroke-width="2.2"/><line x1="127.92" y1="539.00" x2="127.92" y2="534.40" stroke="#000" stroke-width="2.2"/><line x1="156.34" y1="383.60" x2="156.34" y2="388.20" stroke="#000" stroke-width="2.2"/><line x1="156.34" y1="539.00" x2="156.34" y2="534.40" stroke="#000" stroke-width="2.2"/><line x1="184.76" y1="383.60" x2="184.76" y2="388.20" stroke="#000" stroke-width="2.2"/><line x1="184.76" y1="539.00" x2="184.76" y2="534.40" stroke="#000" stroke-width="2.2"/><line x1="213.18" y1="383.60" x2="213.18" y2="388.20" stroke="#000" stroke-width="2.2"/><line x1="213.18" y1="539.00" x2="213.18" y2="534.40" stroke="#000" stroke-width="2.2"/><line x1="270.02" y1="383.60" x2="270.02" y2="388.20" stroke="#000" stroke-width="2.2"/><line x1="270.02" y1="539.00" x2="270.02" y2="534.40" stroke="#000" stroke-width="2.2"/><line x1="298.44" y1="383.60" x2="298.44" y2="388.20" stroke="#000" stroke-width="2.2"/><line x1="298.44" y1="539.00" x2="298.44" y2="534.40" stroke="#000" stroke-width="2.2"/><line x1="326.86" y1="383.60" x2="326.86" y2="388.20" stroke="#000" stroke-width="2.2"/><line x1="326.86" y1="539.00" x2="326.86" y2="534.40" stroke="#000" stroke-width="2.2"/><line x1="355.28" y1="383.60" x2="355.28" y2="388.20" stroke="#000" stroke-width="2.2"/><line x1="355.28" y1="539.00" x2="355.28" y2="534.40" stroke="#000" stroke-width="2.2"/><line x1="412.12" y1="383.60" x2="412.12" y2="388.20" stroke="#000" stroke-width="2.2"/><line x1="412.12" y1="539.00" x2="412.12" y2="534.40" stroke="#000" stroke-width="2.2"/><line x1="469.64" y1="383.60" x2="469.64" y2="388.20" stroke="#000" stroke-width="2.2"/><line x1="469.64" y1="539.00" x2="469.64" y2="534.40" stroke="#000" stroke-width="2.2"/><line x1="501.33" y1="383.60" x2="501.33" y2="388.20" stroke="#000" stroke-width="2.2"/><line x1="501.33" y1="539.00" x2="501.33" y2="534.40" stroke="#000" stroke-width="2.2"/><line x1="533.02" y1="383.60" x2="533.02" y2="388.20" stroke="#000" stroke-width="2.2"/><line x1="533.02" y1="539.00" x2="533.02" y2="534.40" stroke="#000" stroke-width="2.2"/><line x1="564.71" y1="383.60" x2="564.71" y2="388.20" stroke="#000" stroke-width="2.2"/><line x1="564.71" y1="539.00" x2="564.71" y2="534.40" stroke="#000" stroke-width="2.2"/><line x1="628.09" y1="383.60" x2="628.09" y2="388.20" stroke="#000" stroke-width="2.2"/><line x1="628.09" y1="539.00" x2="628.09" y2="534.40" stroke="#000" stroke-width="2.2"/><line x1="659.78" y1="383.60" x2="659.78" y2="388.20" stroke="#000" stroke-width="2.2"/><line x1="659.78" y1="539.00" x2="659.78" y2="534.40" stroke="#000" stroke-width="2.2"/><line x1="691.47" y1="383.60" x2="691.47" y2="388.20" stroke="#000" stroke-width="2.2"/><line x1="691.47" y1="539.00" x2="691.47" y2="534.40" stroke="#000" stroke-width="2.2"/><line x1="723.16" y1="383.60" x2="723.16" y2="388.20" stroke="#000" stroke-width="2.2"/><line x1="723.16" y1="539.00" x2="723.16" y2="534.40" stroke="#000" stroke-width="2.2"/><line x1="786.54" y1="383.60" x2="786.54" y2="388.20" stroke="#000" stroke-width="2.2"/><line x1="786.54" y1="539.00" x2="786.54" y2="534.40" stroke="#000" stroke-width="2.2"/><line x1="818.23" y1="383.60" x2="818.23" y2="388.20" stroke="#000" stroke-width="2.2"/><line x1="818.23" y1="539.00" x2="818.23" y2="534.40" stroke="#000" stroke-width="2.2"/><line x1="849.92" y1="383.60" x2="849.92" y2="388.20" stroke="#000" stroke-width="2.2"/><line x1="849.92" y1="539.00" x2="849.92" y2="534.40" stroke="#000" stroke-width="2.2"/><line x1="881.61" y1="383.60" x2="881.61" y2="388.20" stroke="#000" stroke-width="2.2"/><line x1="881.61" y1="539.00" x2="881.61" y2="534.40" stroke="#000" stroke-width="2.2"/><line x1="99.50" y1="383.60" x2="111.50" y2="383.60" stroke="#000" stroke-width="2.2"/><line x1="913.30" y1="383.60" x2="901.30" y2="383.60" stroke="#000" stroke-width="2.2"/><line x1="99.50" y1="399.14" x2="104.10" y2="399.14" stroke="#000" stroke-width="2.2"/><line x1="913.30" y1="399.14" x2="908.70" y2="399.14" stroke="#000" stroke-width="2.2"/><line x1="99.50" y1="414.68" x2="104.10" y2="414.68" stroke="#000" stroke-width="2.2"/><line x1="913.30" y1="414.68" x2="908.70" y2="414.68" stroke="#000" stroke-width="2.2"/><line x1="99.50" y1="430.22" x2="104.10" y2="430.22" stroke="#000" stroke-width="2.2"/><line x1="913.30" y1="430.22" x2="908.70" y2="430.22" stroke="#000" stroke-width="2.2"/><line x1="99.50" y1="445.76" x2="104.10" y2="445.76" stroke="#000" stroke-width="2.2"/><line x1="913.30" y1="445.76" x2="908.70" y2="445.76" stroke="#000" stroke-width="2.2"/><line x1="99.50" y1="461.30" x2="111.50" y2="461.30" stroke="#000" stroke-width="2.2"/><line x1="913.30" y1="461.30" x2="901.30" y2="461.30" stroke="#000" stroke-width="2.2"/><line x1="99.50" y1="476.84" x2="104.10" y2="476.84" stroke="#000" stroke-width="2.2"/><line x1="913.30" y1="476.84" x2="908.70" y2="476.84" stroke="#000" stroke-width="2.2"/><line x1="99.50" y1="492.38" x2="104.10" y2="492.38" stroke="#000" stroke-width="2.2"/><line x1="913.30" y1="492.38" x2="908.70" y2="492.38" stroke="#000" stroke-width="2.2"/><line x1="99.50" y1="507.92" x2="104.10" y2="507.92" stroke="#000" stroke-width="2.2"/><line x1="913.30" y1="507.92" x2="908.70" y2="507.92" stroke="#000" stroke-width="2.2"/><line x1="99.50" y1="523.46" x2="104.10" y2="523.46" stroke="#000" stroke-width="2.2"/><line x1="913.30" y1="523.46" x2="908.70" y2="523.46" stroke="#000" stroke-width="2.2"/><line x1="99.50" y1="539.00" x2="111.50" y2="539.00" stroke="#000" stroke-width="2.2"/><line x1="913.30" y1="539.00" x2="901.30" y2="539.00" stroke="#000" stroke-width="2.2"/><g font-family="Liberation Serif" fill="#000" opacity="0.999"><text transform="translate(79.6,23.2) scale(1.04,1)" text-anchor="end" font-size="35" >12</text><text transform="translate(79.6,100.94999999999999) scale(1.04,1)" text-anchor="end" font-size="35" >6</text><text transform="translate(79.6,178.7) scale(1.04,1)" text-anchor="end" font-size="35" >0</text><text transform="translate(79.6,209.9) scale(1.04,1)" text-anchor="end" font-size="35" >12</text><text transform="translate(79.6,287.65000000000003) scale(1.04,1)" text-anchor="end" font-size="35" >6</text><text transform="translate(79.6,365.40000000000003) scale(1.04,1)" text-anchor="end" font-size="35" >0</text><text transform="translate(79.6,396.20000000000005) scale(1.04,1)" text-anchor="end" font-size="35" >12</text><text transform="translate(79.6,473.90000000000003) scale(1.04,1)" text-anchor="end" font-size="35" >6</text><text transform="translate(79.6,551.6) scale(1.04,1)" text-anchor="end" font-size="35" >0</text><text transform="translate(99.5,583.0) scale(1.09,1)" text-anchor="middle" font-size="35" >−0.2</text><text transform="translate(241.4,583.0) scale(1.09,1)" text-anchor="middle" font-size="35" >−0.1</text><text transform="translate(754.4,583.0) scale(1.09,1)" text-anchor="middle" font-size="35" >+0.1</text><text transform="translate(913.9,583.0) scale(1.09,1)" text-anchor="middle" font-size="35" >+0.2</text><text x="352.6" y="582.1" font-size="35" textLength="23" lengthAdjust="spacingAndGlyphs">E</text><text x="377" y="588.3" font-size="25">v,</text><text x="400.5" y="588.6" font-size="25">0</text><text x="566.3" y="582.1" font-size="35" textLength="23" lengthAdjust="spacingAndGlyphs">E</text><text x="591" y="588.3" font-size="25">c,</text><text x="612.3" y="588.6" font-size="25">0</text><text transform="translate(401.2,621.7) scale(1.04,1)" font-size="35">Energy</text><text transform="translate(520.6,621.7) scale(0.985,1)" font-size="35">(eV)</text><text x="936.9" y="96.2" font-size="36">1%</text><text x="923.2" y="294.6" font-size="36">0.3%</text><text x="938.3" y="476.4" font-size="36">0%</text><g transform="translate(25.2,389) rotate(-90)"><g transform="translate(0.2,-14.4) scale(1.41,1.23)" ><path d="M0.35,3.7 C0.9,1.3 2.1,0.1 2.9,0.5 C3.9,1.1 3.2,4.3 2.6,6.8 C2.0,9.4 3.0,11.2 4.9,11.2 C7.6,11.2 9.6,7.2 10.0,3.6 C10.2,2.2 9.9,1.4 9.6,1.1" fill="none" stroke="#000" stroke-width="1.9" stroke-linecap="round"/><ellipse cx="9.55" cy="1.55" rx="0.95" ry="1.25" fill="#000"/></g><text x="16.3" y="6.5" font-size="25"><tspan font-style="italic">n</tspan><tspan font-weight="bold">k</tspan><tspan>, </tspan><tspan font-style="italic">α</tspan></text><text x="83" y="0" font-size="35" textLength="144" lengthAdjust="spacingAndGlyphs">(eV bohr)</text></g><g transform="translate(472.8,411.09999999999997) scale(1.0,1.0)" ><path d="M0.35,3.7 C0.9,1.3 2.1,0.1 2.9,0.5 C3.9,1.1 3.2,4.3 2.6,6.8 C2.0,9.4 3.0,11.2 4.9,11.2 C7.6,11.2 9.6,7.2 10.0,3.6 C10.2,2.2 9.9,1.4 9.6,1.1" fill="none" stroke="#000" stroke-width="1.9" stroke-linecap="round"/><ellipse cx="9.55" cy="1.55" rx="0.95" ry="1.25" fill="#000"/></g><text x="484.1" y="426.79999999999995" font-size="18"><tspan font-style="italic">n</tspan><tspan font-weight="bold">k</tspan><tspan>, </tspan><tspan font-style="italic">x</tspan></text><g transform="translate(472.8,447.59999999999997) scale(1.0,1.0)" ><path d="M0.35,3.7 C0.9,1.3 2.1,0.1 2.9,0.5 C3.9,1.1 3.2,4.3 2.6,6.8 C2.0,9.4 3.0,11.2 4.9,11.2 C7.6,11.2 9.6,7.2 10.0,3.6 C10.2,2.2 9.9,1.4 9.6,1.1" fill="none" stroke="#000" stroke-width="1.9" stroke-linecap="round"/><ellipse cx="9.55" cy="1.55" rx="0.95" ry="1.25" fill="#000"/></g><text x="484.1" y="463.29999999999995" font-size="18"><tspan font-style="italic">n</tspan><tspan font-weight="bold">k</tspan><tspan>, </tspan><tspan font-style="italic">y</tspan></text><g transform="translate(531.8,447.59999999999997) scale(1.0,1.0)" ><path d="M0.35,3.7 C0.9,1.3 2.1,0.1 2.9,0.5 C3.9,1.1 3.2,4.3 2.6,6.8 C2.0,9.4 3.0,11.2 4.9,11.2 C7.6,11.2 9.6,7.2 10.0,3.6 C10.2,2.2 9.9,1.4 9.6,1.1" fill="none" stroke="#000" stroke-width="1.9" stroke-linecap="round"/><ellipse cx="9.55" cy="1.55" rx="0.95" ry="1.25" fill="#000"/></g><text x="543.1" y="463.29999999999995" font-size="18"><tspan font-style="italic">n</tspan><tspan font-weight="bold">k</tspan><tspan>, </tspan><tspan font-style="italic">z</tspan></text></g><line x1="403" y1="414.2" x2="453.6" y2="414.2" stroke="#000" stroke-width="3"/><line x1="404.3" y1="451" x2="453" y2="451" stroke="#000" stroke-width="3" stroke-dasharray="8.8,3.4"/></svg></body></html>
